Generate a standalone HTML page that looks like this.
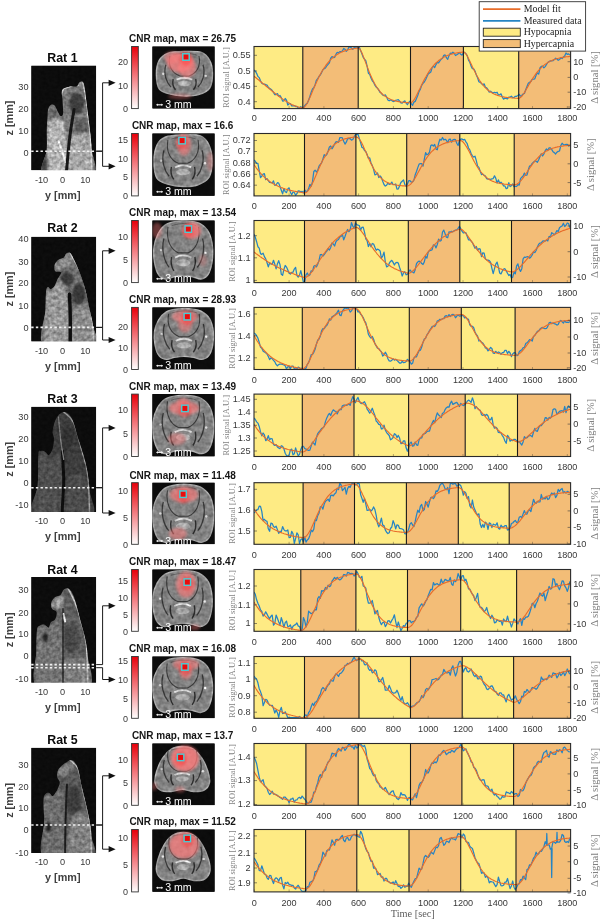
<!DOCTYPE html><html><head><meta charset="utf-8"><style>
html,body{margin:0;padding:0;background:#fff;width:602px;height:920px;overflow:hidden}
svg{display:block;filter:blur(0.35px)}
.t{font-family:"Liberation Sans",sans-serif;fill:#383838}
.s{font-family:"Liberation Serif",serif;fill:#808080}
.b{font-family:"Liberation Sans",sans-serif;font-weight:bold;fill:#111}
</style></head><body>
<svg width="602" height="920" viewBox="0 0 602 920">
<defs>
<linearGradient id="cb" x1="0" y1="1" x2="0" y2="0"><stop offset="0" stop-color="#ffffff"/><stop offset="1" stop-color="#e8000a"/></linearGradient>
<filter id="bl1" x="-20%" y="-20%" width="140%" height="140%"><feGaussianBlur stdDeviation="0.6"/></filter>
<filter id="bl2" x="-30%" y="-30%" width="160%" height="160%"><feGaussianBlur stdDeviation="2.2"/></filter>
<filter id="bl3" x="-30%" y="-30%" width="160%" height="160%"><feGaussianBlur stdDeviation="1.2"/></filter>
<clipPath id="cliptop"><rect x="0" y="0" width="602" height="920"/></clipPath>
</defs>
<rect x="254.0" y="46.5" width="48.8" height="62.1" fill="#feeb84"/>
<rect x="302.8" y="46.5" width="55.4" height="62.1" fill="#f3bd77"/>
<rect x="358.2" y="46.5" width="52.3" height="62.1" fill="#feeb84"/>
<rect x="410.5" y="46.5" width="52.9" height="62.1" fill="#f3bd77"/>
<rect x="463.4" y="46.5" width="55.3" height="62.1" fill="#feeb84"/>
<rect x="518.7" y="46.5" width="51.9" height="62.1" fill="#f3bd77"/>
<clipPath id="cc0"><rect x="254.0" y="46.5" width="316.6" height="62.1"/></clipPath>
<g clip-path="url(#cc0)">
<path d="M254.0,70.0 L255.3,71.2 L256.6,73.3 L257.9,76.4 L259.2,77.6 L260.5,80.7 L261.8,83.2 L263.1,84.0 L264.4,84.2 L265.7,84.7 L267.0,85.1 L268.3,87.1 L269.6,88.4 L270.9,89.2 L272.2,90.5 L273.5,92.4 L274.8,94.6 L276.1,94.6 L277.4,93.6 L278.7,96.0 L280.0,95.5 L281.3,97.6 L282.6,101.1 L283.9,100.8 L285.2,98.5 L286.5,100.1 L287.8,105.1 L289.1,103.7 L290.4,103.6 L291.7,105.9 L293.0,105.8 L294.3,105.6 L295.6,106.6 L296.9,106.4 L298.2,108.0 L299.5,107.9 L300.8,106.7 L302.1,108.0 L303.4,107.8 L304.7,105.7 L306.0,104.2 L307.3,103.3 L308.6,100.3 L309.9,96.5 L311.2,92.2 L312.5,89.0 L313.8,87.7 L315.1,84.7 L316.4,80.3 L317.7,78.5 L319.0,76.5 L320.3,74.9 L321.6,72.6 L322.9,69.8 L324.2,68.7 L325.5,68.0 L326.8,65.8 L328.1,64.3 L329.4,62.8 L330.7,58.2 L332.0,56.6 L333.3,57.6 L334.6,57.4 L335.9,54.4 L337.2,52.4 L338.5,52.9 L339.8,51.7 L341.1,51.5 L342.4,51.0 L343.7,48.5 L345.0,49.3 L346.3,51.3 L347.6,49.9 L348.9,47.1 L350.2,47.2 L351.5,47.9 L352.8,49.3 L354.1,47.6 L355.4,47.1 L356.7,47.1 L358.0,47.1 L359.3,47.1 L360.6,50.4 L361.9,53.8 L363.2,57.4 L364.5,59.2 L365.8,60.6 L367.1,66.2 L368.4,73.2 L369.7,74.4 L371.0,78.1 L372.3,80.8 L373.6,82.2 L374.9,85.2 L376.2,87.1 L377.5,88.2 L378.8,90.1 L380.1,92.4 L381.4,93.3 L382.7,95.0 L384.0,95.7 L385.3,94.8 L386.6,97.1 L387.9,99.9 L389.2,100.8 L390.5,99.9 L391.8,100.5 L393.1,101.6 L394.4,101.2 L395.7,100.3 L397.0,100.0 L398.3,99.7 L399.6,101.2 L400.9,102.9 L402.2,103.1 L403.5,101.7 L404.8,100.9 L406.1,103.2 L407.4,104.7 L408.7,102.4 L410.0,101.2 L411.3,103.6 L412.6,105.3 L413.9,102.1 L415.2,101.4 L416.5,98.4 L417.8,95.2 L419.1,91.4 L420.4,89.1 L421.7,85.3 L423.0,83.4 L424.3,82.0 L425.6,79.8 L426.9,76.8 L428.2,74.1 L429.5,73.0 L430.8,72.0 L432.1,67.7 L433.4,66.1 L434.7,67.5 L436.0,64.6 L437.3,62.5 L438.6,62.9 L439.9,60.8 L441.2,59.2 L442.5,58.2 L443.8,55.3 L445.1,54.9 L446.4,57.7 L447.7,59.4 L449.0,55.6 L450.3,53.2 L451.6,53.5 L452.9,52.2 L454.2,53.2 L455.5,55.5 L456.8,54.7 L458.1,53.9 L459.4,52.5 L460.7,54.3 L462.0,55.1 L463.3,53.0 L464.6,52.4 L465.9,53.6 L467.2,55.6 L468.5,60.1 L469.8,62.3 L471.1,66.1 L472.4,68.7 L473.7,68.9 L475.0,71.0 L476.3,74.9 L477.6,77.8 L478.9,81.8 L480.2,82.4 L481.5,83.6 L482.8,84.9 L484.1,83.8 L485.4,87.3 L486.7,87.9 L488.0,89.7 L489.3,92.1 L490.6,91.2 L491.9,92.4 L493.2,93.1 L494.5,92.3 L495.8,92.9 L497.1,92.2 L498.4,94.9 L499.7,94.8 L501.0,93.8 L502.3,97.1 L503.6,99.2 L504.9,98.1 L506.2,98.3 L507.5,98.8 L508.8,97.2 L510.1,97.1 L511.4,96.2 L512.7,97.7 L514.0,97.4 L515.3,96.3 L516.6,96.3 L517.9,95.4 L519.2,94.3 L520.5,96.2 L521.8,95.5 L523.1,94.0 L524.4,93.5 L525.7,89.7 L527.0,86.4 L528.3,83.3 L529.6,82.3 L530.9,81.4 L532.2,79.3 L533.5,79.1 L534.8,78.8 L536.1,75.3 L537.4,73.0 L538.7,74.1 L540.0,68.0 L541.3,66.4 L542.6,66.1 L543.9,67.8 L545.2,66.6 L546.5,64.5 L547.8,62.5 L549.1,61.6 L550.4,60.9 L551.7,60.9 L553.0,60.7 L554.3,59.6 L555.6,58.2 L556.9,58.9 L558.2,60.3 L559.5,59.5 L560.8,58.0 L562.1,58.5 L563.4,57.1 L564.7,56.1 L566.0,53.0 L567.3,54.4 L568.6,53.9 L569.9,55.1" fill="none" stroke="#2584c4" stroke-width="1.25" stroke-linejoin="round"/>
<path d="M254.0,76.2 L255.0,77.0 L256.0,77.8 L257.1,78.7 L258.1,79.5 L259.1,80.3 L260.1,81.2 L261.1,82.0 L262.1,82.8 L263.1,83.7 L264.2,84.5 L265.2,85.3 L266.2,86.2 L267.2,87.0 L268.2,87.9 L269.2,88.7 L270.3,89.5 L271.3,90.4 L272.3,91.2 L273.3,92.0 L274.3,92.8 L275.4,93.6 L276.4,94.4 L277.4,95.2 L278.4,96.0 L279.4,96.7 L280.4,97.5 L281.4,98.2 L282.5,98.9 L283.5,99.6 L284.5,100.3 L285.5,100.9 L286.5,101.6 L287.6,102.2 L288.6,102.8 L289.6,103.3 L290.6,103.9 L291.6,104.4 L292.6,104.9 L293.6,105.3 L294.7,105.8 L295.7,106.1 L296.7,106.5 L297.7,106.8 L298.7,107.1 L299.8,107.3 L300.8,107.5 L301.8,107.7 L302.8,107.8 L303.8,107.5 L304.8,106.6 L305.8,105.3 L306.8,103.7 L307.8,101.8 L308.8,99.7 L309.9,97.5 L310.9,95.2 L311.9,92.8 L312.9,90.4 L313.9,88.1 L314.9,85.8 L315.9,83.5 L316.9,81.3 L317.9,79.2 L318.9,77.1 L319.9,75.1 L320.9,73.3 L321.9,71.5 L322.9,69.8 L324.0,68.2 L325.0,66.7 L326.0,65.2 L327.0,63.9 L328.0,62.6 L329.0,61.5 L330.0,60.4 L331.0,59.3 L332.0,58.4 L333.0,57.5 L334.0,56.7 L335.0,55.9 L336.0,55.2 L337.0,54.5 L338.1,53.9 L339.1,53.3 L340.1,52.8 L341.1,52.3 L342.1,51.9 L343.1,51.4 L344.1,51.1 L345.1,50.7 L346.1,50.4 L347.1,50.1 L348.1,49.8 L349.1,49.5 L350.1,49.3 L351.1,49.1 L352.2,48.9 L353.2,48.7 L354.2,48.5 L355.2,48.4 L356.2,48.2 L357.2,48.1 L358.2,48.0 L359.2,48.5 L360.2,49.7 L361.2,51.5 L362.2,53.6 L363.2,56.1 L364.2,58.7 L365.2,61.4 L366.2,64.1 L367.3,66.9 L368.3,69.5 L369.3,72.1 L370.3,74.5 L371.3,76.8 L372.3,79.0 L373.3,81.1 L374.3,83.0 L375.3,84.8 L376.3,86.5 L377.3,88.0 L378.3,89.4 L379.3,90.7 L380.3,91.9 L381.3,93.0 L382.3,94.0 L383.3,94.9 L384.4,95.7 L385.4,96.4 L386.4,97.1 L387.4,97.7 L388.4,98.3 L389.4,98.8 L390.4,99.3 L391.4,99.7 L392.4,100.0 L393.4,100.4 L394.4,100.7 L395.4,100.9 L396.4,101.2 L397.4,101.4 L398.4,101.6 L399.4,101.8 L400.4,101.9 L401.4,102.1 L402.5,102.2 L403.5,102.3 L404.5,102.4 L405.5,102.5 L406.5,102.6 L407.5,102.6 L408.5,102.7 L409.5,102.7 L410.5,102.8 L411.5,102.5 L412.5,101.7 L413.6,100.5 L414.6,98.9 L415.6,97.2 L416.6,95.3 L417.6,93.2 L418.6,91.1 L419.7,89.0 L420.7,86.9 L421.7,84.8 L422.7,82.7 L423.7,80.7 L424.7,78.8 L425.8,77.0 L426.8,75.2 L427.8,73.5 L428.8,71.9 L429.8,70.4 L430.8,68.9 L431.9,67.6 L432.9,66.3 L433.9,65.2 L434.9,64.0 L435.9,63.0 L436.9,62.1 L438.0,61.2 L439.0,60.3 L440.0,59.6 L441.0,58.9 L442.0,58.2 L443.1,57.6 L444.1,57.1 L445.1,56.5 L446.1,56.1 L447.1,55.6 L448.1,55.2 L449.2,54.9 L450.2,54.5 L451.2,54.2 L452.2,53.9 L453.2,53.7 L454.2,53.4 L455.3,53.2 L456.3,53.0 L457.3,52.8 L458.3,52.6 L459.3,52.5 L460.3,52.4 L461.4,52.2 L462.4,52.1 L463.4,52.0 L464.4,52.3 L465.4,53.3 L466.4,54.6 L467.4,56.3 L468.4,58.3 L469.4,60.3 L470.4,62.5 L471.4,64.6 L472.4,66.8 L473.5,69.0 L474.5,71.0 L475.5,73.0 L476.5,75.0 L477.5,76.8 L478.5,78.5 L479.5,80.2 L480.5,81.7 L481.5,83.1 L482.5,84.4 L483.5,85.7 L484.5,86.8 L485.5,87.9 L486.5,88.8 L487.5,89.7 L488.5,90.5 L489.5,91.3 L490.5,92.0 L491.6,92.6 L492.6,93.2 L493.6,93.7 L494.6,94.2 L495.6,94.6 L496.6,95.0 L497.6,95.4 L498.6,95.7 L499.6,96.0 L500.6,96.2 L501.6,96.5 L502.6,96.7 L503.6,96.9 L504.6,97.1 L505.6,97.2 L506.6,97.4 L507.6,97.5 L508.6,97.6 L509.7,97.7 L510.7,97.8 L511.7,97.9 L512.7,98.0 L513.7,98.0 L514.7,98.1 L515.7,98.2 L516.7,98.2 L517.7,98.3 L518.7,98.3 L519.7,98.0 L520.7,97.3 L521.8,96.3 L522.8,95.0 L523.8,93.5 L524.8,91.9 L525.8,90.2 L526.8,88.4 L527.9,86.6 L528.9,84.8 L529.9,83.1 L530.9,81.4 L531.9,79.7 L532.9,78.1 L534.0,76.5 L535.0,75.1 L536.0,73.7 L537.0,72.3 L538.0,71.1 L539.1,69.9 L540.1,68.8 L541.1,67.8 L542.1,66.8 L543.1,65.9 L544.1,65.1 L545.2,64.3 L546.2,63.6 L547.2,62.9 L548.2,62.3 L549.2,61.7 L550.2,61.2 L551.3,60.7 L552.3,60.3 L553.3,59.9 L554.3,59.5 L555.3,59.2 L556.4,58.8 L557.4,58.5 L558.4,58.3 L559.4,58.0 L560.4,57.8 L561.4,57.6 L562.5,57.4 L563.5,57.2 L564.5,57.1 L565.5,56.9 L566.5,56.8 L567.5,56.7 L568.6,56.6 L569.6,56.5 L570.6,56.4" fill="none" stroke="#e86c2a" stroke-width="1.15"/>
</g>
<line x1="302.8" y1="46.5" x2="302.8" y2="108.6" stroke="#1a1a1a" stroke-width="1.1"/>
<line x1="358.2" y1="46.5" x2="358.2" y2="108.6" stroke="#1a1a1a" stroke-width="1.1"/>
<line x1="410.5" y1="46.5" x2="410.5" y2="108.6" stroke="#1a1a1a" stroke-width="1.1"/>
<line x1="463.4" y1="46.5" x2="463.4" y2="108.6" stroke="#1a1a1a" stroke-width="1.1"/>
<line x1="518.7" y1="46.5" x2="518.7" y2="108.6" stroke="#1a1a1a" stroke-width="1.1"/>
<line x1="254.3" y1="108.6" x2="254.3" y2="106.1" stroke="#6a5a40" stroke-width="0.5"/>
<text class="t" x="254.3" y="121.15" font-size="9.1" text-anchor="middle">0</text>
<line x1="289.1" y1="108.6" x2="289.1" y2="106.1" stroke="#6a5a40" stroke-width="0.5"/>
<text class="t" x="289.1" y="121.15" font-size="9.1" text-anchor="middle">200</text>
<line x1="323.9" y1="108.6" x2="323.9" y2="106.1" stroke="#6a5a40" stroke-width="0.5"/>
<text class="t" x="323.9" y="121.15" font-size="9.1" text-anchor="middle">400</text>
<line x1="358.6" y1="108.6" x2="358.6" y2="106.1" stroke="#6a5a40" stroke-width="0.5"/>
<text class="t" x="358.6" y="121.15" font-size="9.1" text-anchor="middle">600</text>
<line x1="393.4" y1="108.6" x2="393.4" y2="106.1" stroke="#6a5a40" stroke-width="0.5"/>
<text class="t" x="393.4" y="121.15" font-size="9.1" text-anchor="middle">800</text>
<line x1="428.2" y1="108.6" x2="428.2" y2="106.1" stroke="#6a5a40" stroke-width="0.5"/>
<text class="t" x="428.2" y="121.15" font-size="9.1" text-anchor="middle">1000</text>
<line x1="463.0" y1="108.6" x2="463.0" y2="106.1" stroke="#6a5a40" stroke-width="0.5"/>
<text class="t" x="463.0" y="121.15" font-size="9.1" text-anchor="middle">1200</text>
<line x1="497.7" y1="108.6" x2="497.7" y2="106.1" stroke="#6a5a40" stroke-width="0.5"/>
<text class="t" x="497.7" y="121.15" font-size="9.1" text-anchor="middle">1400</text>
<line x1="532.5" y1="108.6" x2="532.5" y2="106.1" stroke="#6a5a40" stroke-width="0.5"/>
<text class="t" x="532.5" y="121.15" font-size="9.1" text-anchor="middle">1600</text>
<line x1="567.3" y1="108.6" x2="567.3" y2="106.1" stroke="#6a5a40" stroke-width="0.5"/>
<text class="t" x="567.3" y="121.15" font-size="9.1" text-anchor="middle">1800</text>
<line x1="254.0" y1="55.3" x2="257.0" y2="55.3" stroke="#3c3c3c" stroke-width="0.6"/>
<text class="t" x="250.6" y="58.1" font-size="9.2" text-anchor="end">0.55</text>
<line x1="254.0" y1="71.0" x2="257.0" y2="71.0" stroke="#3c3c3c" stroke-width="0.6"/>
<text class="t" x="250.6" y="73.8" font-size="9.2" text-anchor="end">0.5</text>
<line x1="254.0" y1="86.3" x2="257.0" y2="86.3" stroke="#3c3c3c" stroke-width="0.6"/>
<text class="t" x="250.6" y="89.1" font-size="9.2" text-anchor="end">0.45</text>
<line x1="254.0" y1="101.7" x2="257.0" y2="101.7" stroke="#3c3c3c" stroke-width="0.6"/>
<text class="t" x="250.6" y="104.5" font-size="9.2" text-anchor="end">0.4</text>
<line x1="567.6" y1="61.7" x2="570.6" y2="61.7" stroke="#3c3c3c" stroke-width="0.6"/>
<text class="t" x="573.2" y="64.6" font-size="9.2">10</text>
<line x1="567.6" y1="77.4" x2="570.6" y2="77.4" stroke="#3c3c3c" stroke-width="0.6"/>
<text class="t" x="573.2" y="80.3" font-size="9.2">0</text>
<line x1="567.6" y1="92.2" x2="570.6" y2="92.2" stroke="#3c3c3c" stroke-width="0.6"/>
<text class="t" x="573.2" y="95.1" font-size="9.2">-10</text>
<line x1="567.6" y1="107.0" x2="570.6" y2="107.0" stroke="#3c3c3c" stroke-width="0.6"/>
<text class="t" x="573.2" y="109.9" font-size="9.2">-20</text>
<rect x="254.0" y="46.5" width="316.6" height="62.1" fill="none" stroke="#2a2a2a" stroke-width="1.1"/>
<text class="s" transform="translate(229.3,77.5) rotate(-90)" font-size="8.4" text-anchor="middle">ROI signal [A.U.]</text>
<text class="s" transform="translate(598.3,77.5) rotate(-90)" font-size="10.6" text-anchor="middle">&#916; signal [%]</text>
<rect x="254.0" y="133.5" width="50.5" height="62.4" fill="#feeb84"/>
<rect x="304.5" y="133.5" width="51.4" height="62.4" fill="#f3bd77"/>
<rect x="355.9" y="133.5" width="50.8" height="62.4" fill="#feeb84"/>
<rect x="406.7" y="133.5" width="53.1" height="62.4" fill="#f3bd77"/>
<rect x="459.8" y="133.5" width="54.4" height="62.4" fill="#feeb84"/>
<rect x="514.2" y="133.5" width="56.4" height="62.4" fill="#f3bd77"/>
<clipPath id="cc1"><rect x="254.0" y="133.5" width="316.6" height="62.4"/></clipPath>
<g clip-path="url(#cc1)">
<path d="M254.0,160.0 L255.3,161.3 L256.6,163.3 L257.9,163.4 L259.2,170.6 L260.5,177.6 L261.8,176.2 L263.1,174.1 L264.4,173.7 L265.7,179.6 L267.0,178.6 L268.3,180.6 L269.6,182.4 L270.9,182.7 L272.2,183.0 L273.5,180.8 L274.8,185.4 L276.1,185.0 L277.4,182.7 L278.7,183.1 L280.0,186.5 L281.3,190.2 L282.6,193.9 L283.9,188.6 L285.2,191.7 L286.5,192.6 L287.8,188.9 L289.1,187.8 L290.4,192.3 L291.7,194.7 L293.0,192.0 L294.3,192.5 L295.6,195.3 L296.9,193.7 L298.2,190.8 L299.5,191.1 L300.8,191.8 L302.1,191.3 L303.4,192.9 L304.7,189.8 L306.0,191.6 L307.3,191.2 L308.6,188.6 L309.9,184.5 L311.2,186.2 L312.5,181.7 L313.8,171.5 L315.1,170.2 L316.4,172.0 L317.7,170.4 L319.0,166.1 L320.3,164.4 L321.6,162.9 L322.9,159.1 L324.2,154.7 L325.5,155.9 L326.8,154.6 L328.1,151.0 L329.4,146.9 L330.7,146.0 L332.0,148.8 L333.3,146.7 L334.6,144.0 L335.9,141.8 L337.2,141.7 L338.5,142.3 L339.8,137.6 L341.1,137.5 L342.4,137.9 L343.7,141.2 L345.0,144.1 L346.3,142.2 L347.6,138.7 L348.9,138.5 L350.2,138.7 L351.5,140.1 L352.8,139.5 L354.1,137.0 L355.4,134.7 L356.7,134.6 L358.0,134.2 L359.3,138.4 L360.6,142.5 L361.9,147.4 L363.2,147.9 L364.5,150.5 L365.8,151.5 L367.1,154.5 L368.4,158.2 L369.7,157.9 L371.0,162.9 L372.3,165.6 L373.6,169.4 L374.9,174.9 L376.2,174.4 L377.5,172.9 L378.8,177.5 L380.1,175.9 L381.4,177.4 L382.7,181.3 L384.0,184.5 L385.3,186.1 L386.6,185.2 L387.9,183.2 L389.2,184.4 L390.5,183.9 L391.8,182.1 L393.1,184.7 L394.4,184.5 L395.7,184.0 L397.0,189.2 L398.3,188.9 L399.6,185.8 L400.9,182.5 L402.2,181.2 L403.5,179.9 L404.8,184.4 L406.1,186.4 L407.4,184.0 L408.7,180.7 L410.0,180.7 L411.3,182.1 L412.6,181.9 L413.9,180.1 L415.2,174.8 L416.5,171.5 L417.8,167.6 L419.1,164.1 L420.4,163.7 L421.7,163.7 L423.0,166.2 L424.3,159.4 L425.6,152.7 L426.9,154.8 L428.2,154.1 L429.5,152.1 L430.8,145.6 L432.1,144.9 L433.4,146.0 L434.7,144.5 L436.0,149.1 L437.3,149.8 L438.6,143.4 L439.9,139.2 L441.2,140.2 L442.5,137.5 L443.8,139.9 L445.1,139.2 L446.4,140.3 L447.7,142.7 L449.0,139.4 L450.3,139.1 L451.6,142.2 L452.9,139.8 L454.2,139.3 L455.5,139.7 L456.8,143.2 L458.1,145.5 L459.4,140.3 L460.7,139.2 L462.0,138.9 L463.3,140.0 L464.6,139.3 L465.9,141.9 L467.2,143.7 L468.5,148.0 L469.8,149.9 L471.1,153.5 L472.4,155.9 L473.7,157.1 L475.0,156.2 L476.3,160.6 L477.6,166.1 L478.9,167.4 L480.2,171.2 L481.5,174.6 L482.8,174.1 L484.1,175.3 L485.4,176.1 L486.7,178.6 L488.0,179.1 L489.3,179.1 L490.6,179.3 L491.9,178.9 L493.2,178.6 L494.5,175.8 L495.8,178.4 L497.1,183.0 L498.4,179.9 L499.7,183.0 L501.0,182.2 L502.3,183.6 L503.6,186.0 L504.9,185.9 L506.2,188.7 L507.5,188.2 L508.8,182.7 L510.1,186.6 L511.4,185.7 L512.7,183.9 L514.0,186.7 L515.3,186.3 L516.6,186.5 L517.9,184.7 L519.2,185.1 L520.5,178.6 L521.8,177.3 L523.1,176.0 L524.4,173.1 L525.7,175.4 L527.0,175.0 L528.3,170.0 L529.6,166.0 L530.9,165.5 L532.2,163.4 L533.5,162.2 L534.8,161.1 L536.1,161.2 L537.4,162.3 L538.7,159.8 L540.0,156.6 L541.3,153.8 L542.6,156.0 L543.9,154.0 L545.2,150.6 L546.5,148.9 L547.8,150.5 L549.1,147.9 L550.4,147.9 L551.7,149.4 L553.0,151.8 L554.3,152.6 L555.6,154.0 L556.9,152.2 L558.2,151.4 L559.5,151.0 L560.8,145.6 L562.1,143.2 L563.4,144.6 L564.7,144.8 L566.0,144.4 L567.3,144.3 L568.6,146.0 L569.9,145.6" fill="none" stroke="#2584c4" stroke-width="1.25" stroke-linejoin="round"/>
<path d="M254.0,164.5 L255.0,166.0 L256.0,167.5 L257.0,168.9 L258.0,170.2 L259.1,171.5 L260.1,172.7 L261.1,173.8 L262.1,174.9 L263.1,175.9 L264.1,176.9 L265.1,177.8 L266.1,178.7 L267.1,179.5 L268.1,180.3 L269.1,181.1 L270.2,181.8 L271.2,182.4 L272.2,183.1 L273.2,183.7 L274.2,184.3 L275.2,184.8 L276.2,185.3 L277.2,185.8 L278.2,186.3 L279.2,186.7 L280.3,187.2 L281.3,187.6 L282.3,187.9 L283.3,188.3 L284.3,188.6 L285.3,189.0 L286.3,189.3 L287.3,189.6 L288.3,189.9 L289.4,190.1 L290.4,190.4 L291.4,190.6 L292.4,190.8 L293.4,191.0 L294.4,191.3 L295.4,191.4 L296.4,191.6 L297.4,191.8 L298.4,192.0 L299.4,192.1 L300.5,192.3 L301.5,192.4 L302.5,192.6 L303.5,192.7 L304.5,192.8 L305.5,192.7 L306.5,192.2 L307.5,191.4 L308.5,190.2 L309.5,188.8 L310.5,187.1 L311.6,185.2 L312.6,183.1 L313.6,180.9 L314.6,178.6 L315.6,176.2 L316.6,173.9 L317.6,171.5 L318.6,169.2 L319.6,166.9 L320.6,164.7 L321.6,162.6 L322.6,160.6 L323.6,158.7 L324.7,156.9 L325.7,155.2 L326.7,153.6 L327.7,152.1 L328.7,150.7 L329.7,149.4 L330.7,148.2 L331.7,147.1 L332.7,146.1 L333.7,145.1 L334.7,144.3 L335.7,143.5 L336.8,142.8 L337.8,142.1 L338.8,141.5 L339.8,141.0 L340.8,140.5 L341.8,140.0 L342.8,139.6 L343.8,139.3 L344.8,138.9 L345.8,138.6 L346.8,138.4 L347.8,138.1 L348.8,137.9 L349.9,137.7 L350.9,137.5 L351.9,137.4 L352.9,137.2 L353.9,137.1 L354.9,137.0 L355.9,136.9 L356.9,137.1 L357.9,137.7 L358.9,138.6 L360.0,140.0 L361.0,141.6 L362.0,143.5 L363.0,145.6 L364.0,147.9 L365.0,150.2 L366.1,152.6 L367.1,155.0 L368.1,157.3 L369.1,159.6 L370.1,161.8 L371.1,163.9 L372.2,165.9 L373.2,167.7 L374.2,169.5 L375.2,171.1 L376.2,172.6 L377.2,174.0 L378.3,175.2 L379.3,176.4 L380.3,177.4 L381.3,178.4 L382.3,179.3 L383.3,180.0 L384.3,180.7 L385.4,181.4 L386.4,181.9 L387.4,182.4 L388.4,182.9 L389.4,183.3 L390.4,183.6 L391.5,184.0 L392.5,184.2 L393.5,184.5 L394.5,184.7 L395.5,184.9 L396.5,185.1 L397.6,185.2 L398.6,185.4 L399.6,185.5 L400.6,185.6 L401.6,185.7 L402.6,185.8 L403.7,185.8 L404.7,185.9 L405.7,186.0 L406.7,186.0 L407.7,185.9 L408.7,185.5 L409.7,184.9 L410.7,184.1 L411.7,183.0 L412.7,181.7 L413.7,180.2 L414.7,178.6 L415.7,176.9 L416.7,175.1 L417.7,173.3 L418.7,171.4 L419.7,169.6 L420.7,167.8 L421.7,166.0 L422.7,164.2 L423.7,162.5 L424.7,160.9 L425.7,159.3 L426.7,157.9 L427.7,156.5 L428.7,155.1 L429.7,153.9 L430.7,152.7 L431.7,151.7 L432.7,150.7 L433.8,149.7 L434.8,148.8 L435.8,148.0 L436.8,147.3 L437.8,146.6 L438.8,146.0 L439.8,145.4 L440.8,144.9 L441.8,144.4 L442.8,144.0 L443.8,143.6 L444.8,143.2 L445.8,142.9 L446.8,142.6 L447.8,142.3 L448.8,142.1 L449.8,141.8 L450.8,141.6 L451.8,141.5 L452.8,141.3 L453.8,141.1 L454.8,141.0 L455.8,140.9 L456.8,140.8 L457.8,140.7 L458.8,140.6 L459.8,140.5 L460.8,140.6 L461.8,141.1 L462.8,141.8 L463.8,142.9 L464.8,144.2 L465.8,145.7 L466.9,147.4 L467.9,149.2 L468.9,151.1 L469.9,153.1 L470.9,155.1 L471.9,157.1 L472.9,159.0 L473.9,160.9 L474.9,162.8 L475.9,164.5 L476.9,166.2 L477.9,167.8 L478.9,169.3 L479.9,170.7 L481.0,172.0 L482.0,173.2 L483.0,174.3 L484.0,175.3 L485.0,176.3 L486.0,177.1 L487.0,177.9 L488.0,178.7 L489.0,179.3 L490.0,179.9 L491.0,180.5 L492.0,180.9 L493.0,181.4 L494.1,181.8 L495.1,182.1 L496.1,182.5 L497.1,182.8 L498.1,183.0 L499.1,183.2 L500.1,183.5 L501.1,183.6 L502.1,183.8 L503.1,183.9 L504.1,184.1 L505.1,184.2 L506.1,184.3 L507.1,184.4 L508.2,184.5 L509.2,184.5 L510.2,184.6 L511.2,184.7 L512.2,184.7 L513.2,184.8 L514.2,184.8 L515.2,184.7 L516.2,184.4 L517.2,184.0 L518.2,183.3 L519.2,182.4 L520.2,181.4 L521.2,180.3 L522.3,179.0 L523.3,177.6 L524.3,176.2 L525.3,174.7 L526.3,173.2 L527.3,171.7 L528.3,170.2 L529.3,168.7 L530.3,167.2 L531.3,165.8 L532.3,164.4 L533.3,163.0 L534.3,161.8 L535.4,160.5 L536.4,159.4 L537.4,158.3 L538.4,157.2 L539.4,156.3 L540.4,155.4 L541.4,154.5 L542.4,153.7 L543.4,153.0 L544.4,152.3 L545.4,151.6 L546.4,151.0 L547.4,150.5 L548.4,150.0 L549.5,149.5 L550.5,149.1 L551.5,148.7 L552.5,148.3 L553.5,148.0 L554.5,147.7 L555.5,147.4 L556.5,147.2 L557.5,146.9 L558.5,146.7 L559.5,146.5 L560.5,146.4 L561.5,146.2 L562.5,146.1 L563.6,145.9 L564.6,145.8 L565.6,145.7 L566.6,145.6 L567.6,145.5 L568.6,145.4 L569.6,145.4 L570.6,145.3" fill="none" stroke="#e86c2a" stroke-width="1.15"/>
</g>
<line x1="304.5" y1="133.5" x2="304.5" y2="195.9" stroke="#1a1a1a" stroke-width="1.1"/>
<line x1="355.9" y1="133.5" x2="355.9" y2="195.9" stroke="#1a1a1a" stroke-width="1.1"/>
<line x1="406.7" y1="133.5" x2="406.7" y2="195.9" stroke="#1a1a1a" stroke-width="1.1"/>
<line x1="459.8" y1="133.5" x2="459.8" y2="195.9" stroke="#1a1a1a" stroke-width="1.1"/>
<line x1="514.2" y1="133.5" x2="514.2" y2="195.9" stroke="#1a1a1a" stroke-width="1.1"/>
<line x1="254.3" y1="195.9" x2="254.3" y2="193.4" stroke="#6a5a40" stroke-width="0.5"/>
<text class="t" x="254.3" y="208.63" font-size="9.1" text-anchor="middle">0</text>
<line x1="289.1" y1="195.9" x2="289.1" y2="193.4" stroke="#6a5a40" stroke-width="0.5"/>
<text class="t" x="289.1" y="208.63" font-size="9.1" text-anchor="middle">200</text>
<line x1="323.9" y1="195.9" x2="323.9" y2="193.4" stroke="#6a5a40" stroke-width="0.5"/>
<text class="t" x="323.9" y="208.63" font-size="9.1" text-anchor="middle">400</text>
<line x1="358.6" y1="195.9" x2="358.6" y2="193.4" stroke="#6a5a40" stroke-width="0.5"/>
<text class="t" x="358.6" y="208.63" font-size="9.1" text-anchor="middle">600</text>
<line x1="393.4" y1="195.9" x2="393.4" y2="193.4" stroke="#6a5a40" stroke-width="0.5"/>
<text class="t" x="393.4" y="208.63" font-size="9.1" text-anchor="middle">800</text>
<line x1="428.2" y1="195.9" x2="428.2" y2="193.4" stroke="#6a5a40" stroke-width="0.5"/>
<text class="t" x="428.2" y="208.63" font-size="9.1" text-anchor="middle">1000</text>
<line x1="463.0" y1="195.9" x2="463.0" y2="193.4" stroke="#6a5a40" stroke-width="0.5"/>
<text class="t" x="463.0" y="208.63" font-size="9.1" text-anchor="middle">1200</text>
<line x1="497.7" y1="195.9" x2="497.7" y2="193.4" stroke="#6a5a40" stroke-width="0.5"/>
<text class="t" x="497.7" y="208.63" font-size="9.1" text-anchor="middle">1400</text>
<line x1="532.5" y1="195.9" x2="532.5" y2="193.4" stroke="#6a5a40" stroke-width="0.5"/>
<text class="t" x="532.5" y="208.63" font-size="9.1" text-anchor="middle">1600</text>
<line x1="567.3" y1="195.9" x2="567.3" y2="193.4" stroke="#6a5a40" stroke-width="0.5"/>
<text class="t" x="567.3" y="208.63" font-size="9.1" text-anchor="middle">1800</text>
<line x1="254.0" y1="140.5" x2="257.0" y2="140.5" stroke="#3c3c3c" stroke-width="0.6"/>
<text class="t" x="250.6" y="143.3" font-size="9.2" text-anchor="end">0.72</text>
<line x1="254.0" y1="151.5" x2="257.0" y2="151.5" stroke="#3c3c3c" stroke-width="0.6"/>
<text class="t" x="250.6" y="154.3" font-size="9.2" text-anchor="end">0.7</text>
<line x1="254.0" y1="163.0" x2="257.0" y2="163.0" stroke="#3c3c3c" stroke-width="0.6"/>
<text class="t" x="250.6" y="165.8" font-size="9.2" text-anchor="end">0.68</text>
<line x1="254.0" y1="174.3" x2="257.0" y2="174.3" stroke="#3c3c3c" stroke-width="0.6"/>
<text class="t" x="250.6" y="177.1" font-size="9.2" text-anchor="end">0.66</text>
<line x1="254.0" y1="185.2" x2="257.0" y2="185.2" stroke="#3c3c3c" stroke-width="0.6"/>
<text class="t" x="250.6" y="188.0" font-size="9.2" text-anchor="end">0.64</text>
<line x1="567.6" y1="145.2" x2="570.6" y2="145.2" stroke="#3c3c3c" stroke-width="0.6"/>
<text class="t" x="573.2" y="148.1" font-size="9.2">5</text>
<line x1="567.6" y1="163.8" x2="570.6" y2="163.8" stroke="#3c3c3c" stroke-width="0.6"/>
<text class="t" x="573.2" y="166.7" font-size="9.2">0</text>
<line x1="567.6" y1="182.6" x2="570.6" y2="182.6" stroke="#3c3c3c" stroke-width="0.6"/>
<text class="t" x="573.2" y="185.5" font-size="9.2">-5</text>
<rect x="254.0" y="133.5" width="316.6" height="62.4" fill="none" stroke="#2a2a2a" stroke-width="1.1"/>
<text class="s" transform="translate(229.3,164.7) rotate(-90)" font-size="8.4" text-anchor="middle">ROI signal [A.U.]</text>
<text class="s" transform="translate(593.9,164.7) rotate(-90)" font-size="10.6" text-anchor="middle">&#916; signal [%]</text>
<rect x="254.0" y="220.5" width="50.5" height="62.1" fill="#feeb84"/>
<rect x="304.5" y="220.5" width="51.4" height="62.1" fill="#f3bd77"/>
<rect x="355.9" y="220.5" width="52.4" height="62.1" fill="#feeb84"/>
<rect x="408.3" y="220.5" width="51.5" height="62.1" fill="#f3bd77"/>
<rect x="459.8" y="220.5" width="51.7" height="62.1" fill="#feeb84"/>
<rect x="511.5" y="220.5" width="59.1" height="62.1" fill="#f3bd77"/>
<clipPath id="cc2"><rect x="254.0" y="220.5" width="316.6" height="62.1"/></clipPath>
<g clip-path="url(#cc2)">
<path d="M254.0,234.0 L255.3,237.3 L256.6,241.7 L257.9,246.7 L259.2,248.1 L260.5,253.6 L261.8,254.4 L263.1,253.1 L264.4,256.6 L265.7,258.9 L267.0,262.5 L268.3,266.9 L269.6,263.0 L270.9,264.0 L272.2,264.3 L273.5,260.3 L274.8,264.2 L276.1,268.8 L277.4,263.9 L278.7,260.7 L280.0,264.6 L281.3,274.3 L282.6,275.3 L283.9,269.4 L285.2,265.5 L286.5,267.1 L287.8,270.1 L289.1,273.3 L290.4,274.0 L291.7,272.3 L293.0,272.2 L294.3,269.1 L295.6,267.3 L296.9,275.4 L298.2,277.2 L299.5,275.2 L300.8,270.7 L302.1,276.4 L303.4,282.0 L304.7,282.0 L306.0,274.8 L307.3,273.0 L308.6,275.8 L309.9,274.7 L311.2,270.8 L312.5,271.3 L313.8,266.3 L315.1,265.4 L316.4,266.9 L317.7,264.2 L319.0,260.6 L320.3,254.6 L321.6,254.5 L322.9,256.2 L324.2,254.7 L325.5,252.7 L326.8,251.2 L328.1,248.4 L329.4,250.1 L330.7,247.4 L332.0,243.0 L333.3,244.1 L334.6,246.0 L335.9,241.8 L337.2,240.2 L338.5,239.5 L339.8,236.9 L341.1,236.4 L342.4,234.5 L343.7,239.8 L345.0,236.5 L346.3,232.6 L347.6,229.5 L348.9,231.7 L350.2,229.8 L351.5,222.6 L352.8,226.0 L354.1,228.4 L355.4,223.0 L356.7,224.7 L358.0,225.2 L359.3,225.5 L360.6,230.3 L361.9,227.3 L363.2,227.1 L364.5,232.1 L365.8,238.8 L367.1,240.6 L368.4,246.5 L369.7,243.4 L371.0,246.9 L372.3,243.5 L373.6,244.0 L374.9,247.3 L376.2,250.3 L377.5,249.1 L378.8,249.8 L380.1,250.9 L381.4,258.3 L382.7,256.0 L384.0,252.1 L385.3,261.8 L386.6,266.9 L387.9,266.2 L389.2,263.4 L390.5,261.4 L391.8,260.3 L393.1,262.4 L394.4,265.0 L395.7,262.8 L397.0,262.3 L398.3,263.1 L399.6,267.5 L400.9,271.2 L402.2,276.0 L403.5,272.9 L404.8,271.7 L406.1,274.8 L407.4,274.2 L408.7,271.8 L410.0,269.9 L411.3,271.7 L412.6,272.0 L413.9,272.9 L415.2,269.7 L416.5,263.6 L417.8,262.0 L419.1,261.1 L420.4,261.7 L421.7,263.6 L423.0,264.5 L424.3,261.9 L425.6,256.3 L426.9,258.2 L428.2,252.2 L429.5,250.6 L430.8,250.4 L432.1,249.8 L433.4,244.8 L434.7,245.1 L436.0,247.9 L437.3,244.5 L438.6,239.1 L439.9,241.1 L441.2,240.5 L442.5,232.0 L443.8,230.1 L445.1,233.7 L446.4,237.2 L447.7,237.7 L449.0,231.8 L450.3,232.1 L451.6,231.4 L452.9,231.8 L454.2,230.8 L455.5,230.0 L456.8,229.9 L458.1,228.4 L459.4,226.3 L460.7,228.6 L462.0,231.1 L463.3,233.0 L464.6,232.7 L465.9,232.7 L467.2,236.3 L468.5,239.8 L469.8,239.8 L471.1,241.1 L472.4,242.6 L473.7,245.4 L475.0,248.3 L476.3,246.5 L477.6,250.3 L478.9,248.6 L480.2,249.1 L481.5,256.6 L482.8,252.8 L484.1,253.2 L485.4,258.9 L486.7,259.8 L488.0,260.1 L489.3,260.6 L490.6,262.4 L491.9,268.3 L493.2,273.7 L494.5,268.6 L495.8,264.2 L497.1,262.1 L498.4,267.2 L499.7,273.0 L501.0,273.9 L502.3,271.1 L503.6,269.0 L504.9,268.7 L506.2,270.9 L507.5,273.2 L508.8,275.5 L510.1,274.4 L511.4,278.1 L512.7,277.2 L514.0,272.2 L515.3,273.8 L516.6,265.8 L517.9,263.8 L519.2,268.8 L520.5,271.4 L521.8,268.7 L523.1,258.8 L524.4,257.2 L525.7,257.3 L527.0,256.7 L528.3,256.9 L529.6,258.2 L530.9,257.0 L532.2,255.0 L533.5,251.7 L534.8,252.6 L536.1,250.5 L537.4,247.0 L538.7,244.2 L540.0,243.1 L541.3,243.0 L542.6,241.1 L543.9,240.8 L545.2,241.0 L546.5,240.2 L547.8,240.9 L549.1,236.3 L550.4,237.2 L551.7,232.7 L553.0,233.6 L554.3,234.9 L555.6,233.0 L556.9,230.6 L558.2,231.6 L559.5,227.8 L560.8,226.6 L562.1,226.0 L563.4,223.2 L564.7,226.5 L566.0,225.2 L567.3,223.0 L568.6,223.5 L569.9,227.8" fill="none" stroke="#2584c4" stroke-width="1.25" stroke-linejoin="round"/>
<path d="M254.0,252.0 L255.0,252.8 L256.0,253.6 L257.0,254.3 L258.0,255.1 L259.1,255.8 L260.1,256.6 L261.1,257.3 L262.1,258.0 L263.1,258.6 L264.1,259.3 L265.1,260.0 L266.1,260.6 L267.1,261.2 L268.1,261.9 L269.1,262.5 L270.2,263.0 L271.2,263.6 L272.2,264.2 L273.2,264.8 L274.2,265.3 L275.2,265.8 L276.2,266.4 L277.2,266.9 L278.2,267.4 L279.2,267.9 L280.3,268.4 L281.3,268.8 L282.3,269.3 L283.3,269.8 L284.3,270.2 L285.3,270.6 L286.3,271.1 L287.3,271.5 L288.3,271.9 L289.4,272.3 L290.4,272.7 L291.4,273.1 L292.4,273.5 L293.4,273.8 L294.4,274.2 L295.4,274.6 L296.4,274.9 L297.4,275.3 L298.4,275.6 L299.4,275.9 L300.5,276.3 L301.5,276.6 L302.5,276.9 L303.5,277.2 L304.5,277.5 L305.5,277.4 L306.5,276.9 L307.5,276.3 L308.5,275.4 L309.5,274.4 L310.5,273.3 L311.6,272.1 L312.6,270.7 L313.6,269.3 L314.6,267.8 L315.6,266.3 L316.6,264.8 L317.6,263.3 L318.6,261.7 L319.6,260.2 L320.6,258.7 L321.6,257.2 L322.6,255.7 L323.6,254.2 L324.7,252.8 L325.7,251.4 L326.7,250.1 L327.7,248.8 L328.7,247.5 L329.7,246.3 L330.7,245.1 L331.7,243.9 L332.7,242.8 L333.7,241.7 L334.7,240.7 L335.7,239.7 L336.8,238.8 L337.8,237.9 L338.8,237.0 L339.8,236.2 L340.8,235.4 L341.8,234.7 L342.8,234.0 L343.8,233.3 L344.8,232.6 L345.8,232.0 L346.8,231.4 L347.8,230.9 L348.8,230.3 L349.9,229.8 L350.9,229.3 L351.9,228.9 L352.9,228.5 L353.9,228.1 L354.9,227.7 L355.9,227.3 L356.9,227.5 L357.9,228.0 L358.9,228.7 L359.9,229.6 L360.9,230.7 L361.9,232.0 L363.0,233.4 L364.0,234.8 L365.0,236.3 L366.0,237.8 L367.0,239.4 L368.0,240.9 L369.0,242.5 L370.0,244.0 L371.0,245.5 L372.0,247.0 L373.0,248.4 L374.0,249.9 L375.0,251.2 L376.1,252.5 L377.1,253.8 L378.1,255.0 L379.1,256.2 L380.1,257.3 L381.1,258.4 L382.1,259.4 L383.1,260.4 L384.1,261.4 L385.1,262.2 L386.1,263.1 L387.1,263.9 L388.1,264.6 L389.2,265.3 L390.2,266.0 L391.2,266.7 L392.2,267.3 L393.2,267.8 L394.2,268.4 L395.2,268.9 L396.2,269.3 L397.2,269.8 L398.2,270.2 L399.2,270.6 L400.2,271.0 L401.2,271.3 L402.3,271.6 L403.3,271.9 L404.3,272.2 L405.3,272.5 L406.3,272.7 L407.3,273.0 L408.3,273.2 L409.3,273.1 L410.3,272.7 L411.3,272.1 L412.3,271.4 L413.3,270.5 L414.4,269.5 L415.4,268.4 L416.4,267.2 L417.4,266.0 L418.4,264.7 L419.4,263.4 L420.4,262.0 L421.4,260.7 L422.4,259.3 L423.4,258.0 L424.5,256.6 L425.5,255.3 L426.5,254.0 L427.5,252.7 L428.5,251.5 L429.5,250.2 L430.5,249.1 L431.5,247.9 L432.5,246.8 L433.5,245.7 L434.6,244.6 L435.6,243.6 L436.6,242.7 L437.6,241.7 L438.6,240.8 L439.6,240.0 L440.6,239.1 L441.6,238.3 L442.6,237.6 L443.6,236.8 L444.7,236.2 L445.7,235.5 L446.7,234.9 L447.7,234.3 L448.7,233.7 L449.7,233.1 L450.7,232.6 L451.7,232.1 L452.7,231.7 L453.7,231.2 L454.8,230.8 L455.8,230.4 L456.8,230.0 L457.8,229.7 L458.8,229.3 L459.8,229.0 L460.8,229.2 L461.8,229.6 L462.8,230.3 L463.9,231.3 L464.9,232.3 L465.9,233.5 L466.9,234.9 L467.9,236.2 L468.9,237.7 L469.9,239.1 L471.0,240.6 L472.0,242.1 L473.0,243.6 L474.0,245.0 L475.0,246.5 L476.0,247.9 L477.0,249.3 L478.0,250.6 L479.1,251.9 L480.1,253.1 L481.1,254.3 L482.1,255.5 L483.1,256.6 L484.1,257.6 L485.1,258.6 L486.2,259.6 L487.2,260.5 L488.2,261.4 L489.2,262.2 L490.2,263.0 L491.2,263.7 L492.2,264.4 L493.3,265.1 L494.3,265.7 L495.3,266.3 L496.3,266.8 L497.3,267.3 L498.3,267.8 L499.3,268.3 L500.3,268.7 L501.4,269.1 L502.4,269.5 L503.4,269.9 L504.4,270.2 L505.4,270.5 L506.4,270.8 L507.4,271.1 L508.5,271.3 L509.5,271.6 L510.5,271.8 L511.5,272.0 L512.5,271.9 L513.5,271.6 L514.5,271.2 L515.5,270.6 L516.5,269.9 L517.5,269.2 L518.5,268.3 L519.5,267.3 L520.5,266.3 L521.5,265.3 L522.5,264.2 L523.5,263.1 L524.5,262.0 L525.5,260.8 L526.5,259.6 L527.5,258.5 L528.5,257.3 L529.5,256.2 L530.5,255.0 L531.5,253.9 L532.5,252.8 L533.5,251.7 L534.5,250.6 L535.5,249.6 L536.5,248.5 L537.5,247.5 L538.5,246.5 L539.5,245.6 L540.5,244.7 L541.6,243.8 L542.6,242.9 L543.6,242.1 L544.6,241.2 L545.6,240.5 L546.6,239.7 L547.6,239.0 L548.6,238.2 L549.6,237.6 L550.6,236.9 L551.6,236.3 L552.6,235.7 L553.6,235.1 L554.6,234.5 L555.6,234.0 L556.6,233.5 L557.6,233.0 L558.6,232.5 L559.6,232.1 L560.6,231.6 L561.6,231.2 L562.6,230.8 L563.6,230.4 L564.6,230.1 L565.6,229.7 L566.6,229.4 L567.6,229.1 L568.6,228.8 L569.6,228.5 L570.6,228.2" fill="none" stroke="#e86c2a" stroke-width="1.15"/>
</g>
<line x1="304.5" y1="220.5" x2="304.5" y2="282.6" stroke="#1a1a1a" stroke-width="1.1"/>
<line x1="355.9" y1="220.5" x2="355.9" y2="282.6" stroke="#1a1a1a" stroke-width="1.1"/>
<line x1="408.3" y1="220.5" x2="408.3" y2="282.6" stroke="#1a1a1a" stroke-width="1.1"/>
<line x1="459.8" y1="220.5" x2="459.8" y2="282.6" stroke="#1a1a1a" stroke-width="1.1"/>
<line x1="511.5" y1="220.5" x2="511.5" y2="282.6" stroke="#1a1a1a" stroke-width="1.1"/>
<line x1="254.3" y1="282.6" x2="254.3" y2="280.1" stroke="#6a5a40" stroke-width="0.5"/>
<text class="t" x="254.3" y="295.51" font-size="9.1" text-anchor="middle">0</text>
<line x1="289.1" y1="282.6" x2="289.1" y2="280.1" stroke="#6a5a40" stroke-width="0.5"/>
<text class="t" x="289.1" y="295.51" font-size="9.1" text-anchor="middle">200</text>
<line x1="323.9" y1="282.6" x2="323.9" y2="280.1" stroke="#6a5a40" stroke-width="0.5"/>
<text class="t" x="323.9" y="295.51" font-size="9.1" text-anchor="middle">400</text>
<line x1="358.6" y1="282.6" x2="358.6" y2="280.1" stroke="#6a5a40" stroke-width="0.5"/>
<text class="t" x="358.6" y="295.51" font-size="9.1" text-anchor="middle">600</text>
<line x1="393.4" y1="282.6" x2="393.4" y2="280.1" stroke="#6a5a40" stroke-width="0.5"/>
<text class="t" x="393.4" y="295.51" font-size="9.1" text-anchor="middle">800</text>
<line x1="428.2" y1="282.6" x2="428.2" y2="280.1" stroke="#6a5a40" stroke-width="0.5"/>
<text class="t" x="428.2" y="295.51" font-size="9.1" text-anchor="middle">1000</text>
<line x1="463.0" y1="282.6" x2="463.0" y2="280.1" stroke="#6a5a40" stroke-width="0.5"/>
<text class="t" x="463.0" y="295.51" font-size="9.1" text-anchor="middle">1200</text>
<line x1="497.7" y1="282.6" x2="497.7" y2="280.1" stroke="#6a5a40" stroke-width="0.5"/>
<text class="t" x="497.7" y="295.51" font-size="9.1" text-anchor="middle">1400</text>
<line x1="532.5" y1="282.6" x2="532.5" y2="280.1" stroke="#6a5a40" stroke-width="0.5"/>
<text class="t" x="532.5" y="295.51" font-size="9.1" text-anchor="middle">1600</text>
<line x1="567.3" y1="282.6" x2="567.3" y2="280.1" stroke="#6a5a40" stroke-width="0.5"/>
<text class="t" x="567.3" y="295.51" font-size="9.1" text-anchor="middle">1800</text>
<line x1="254.0" y1="235.7" x2="257.0" y2="235.7" stroke="#3c3c3c" stroke-width="0.6"/>
<text class="t" x="250.6" y="238.5" font-size="9.2" text-anchor="end">1.2</text>
<line x1="254.0" y1="257.8" x2="257.0" y2="257.8" stroke="#3c3c3c" stroke-width="0.6"/>
<text class="t" x="250.6" y="260.6" font-size="9.2" text-anchor="end">1.1</text>
<line x1="254.0" y1="280.4" x2="257.0" y2="280.4" stroke="#3c3c3c" stroke-width="0.6"/>
<text class="t" x="250.6" y="283.2" font-size="9.2" text-anchor="end">1</text>
<line x1="567.6" y1="226.0" x2="570.6" y2="226.0" stroke="#3c3c3c" stroke-width="0.6"/>
<text class="t" x="573.2" y="228.9" font-size="9.2">10</text>
<line x1="567.6" y1="251.7" x2="570.6" y2="251.7" stroke="#3c3c3c" stroke-width="0.6"/>
<text class="t" x="573.2" y="254.6" font-size="9.2">0</text>
<line x1="567.6" y1="277.0" x2="570.6" y2="277.0" stroke="#3c3c3c" stroke-width="0.6"/>
<text class="t" x="573.2" y="279.9" font-size="9.2">-10</text>
<rect x="254.0" y="220.5" width="316.6" height="62.1" fill="none" stroke="#2a2a2a" stroke-width="1.1"/>
<text class="s" transform="translate(234.5,251.6) rotate(-90)" font-size="8.4" text-anchor="middle">ROI signal [A.U.]</text>
<text class="s" transform="translate(598.3,251.6) rotate(-90)" font-size="10.6" text-anchor="middle">&#916; signal [%]</text>
<rect x="254.0" y="307.4" width="48.3" height="62.1" fill="#feeb84"/>
<rect x="302.3" y="307.4" width="53.1" height="62.1" fill="#f3bd77"/>
<rect x="355.4" y="307.4" width="53.9" height="62.1" fill="#feeb84"/>
<rect x="409.3" y="307.4" width="52.0" height="62.1" fill="#f3bd77"/>
<rect x="461.3" y="307.4" width="53.8" height="62.1" fill="#feeb84"/>
<rect x="515.1" y="307.4" width="55.5" height="62.1" fill="#f3bd77"/>
<clipPath id="cc3"><rect x="254.0" y="307.4" width="316.6" height="62.1"/></clipPath>
<g clip-path="url(#cc3)">
<path d="M254.0,333.0 L255.3,333.9 L256.6,335.7 L257.9,338.1 L259.2,342.3 L260.5,347.0 L261.8,348.2 L263.1,351.1 L264.4,351.9 L265.7,352.8 L267.0,354.0 L268.3,356.5 L269.6,359.6 L270.9,357.8 L272.2,358.6 L273.5,360.4 L274.8,361.7 L276.1,364.4 L277.4,365.8 L278.7,364.6 L280.0,364.0 L281.3,364.2 L282.6,364.5 L283.9,365.0 L285.2,365.8 L286.5,368.9 L287.8,366.9 L289.1,366.1 L290.4,368.6 L291.7,366.2 L293.0,366.1 L294.3,368.6 L295.6,368.9 L296.9,368.9 L298.2,367.1 L299.5,367.8 L300.8,368.9 L302.1,368.0 L303.4,368.9 L304.7,368.9 L306.0,368.3 L307.3,364.3 L308.6,362.6 L309.9,359.0 L311.2,354.7 L312.5,354.4 L313.8,352.3 L315.1,349.3 L316.4,344.1 L317.7,340.3 L319.0,339.0 L320.3,336.2 L321.6,330.8 L322.9,328.7 L324.2,328.7 L325.5,326.6 L326.8,325.6 L328.1,322.9 L329.4,318.9 L330.7,320.0 L332.0,316.8 L333.3,316.1 L334.6,315.2 L335.9,314.0 L337.2,312.3 L338.5,310.2 L339.8,315.2 L341.1,315.7 L342.4,311.2 L343.7,309.3 L345.0,308.0 L346.3,308.5 L347.6,308.0 L348.9,308.9 L350.2,312.1 L351.5,310.9 L352.8,308.0 L354.1,308.0 L355.4,308.0 L356.7,309.0 L358.0,312.0 L359.3,311.6 L360.6,314.1 L361.9,315.5 L363.2,317.5 L364.5,320.8 L365.8,322.9 L367.1,327.8 L368.4,334.3 L369.7,336.6 L371.0,338.1 L372.3,336.4 L373.6,339.3 L374.9,343.6 L376.2,345.9 L377.5,348.1 L378.8,348.5 L380.1,350.3 L381.4,352.0 L382.7,356.1 L384.0,355.0 L385.3,352.2 L386.6,354.3 L387.9,358.7 L389.2,360.9 L390.5,361.2 L391.8,360.2 L393.1,358.9 L394.4,360.1 L395.7,359.3 L397.0,360.4 L398.3,361.7 L399.6,363.0 L400.9,363.0 L402.2,361.3 L403.5,362.7 L404.8,362.5 L406.1,361.6 L407.4,359.4 L408.7,360.4 L410.0,361.5 L411.3,364.1 L412.6,363.3 L413.9,357.9 L415.2,356.8 L416.5,356.9 L417.8,353.4 L419.1,350.7 L420.4,350.2 L421.7,347.1 L423.0,342.4 L424.3,339.1 L425.6,338.3 L426.9,334.9 L428.2,333.2 L429.5,330.5 L430.8,328.7 L432.1,326.5 L433.4,326.0 L434.7,326.5 L436.0,324.4 L437.3,320.9 L438.6,320.6 L439.9,319.3 L441.2,319.5 L442.5,318.7 L443.8,318.6 L445.1,316.1 L446.4,315.6 L447.7,316.9 L449.0,314.6 L450.3,316.5 L451.6,314.8 L452.9,314.3 L454.2,315.1 L455.5,317.8 L456.8,316.1 L458.1,315.1 L459.4,316.1 L460.7,315.8 L462.0,315.6 L463.3,315.5 L464.6,317.9 L465.9,317.4 L467.2,318.8 L468.5,319.4 L469.8,324.9 L471.1,326.3 L472.4,326.3 L473.7,327.7 L475.0,332.0 L476.3,334.5 L477.6,336.2 L478.9,341.0 L480.2,340.5 L481.5,342.4 L482.8,343.1 L484.1,345.1 L485.4,347.9 L486.7,348.4 L488.0,350.9 L489.3,349.5 L490.6,347.4 L491.9,348.5 L493.2,353.1 L494.5,353.3 L495.8,351.3 L497.1,352.9 L498.4,352.0 L499.7,352.5 L501.0,354.3 L502.3,352.6 L503.6,352.6 L504.9,350.4 L506.2,350.3 L507.5,353.6 L508.8,351.3 L510.1,353.0 L511.4,356.6 L512.7,354.0 L514.0,352.6 L515.3,352.8 L516.6,355.6 L517.9,355.3 L519.2,352.0 L520.5,350.5 L521.8,349.9 L523.1,347.7 L524.4,347.5 L525.7,343.6 L527.0,342.7 L528.3,341.4 L529.6,339.6 L530.9,340.0 L532.2,341.0 L533.5,336.4 L534.8,335.5 L536.1,333.3 L537.4,331.4 L538.7,330.9 L540.0,329.0 L541.3,328.1 L542.6,327.4 L543.9,328.3 L545.2,328.7 L546.5,328.5 L547.8,326.4 L549.1,322.9 L550.4,322.3 L551.7,323.7 L553.0,323.0 L554.3,323.6 L555.6,324.1 L556.9,325.1 L558.2,324.5 L559.5,321.4 L560.8,320.4 L562.1,321.8 L563.4,323.1 L564.7,320.6 L566.0,322.4 L567.3,322.2 L568.6,322.5 L569.9,321.6" fill="none" stroke="#2584c4" stroke-width="1.25" stroke-linejoin="round"/>
<path d="M254.0,335.3 L255.0,337.2 L256.0,339.0 L257.0,340.7 L258.0,342.3 L259.0,343.8 L260.0,345.3 L261.0,346.7 L262.1,347.9 L263.1,349.2 L264.1,350.3 L265.1,351.4 L266.1,352.5 L267.1,353.5 L268.1,354.4 L269.1,355.3 L270.1,356.2 L271.1,356.9 L272.1,357.7 L273.1,358.4 L274.1,359.1 L275.1,359.7 L276.1,360.3 L277.1,360.9 L278.1,361.5 L279.2,362.0 L280.2,362.5 L281.2,362.9 L282.2,363.4 L283.2,363.8 L284.2,364.2 L285.2,364.6 L286.2,364.9 L287.2,365.3 L288.2,365.6 L289.2,365.9 L290.2,366.2 L291.2,366.4 L292.2,366.7 L293.2,366.9 L294.2,367.2 L295.3,367.4 L296.3,367.6 L297.3,367.8 L298.3,368.0 L299.3,368.1 L300.3,368.3 L301.3,368.5 L302.3,368.6 L303.3,368.5 L304.3,368.0 L305.3,367.2 L306.3,366.0 L307.3,364.6 L308.3,362.9 L309.3,361.0 L310.3,358.8 L311.3,356.6 L312.3,354.2 L313.3,351.8 L314.3,349.4 L315.3,346.9 L316.3,344.5 L317.3,342.1 L318.3,339.8 L319.3,337.6 L320.3,335.4 L321.3,333.4 L322.3,331.4 L323.3,329.6 L324.3,327.8 L325.3,326.2 L326.3,324.7 L327.3,323.2 L328.3,321.9 L329.4,320.7 L330.4,319.5 L331.4,318.5 L332.4,317.5 L333.4,316.6 L334.4,315.8 L335.4,315.0 L336.4,314.3 L337.4,313.7 L338.4,313.1 L339.4,312.6 L340.4,312.1 L341.4,311.6 L342.4,311.3 L343.4,310.9 L344.4,310.6 L345.4,310.3 L346.4,310.0 L347.4,309.8 L348.4,309.5 L349.4,309.3 L350.4,309.2 L351.4,309.0 L352.4,308.9 L353.4,308.7 L354.4,308.6 L355.4,308.5 L356.4,308.7 L357.4,309.2 L358.5,310.1 L359.5,311.4 L360.5,313.0 L361.5,314.9 L362.5,316.9 L363.5,319.2 L364.6,321.5 L365.6,323.9 L366.6,326.3 L367.6,328.7 L368.6,331.0 L369.6,333.3 L370.7,335.5 L371.7,337.6 L372.7,339.6 L373.7,341.4 L374.7,343.2 L375.7,344.9 L376.8,346.4 L377.8,347.8 L378.8,349.1 L379.8,350.3 L380.8,351.4 L381.8,352.4 L382.9,353.3 L383.9,354.2 L384.9,354.9 L385.9,355.6 L386.9,356.2 L387.9,356.8 L389.0,357.3 L390.0,357.7 L391.0,358.1 L392.0,358.5 L393.0,358.8 L394.0,359.1 L395.1,359.3 L396.1,359.6 L397.1,359.8 L398.1,360.0 L399.1,360.1 L400.1,360.3 L401.2,360.4 L402.2,360.5 L403.2,360.6 L404.2,360.7 L405.2,360.8 L406.2,360.8 L407.3,360.9 L408.3,361.0 L409.3,361.0 L410.3,360.9 L411.3,360.5 L412.3,359.9 L413.3,358.9 L414.3,357.8 L415.3,356.4 L416.3,354.9 L417.3,353.2 L418.3,351.4 L419.3,349.5 L420.3,347.6 L421.3,345.7 L422.3,343.7 L423.3,341.8 L424.3,340.0 L425.3,338.2 L426.3,336.4 L427.3,334.7 L428.3,333.1 L429.3,331.6 L430.3,330.2 L431.3,328.9 L432.3,327.6 L433.3,326.4 L434.3,325.3 L435.3,324.3 L436.3,323.4 L437.3,322.5 L438.3,321.7 L439.3,321.0 L440.3,320.3 L441.3,319.7 L442.3,319.1 L443.3,318.6 L444.3,318.1 L445.3,317.7 L446.3,317.3 L447.3,316.9 L448.3,316.6 L449.3,316.3 L450.3,316.1 L451.3,315.8 L452.3,315.6 L453.3,315.4 L454.3,315.2 L455.3,315.1 L456.3,314.9 L457.3,314.8 L458.3,314.7 L459.3,314.6 L460.3,314.5 L461.3,314.4 L462.3,314.5 L463.3,315.0 L464.3,315.7 L465.4,316.7 L466.4,317.9 L467.4,319.4 L468.4,321.0 L469.4,322.7 L470.4,324.5 L471.5,326.4 L472.5,328.2 L473.5,330.1 L474.5,331.9 L475.5,333.7 L476.5,335.4 L477.5,337.1 L478.6,338.6 L479.6,340.1 L480.6,341.4 L481.6,342.7 L482.6,343.9 L483.6,345.0 L484.6,346.0 L485.7,347.0 L486.7,347.8 L487.7,348.6 L488.7,349.3 L489.7,350.0 L490.7,350.6 L491.8,351.1 L492.8,351.6 L493.8,352.0 L494.8,352.4 L495.8,352.7 L496.8,353.0 L497.8,353.3 L498.9,353.6 L499.9,353.8 L500.9,354.0 L501.9,354.2 L502.9,354.3 L503.9,354.5 L504.9,354.6 L506.0,354.7 L507.0,354.8 L508.0,354.9 L509.0,355.0 L510.0,355.1 L511.0,355.1 L512.1,355.2 L513.1,355.2 L514.1,355.3 L515.1,355.3 L516.1,355.2 L517.1,355.0 L518.1,354.5 L519.1,353.9 L520.1,353.1 L521.2,352.2 L522.2,351.1 L523.2,350.0 L524.2,348.7 L525.2,347.4 L526.2,346.1 L527.2,344.7 L528.2,343.4 L529.2,342.0 L530.2,340.6 L531.2,339.3 L532.3,338.0 L533.3,336.8 L534.3,335.6 L535.3,334.5 L536.3,333.4 L537.3,332.4 L538.3,331.4 L539.3,330.5 L540.3,329.6 L541.3,328.8 L542.3,328.1 L543.4,327.4 L544.4,326.8 L545.4,326.2 L546.4,325.6 L547.4,325.1 L548.4,324.6 L549.4,324.2 L550.4,323.8 L551.4,323.4 L552.4,323.1 L553.4,322.8 L554.5,322.5 L555.5,322.2 L556.5,322.0 L557.5,321.8 L558.5,321.6 L559.5,321.4 L560.5,321.3 L561.5,321.1 L562.5,321.0 L563.5,320.9 L564.5,320.8 L565.6,320.7 L566.6,320.6 L567.6,320.5 L568.6,320.4 L569.6,320.4 L570.6,320.3" fill="none" stroke="#e86c2a" stroke-width="1.15"/>
</g>
<line x1="302.3" y1="307.4" x2="302.3" y2="369.5" stroke="#1a1a1a" stroke-width="1.1"/>
<line x1="355.4" y1="307.4" x2="355.4" y2="369.5" stroke="#1a1a1a" stroke-width="1.1"/>
<line x1="409.3" y1="307.4" x2="409.3" y2="369.5" stroke="#1a1a1a" stroke-width="1.1"/>
<line x1="461.3" y1="307.4" x2="461.3" y2="369.5" stroke="#1a1a1a" stroke-width="1.1"/>
<line x1="515.1" y1="307.4" x2="515.1" y2="369.5" stroke="#1a1a1a" stroke-width="1.1"/>
<line x1="254.3" y1="369.5" x2="254.3" y2="367.0" stroke="#6a5a40" stroke-width="0.5"/>
<text class="t" x="254.3" y="382.58" font-size="9.1" text-anchor="middle">0</text>
<line x1="289.1" y1="369.5" x2="289.1" y2="367.0" stroke="#6a5a40" stroke-width="0.5"/>
<text class="t" x="289.1" y="382.58" font-size="9.1" text-anchor="middle">200</text>
<line x1="323.9" y1="369.5" x2="323.9" y2="367.0" stroke="#6a5a40" stroke-width="0.5"/>
<text class="t" x="323.9" y="382.58" font-size="9.1" text-anchor="middle">400</text>
<line x1="358.6" y1="369.5" x2="358.6" y2="367.0" stroke="#6a5a40" stroke-width="0.5"/>
<text class="t" x="358.6" y="382.58" font-size="9.1" text-anchor="middle">600</text>
<line x1="393.4" y1="369.5" x2="393.4" y2="367.0" stroke="#6a5a40" stroke-width="0.5"/>
<text class="t" x="393.4" y="382.58" font-size="9.1" text-anchor="middle">800</text>
<line x1="428.2" y1="369.5" x2="428.2" y2="367.0" stroke="#6a5a40" stroke-width="0.5"/>
<text class="t" x="428.2" y="382.58" font-size="9.1" text-anchor="middle">1000</text>
<line x1="463.0" y1="369.5" x2="463.0" y2="367.0" stroke="#6a5a40" stroke-width="0.5"/>
<text class="t" x="463.0" y="382.58" font-size="9.1" text-anchor="middle">1200</text>
<line x1="497.7" y1="369.5" x2="497.7" y2="367.0" stroke="#6a5a40" stroke-width="0.5"/>
<text class="t" x="497.7" y="382.58" font-size="9.1" text-anchor="middle">1400</text>
<line x1="532.5" y1="369.5" x2="532.5" y2="367.0" stroke="#6a5a40" stroke-width="0.5"/>
<text class="t" x="532.5" y="382.58" font-size="9.1" text-anchor="middle">1600</text>
<line x1="567.3" y1="369.5" x2="567.3" y2="367.0" stroke="#6a5a40" stroke-width="0.5"/>
<text class="t" x="567.3" y="382.58" font-size="9.1" text-anchor="middle">1800</text>
<line x1="254.0" y1="314.0" x2="257.0" y2="314.0" stroke="#3c3c3c" stroke-width="0.6"/>
<text class="t" x="250.6" y="316.8" font-size="9.2" text-anchor="end">1.6</text>
<line x1="254.0" y1="335.8" x2="257.0" y2="335.8" stroke="#3c3c3c" stroke-width="0.6"/>
<text class="t" x="250.6" y="338.6" font-size="9.2" text-anchor="end">1.4</text>
<line x1="254.0" y1="357.8" x2="257.0" y2="357.8" stroke="#3c3c3c" stroke-width="0.6"/>
<text class="t" x="250.6" y="360.6" font-size="9.2" text-anchor="end">1.2</text>
<line x1="567.6" y1="320.4" x2="570.6" y2="320.4" stroke="#3c3c3c" stroke-width="0.6"/>
<text class="t" x="573.2" y="323.3" font-size="9.2">10</text>
<line x1="567.6" y1="337.0" x2="570.6" y2="337.0" stroke="#3c3c3c" stroke-width="0.6"/>
<text class="t" x="573.2" y="339.9" font-size="9.2">0</text>
<line x1="567.6" y1="353.0" x2="570.6" y2="353.0" stroke="#3c3c3c" stroke-width="0.6"/>
<text class="t" x="573.2" y="355.9" font-size="9.2">-10</text>
<line x1="567.6" y1="367.8" x2="570.6" y2="367.8" stroke="#3c3c3c" stroke-width="0.6"/>
<text class="t" x="573.2" y="370.7" font-size="9.2">-20</text>
<rect x="254.0" y="307.4" width="316.6" height="62.1" fill="none" stroke="#2a2a2a" stroke-width="1.1"/>
<text class="s" transform="translate(234.5,338.4) rotate(-90)" font-size="8.4" text-anchor="middle">ROI signal [A.U.]</text>
<text class="s" transform="translate(598.3,338.4) rotate(-90)" font-size="10.6" text-anchor="middle">&#916; signal [%]</text>
<rect x="254.0" y="394.1" width="48.3" height="62.4" fill="#feeb84"/>
<rect x="302.3" y="394.1" width="51.7" height="62.4" fill="#f3bd77"/>
<rect x="354.0" y="394.1" width="54.6" height="62.4" fill="#feeb84"/>
<rect x="408.6" y="394.1" width="56.6" height="62.4" fill="#f3bd77"/>
<rect x="465.2" y="394.1" width="52.3" height="62.4" fill="#feeb84"/>
<rect x="517.5" y="394.1" width="53.1" height="62.4" fill="#f3bd77"/>
<clipPath id="cc4"><rect x="254.0" y="394.1" width="316.6" height="62.4"/></clipPath>
<g clip-path="url(#cc4)">
<path d="M254.0,418.0 L255.3,419.5 L256.6,421.9 L257.9,423.1 L259.2,426.4 L260.5,431.7 L261.8,435.8 L263.1,433.0 L264.4,434.9 L265.7,440.7 L267.0,439.3 L268.3,435.7 L269.6,439.9 L270.9,438.5 L272.2,438.9 L273.5,444.4 L274.8,445.4 L276.1,444.6 L277.4,446.9 L278.7,448.0 L280.0,448.6 L281.3,445.7 L282.6,446.3 L283.9,448.8 L285.2,453.2 L286.5,455.5 L287.8,455.9 L289.1,455.2 L290.4,450.0 L291.7,449.1 L293.0,454.8 L294.3,453.8 L295.6,447.9 L296.9,452.3 L298.2,455.9 L299.5,454.4 L300.8,449.5 L302.1,446.5 L303.4,446.3 L304.7,448.5 L306.0,449.1 L307.3,449.9 L308.6,450.4 L309.9,450.1 L311.2,445.9 L312.5,442.1 L313.8,443.3 L315.1,445.0 L316.4,437.8 L317.7,433.6 L319.0,432.0 L320.3,430.3 L321.6,428.5 L322.9,427.9 L324.2,426.6 L325.5,421.4 L326.8,417.9 L328.1,415.2 L329.4,413.4 L330.7,415.5 L332.0,412.0 L333.3,409.8 L334.6,411.0 L335.9,411.3 L337.2,413.9 L338.5,411.0 L339.8,409.4 L341.1,409.7 L342.4,405.8 L343.7,405.2 L345.0,405.1 L346.3,405.3 L347.6,404.8 L348.9,403.9 L350.2,405.4 L351.5,400.1 L352.8,396.7 L354.1,399.1 L355.4,402.7 L356.7,399.6 L358.0,397.4 L359.3,401.2 L360.6,403.1 L361.9,403.6 L363.2,402.8 L364.5,401.7 L365.8,404.5 L367.1,409.2 L368.4,410.9 L369.7,413.2 L371.0,411.0 L372.3,408.2 L373.6,412.1 L374.9,415.5 L376.2,421.1 L377.5,422.3 L378.8,424.4 L380.1,424.6 L381.4,429.0 L382.7,428.7 L384.0,425.2 L385.3,429.9 L386.6,432.6 L387.9,434.0 L389.2,435.5 L390.5,439.8 L391.8,438.9 L393.1,437.5 L394.4,433.7 L395.7,434.5 L397.0,437.6 L398.3,435.4 L399.6,438.1 L400.9,443.6 L402.2,443.4 L403.5,440.9 L404.8,440.8 L406.1,447.8 L407.4,451.2 L408.7,447.7 L410.0,443.2 L411.3,442.1 L412.6,446.2 L413.9,445.7 L415.2,442.0 L416.5,444.8 L417.8,445.3 L419.1,439.9 L420.4,437.8 L421.7,438.0 L423.0,434.3 L424.3,433.8 L425.6,433.1 L426.9,431.5 L428.2,431.2 L429.5,431.1 L430.8,426.3 L432.1,423.3 L433.4,420.4 L434.7,422.8 L436.0,417.0 L437.3,412.9 L438.6,415.0 L439.9,416.1 L441.2,417.6 L442.5,413.3 L443.8,412.7 L445.1,409.6 L446.4,407.7 L447.7,406.9 L449.0,407.2 L450.3,403.3 L451.6,401.2 L452.9,404.4 L454.2,403.6 L455.5,402.9 L456.8,402.3 L458.1,404.3 L459.4,406.5 L460.7,403.4 L462.0,404.7 L463.3,405.6 L464.6,404.8 L465.9,403.5 L467.2,401.3 L468.5,400.1 L469.8,401.1 L471.1,402.4 L472.4,397.8 L473.7,401.6 L475.0,408.7 L476.3,406.6 L477.6,408.5 L478.9,409.6 L480.2,410.2 L481.5,414.7 L482.8,415.4 L484.1,414.4 L485.4,415.5 L486.7,414.3 L488.0,416.0 L489.3,419.8 L490.6,419.8 L491.9,417.4 L493.2,424.9 L494.5,428.2 L495.8,427.1 L497.1,428.5 L498.4,432.5 L499.7,432.7 L501.0,432.9 L502.3,435.6 L503.6,437.4 L504.9,441.0 L506.2,443.3 L507.5,435.3 L508.8,437.1 L510.1,441.2 L511.4,440.0 L512.7,440.6 L514.0,439.3 L515.3,439.4 L516.6,440.9 L517.9,442.1 L519.2,441.3 L520.5,443.4 L521.8,445.0 L523.1,441.9 L524.4,436.6 L525.7,438.1 L527.0,437.7 L528.3,436.3 L529.6,435.7 L530.9,435.6 L532.2,436.9 L533.5,432.0 L534.8,428.4 L536.1,430.9 L537.4,431.3 L538.7,427.7 L540.0,425.6 L541.3,425.6 L542.6,423.9 L543.9,422.4 L545.2,417.6 L546.5,417.9 L547.8,420.1 L549.1,417.4 L550.4,418.2 L551.7,416.2 L553.0,409.6 L554.3,408.8 L555.6,409.4 L556.9,413.9 L558.2,413.0 L559.5,411.4 L560.8,410.9 L562.1,410.7 L563.4,412.1 L564.7,406.5 L566.0,412.7 L567.3,407.9 L568.6,405.9 L569.9,408.0" fill="none" stroke="#2584c4" stroke-width="1.25" stroke-linejoin="round"/>
<path d="M254.0,424.3 L255.0,425.9 L256.0,427.4 L257.0,428.8 L258.0,430.1 L259.0,431.4 L260.0,432.6 L261.0,433.7 L262.1,434.8 L263.1,435.8 L264.1,436.8 L265.1,437.7 L266.1,438.6 L267.1,439.4 L268.1,440.2 L269.1,440.9 L270.1,441.6 L271.1,442.3 L272.1,442.9 L273.1,443.5 L274.1,444.1 L275.1,444.6 L276.1,445.1 L277.1,445.6 L278.1,446.1 L279.2,446.5 L280.2,446.9 L281.2,447.3 L282.2,447.7 L283.2,448.0 L284.2,448.3 L285.2,448.6 L286.2,448.9 L287.2,449.2 L288.2,449.5 L289.2,449.7 L290.2,450.0 L291.2,450.2 L292.2,450.4 L293.2,450.6 L294.2,450.8 L295.3,451.0 L296.3,451.1 L297.3,451.3 L298.3,451.5 L299.3,451.6 L300.3,451.7 L301.3,451.9 L302.3,452.0 L303.3,451.9 L304.3,451.5 L305.3,450.9 L306.4,450.1 L307.4,449.2 L308.4,448.2 L309.4,447.0 L310.4,445.8 L311.4,444.5 L312.4,443.1 L313.5,441.7 L314.5,440.2 L315.5,438.7 L316.5,437.3 L317.5,435.8 L318.5,434.3 L319.5,432.8 L320.5,431.3 L321.6,429.9 L322.6,428.5 L323.6,427.1 L324.6,425.7 L325.6,424.4 L326.6,423.1 L327.6,421.8 L328.7,420.6 L329.7,419.4 L330.7,418.2 L331.7,417.1 L332.7,416.0 L333.7,415.0 L334.7,414.0 L335.8,413.0 L336.8,412.1 L337.8,411.2 L338.8,410.3 L339.8,409.5 L340.8,408.7 L341.8,407.9 L342.8,407.2 L343.9,406.5 L344.9,405.8 L345.9,405.2 L346.9,404.6 L347.9,404.0 L348.9,403.4 L349.9,402.9 L351.0,402.4 L352.0,401.9 L353.0,401.4 L354.0,401.0 L355.0,401.0 L356.0,401.0 L357.0,401.1 L358.0,401.3 L359.1,401.6 L360.1,402.0 L361.1,402.4 L362.1,403.0 L363.1,403.7 L364.1,404.4 L365.1,405.3 L366.1,406.2 L367.1,407.2 L368.2,408.3 L369.2,409.4 L370.2,410.5 L371.2,411.7 L372.2,413.0 L373.2,414.2 L374.2,415.5 L375.2,416.8 L376.2,418.1 L377.3,419.3 L378.3,420.6 L379.3,421.9 L380.3,423.1 L381.3,424.3 L382.3,425.6 L383.3,426.7 L384.3,427.9 L385.3,429.0 L386.4,430.1 L387.4,431.2 L388.4,432.2 L389.4,433.2 L390.4,434.1 L391.4,435.0 L392.4,435.9 L393.4,436.8 L394.4,437.6 L395.5,438.4 L396.5,439.1 L397.5,439.9 L398.5,440.5 L399.5,441.2 L400.5,441.8 L401.5,442.4 L402.5,443.0 L403.5,443.5 L404.6,444.0 L405.6,444.5 L406.6,445.0 L407.6,445.4 L408.6,445.8 L409.6,445.7 L410.6,445.4 L411.6,445.0 L412.6,444.5 L413.7,443.8 L414.7,443.1 L415.7,442.3 L416.7,441.4 L417.7,440.4 L418.7,439.4 L419.7,438.3 L420.7,437.3 L421.7,436.2 L422.8,435.0 L423.8,433.9 L424.8,432.8 L425.8,431.6 L426.8,430.5 L427.8,429.4 L428.8,428.3 L429.8,427.2 L430.8,426.1 L431.8,425.0 L432.9,424.0 L433.9,423.0 L434.9,422.0 L435.9,421.0 L436.9,420.1 L437.9,419.1 L438.9,418.2 L439.9,417.4 L440.9,416.5 L442.0,415.7 L443.0,414.9 L444.0,414.1 L445.0,413.4 L446.0,412.7 L447.0,412.0 L448.0,411.3 L449.0,410.7 L450.0,410.0 L451.1,409.4 L452.1,408.9 L453.1,408.3 L454.1,407.8 L455.1,407.3 L456.1,406.8 L457.1,406.3 L458.1,405.9 L459.1,405.4 L460.1,405.0 L461.2,404.6 L462.2,404.2 L463.2,403.9 L464.2,403.5 L465.2,403.2 L466.2,403.2 L467.2,403.2 L468.2,403.3 L469.2,403.5 L470.2,403.8 L471.2,404.1 L472.2,404.6 L473.2,405.1 L474.3,405.7 L475.3,406.5 L476.3,407.2 L477.3,408.1 L478.3,409.0 L479.3,410.0 L480.3,411.0 L481.3,412.1 L482.3,413.2 L483.3,414.3 L484.3,415.5 L485.3,416.6 L486.3,417.8 L487.3,418.9 L488.3,420.1 L489.3,421.2 L490.3,422.3 L491.4,423.4 L492.4,424.5 L493.4,425.6 L494.4,426.6 L495.4,427.6 L496.4,428.6 L497.4,429.5 L498.4,430.4 L499.4,431.3 L500.4,432.2 L501.4,433.0 L502.4,433.8 L503.4,434.5 L504.4,435.2 L505.4,435.9 L506.4,436.6 L507.4,437.2 L508.4,437.8 L509.5,438.4 L510.5,438.9 L511.5,439.4 L512.5,439.9 L513.5,440.4 L514.5,440.8 L515.5,441.2 L516.5,441.6 L517.5,442.0 L518.5,441.9 L519.5,441.7 L520.5,441.3 L521.5,440.9 L522.5,440.3 L523.5,439.7 L524.5,439.0 L525.5,438.2 L526.5,437.4 L527.5,436.6 L528.5,435.7 L529.5,434.8 L530.5,433.9 L531.5,433.0 L532.5,432.1 L533.5,431.2 L534.5,430.3 L535.5,429.3 L536.5,428.4 L537.5,427.6 L538.5,426.7 L539.5,425.8 L540.5,425.0 L541.5,424.2 L542.5,423.3 L543.5,422.6 L544.6,421.8 L545.6,421.1 L546.6,420.3 L547.6,419.6 L548.6,419.0 L549.6,418.3 L550.6,417.7 L551.6,417.1 L552.6,416.5 L553.6,415.9 L554.6,415.4 L555.6,414.9 L556.6,414.4 L557.6,413.9 L558.6,413.4 L559.6,413.0 L560.6,412.6 L561.6,412.2 L562.6,411.8 L563.6,411.4 L564.6,411.0 L565.6,410.7 L566.6,410.4 L567.6,410.1 L568.6,409.8 L569.6,409.5 L570.6,409.2" fill="none" stroke="#e86c2a" stroke-width="1.15"/>
</g>
<line x1="302.3" y1="394.1" x2="302.3" y2="456.5" stroke="#1a1a1a" stroke-width="1.1"/>
<line x1="354.0" y1="394.1" x2="354.0" y2="456.5" stroke="#1a1a1a" stroke-width="1.1"/>
<line x1="408.6" y1="394.1" x2="408.6" y2="456.5" stroke="#1a1a1a" stroke-width="1.1"/>
<line x1="465.2" y1="394.1" x2="465.2" y2="456.5" stroke="#1a1a1a" stroke-width="1.1"/>
<line x1="517.5" y1="394.1" x2="517.5" y2="456.5" stroke="#1a1a1a" stroke-width="1.1"/>
<line x1="254.3" y1="456.5" x2="254.3" y2="454.0" stroke="#6a5a40" stroke-width="0.5"/>
<text class="t" x="254.3" y="469.76" font-size="9.1" text-anchor="middle">0</text>
<line x1="289.1" y1="456.5" x2="289.1" y2="454.0" stroke="#6a5a40" stroke-width="0.5"/>
<text class="t" x="289.1" y="469.76" font-size="9.1" text-anchor="middle">200</text>
<line x1="323.9" y1="456.5" x2="323.9" y2="454.0" stroke="#6a5a40" stroke-width="0.5"/>
<text class="t" x="323.9" y="469.76" font-size="9.1" text-anchor="middle">400</text>
<line x1="358.6" y1="456.5" x2="358.6" y2="454.0" stroke="#6a5a40" stroke-width="0.5"/>
<text class="t" x="358.6" y="469.76" font-size="9.1" text-anchor="middle">600</text>
<line x1="393.4" y1="456.5" x2="393.4" y2="454.0" stroke="#6a5a40" stroke-width="0.5"/>
<text class="t" x="393.4" y="469.76" font-size="9.1" text-anchor="middle">800</text>
<line x1="428.2" y1="456.5" x2="428.2" y2="454.0" stroke="#6a5a40" stroke-width="0.5"/>
<text class="t" x="428.2" y="469.76" font-size="9.1" text-anchor="middle">1000</text>
<line x1="463.0" y1="456.5" x2="463.0" y2="454.0" stroke="#6a5a40" stroke-width="0.5"/>
<text class="t" x="463.0" y="469.76" font-size="9.1" text-anchor="middle">1200</text>
<line x1="497.7" y1="456.5" x2="497.7" y2="454.0" stroke="#6a5a40" stroke-width="0.5"/>
<text class="t" x="497.7" y="469.76" font-size="9.1" text-anchor="middle">1400</text>
<line x1="532.5" y1="456.5" x2="532.5" y2="454.0" stroke="#6a5a40" stroke-width="0.5"/>
<text class="t" x="532.5" y="469.76" font-size="9.1" text-anchor="middle">1600</text>
<line x1="567.3" y1="456.5" x2="567.3" y2="454.0" stroke="#6a5a40" stroke-width="0.5"/>
<text class="t" x="567.3" y="469.76" font-size="9.1" text-anchor="middle">1800</text>
<line x1="254.0" y1="399.3" x2="257.0" y2="399.3" stroke="#3c3c3c" stroke-width="0.6"/>
<text class="t" x="250.6" y="402.1" font-size="9.2" text-anchor="end">1.45</text>
<line x1="254.0" y1="412.0" x2="257.0" y2="412.0" stroke="#3c3c3c" stroke-width="0.6"/>
<text class="t" x="250.6" y="414.8" font-size="9.2" text-anchor="end">1.4</text>
<line x1="254.0" y1="425.3" x2="257.0" y2="425.3" stroke="#3c3c3c" stroke-width="0.6"/>
<text class="t" x="250.6" y="428.1" font-size="9.2" text-anchor="end">1.35</text>
<line x1="254.0" y1="438.0" x2="257.0" y2="438.0" stroke="#3c3c3c" stroke-width="0.6"/>
<text class="t" x="250.6" y="440.8" font-size="9.2" text-anchor="end">1.3</text>
<line x1="254.0" y1="451.0" x2="257.0" y2="451.0" stroke="#3c3c3c" stroke-width="0.6"/>
<text class="t" x="250.6" y="453.8" font-size="9.2" text-anchor="end">1.25</text>
<line x1="567.6" y1="406.7" x2="570.6" y2="406.7" stroke="#3c3c3c" stroke-width="0.6"/>
<text class="t" x="573.2" y="409.6" font-size="9.2">5</text>
<line x1="567.6" y1="424.1" x2="570.6" y2="424.1" stroke="#3c3c3c" stroke-width="0.6"/>
<text class="t" x="573.2" y="427.0" font-size="9.2">0</text>
<line x1="567.6" y1="441.5" x2="570.6" y2="441.5" stroke="#3c3c3c" stroke-width="0.6"/>
<text class="t" x="573.2" y="444.4" font-size="9.2">-5</text>
<rect x="254.0" y="394.1" width="316.6" height="62.4" fill="none" stroke="#2a2a2a" stroke-width="1.1"/>
<text class="s" transform="translate(229.3,425.3) rotate(-90)" font-size="8.4" text-anchor="middle">ROI signal [A.U.]</text>
<text class="s" transform="translate(593.9,425.3) rotate(-90)" font-size="10.6" text-anchor="middle">&#916; signal [%]</text>
<rect x="254.0" y="482.7" width="49.1" height="61.6" fill="#feeb84"/>
<rect x="303.1" y="482.7" width="51.4" height="61.6" fill="#f3bd77"/>
<rect x="354.5" y="482.7" width="51.9" height="61.6" fill="#feeb84"/>
<rect x="406.4" y="482.7" width="51.9" height="61.6" fill="#f3bd77"/>
<rect x="458.3" y="482.7" width="50.9" height="61.6" fill="#feeb84"/>
<rect x="509.2" y="482.7" width="61.4" height="61.6" fill="#f3bd77"/>
<clipPath id="cc5"><rect x="254.0" y="482.7" width="316.6" height="61.6"/></clipPath>
<g clip-path="url(#cc5)">
<path d="M254.0,513.0 L255.3,511.6 L256.6,510.0 L257.9,509.7 L259.2,506.1 L260.5,506.4 L261.8,511.4 L263.1,520.6 L264.4,519.3 L265.7,520.8 L267.0,521.4 L268.3,528.8 L269.6,531.3 L270.9,523.2 L272.2,523.6 L273.5,526.4 L274.8,527.4 L276.1,526.2 L277.4,529.6 L278.7,533.3 L280.0,531.3 L281.3,531.7 L282.6,526.6 L283.9,529.6 L285.2,530.9 L286.5,530.9 L287.8,529.9 L289.1,537.6 L290.4,537.4 L291.7,531.4 L293.0,533.7 L294.3,543.3 L295.6,538.6 L296.9,532.8 L298.2,534.8 L299.5,543.5 L300.8,539.6 L302.1,538.7 L303.4,541.9 L304.7,536.8 L306.0,542.1 L307.3,540.0 L308.6,538.8 L309.9,535.4 L311.2,530.1 L312.5,531.7 L313.8,529.1 L315.1,520.0 L316.4,520.7 L317.7,515.7 L319.0,513.3 L320.3,506.9 L321.6,506.5 L322.9,509.1 L324.2,504.1 L325.5,501.3 L326.8,500.3 L328.1,499.1 L329.4,501.4 L330.7,495.5 L332.0,495.1 L333.3,495.9 L334.6,493.9 L335.9,492.8 L337.2,488.2 L338.5,489.5 L339.8,483.3 L341.1,485.0 L342.4,490.6 L343.7,489.1 L345.0,487.3 L346.3,494.2 L347.6,488.6 L348.9,486.3 L350.2,487.4 L351.5,484.0 L352.8,483.3 L354.1,483.3 L355.4,484.8 L356.7,484.4 L358.0,483.3 L359.3,483.9 L360.6,494.5 L361.9,498.3 L363.2,502.3 L364.5,498.3 L365.8,504.1 L367.1,510.3 L368.4,510.1 L369.7,509.4 L371.0,511.0 L372.3,509.8 L373.6,506.9 L374.9,509.6 L376.2,515.4 L377.5,523.3 L378.8,526.9 L380.1,523.0 L381.4,518.1 L382.7,525.2 L384.0,525.7 L385.3,529.9 L386.6,532.3 L387.9,533.5 L389.2,532.8 L390.5,528.5 L391.8,527.0 L393.1,520.6 L394.4,524.0 L395.7,528.8 L397.0,524.8 L398.3,525.3 L399.6,528.4 L400.9,528.6 L402.2,529.0 L403.5,529.8 L404.8,533.7 L406.1,534.0 L407.4,532.2 L408.7,529.1 L410.0,524.1 L411.3,522.6 L412.6,525.0 L413.9,526.5 L415.2,521.5 L416.5,515.2 L417.8,510.2 L419.1,512.5 L420.4,506.2 L421.7,504.4 L423.0,510.9 L424.3,509.6 L425.6,501.5 L426.9,503.7 L428.2,507.2 L429.5,501.8 L430.8,497.6 L432.1,497.2 L433.4,498.6 L434.7,496.7 L436.0,490.8 L437.3,491.3 L438.6,489.3 L439.9,485.2 L441.2,483.9 L442.5,483.3 L443.8,485.5 L445.1,488.9 L446.4,489.6 L447.7,487.5 L449.0,493.7 L450.3,483.5 L451.6,483.3 L452.9,484.3 L454.2,483.5 L455.5,483.5 L456.8,486.1 L458.1,485.5 L459.4,484.4 L460.7,485.5 L462.0,489.3 L463.3,495.2 L464.6,491.7 L465.9,493.1 L467.2,498.7 L468.5,496.6 L469.8,505.6 L471.1,508.0 L472.4,500.0 L473.7,507.1 L475.0,510.0 L476.3,513.0 L477.6,515.0 L478.9,513.8 L480.2,524.0 L481.5,527.5 L482.8,524.4 L484.1,527.4 L485.4,522.1 L486.7,523.4 L488.0,529.3 L489.3,522.9 L490.6,523.5 L491.9,527.6 L493.2,524.1 L494.5,524.7 L495.8,525.3 L497.1,522.8 L498.4,528.2 L499.7,529.2 L501.0,525.2 L502.3,526.8 L503.6,526.9 L504.9,525.7 L506.2,525.5 L507.5,530.0 L508.8,529.7 L510.1,528.4 L511.4,523.5 L512.7,523.0 L514.0,521.5 L515.3,520.4 L516.6,522.5 L517.9,522.2 L519.2,517.3 L520.5,516.5 L521.8,517.6 L523.1,513.9 L524.4,510.6 L525.7,514.1 L527.0,514.1 L528.3,510.8 L529.6,509.7 L530.9,511.6 L532.2,505.3 L533.5,499.3 L534.8,502.4 L536.1,503.3 L537.4,501.4 L538.7,502.0 L540.0,501.9 L541.3,494.5 L542.6,499.1 L543.9,498.4 L545.2,498.9 L546.5,496.4 L547.8,499.5 L549.1,498.7 L550.4,495.3 L551.7,493.0 L553.0,494.6 L554.3,492.9 L555.6,497.7 L556.9,495.4 L558.2,489.3 L559.5,491.3 L560.8,489.4 L562.1,488.5 L563.4,492.8 L564.7,491.7 L566.0,493.0 L567.3,491.3 L568.6,492.1 L569.9,493.0" fill="none" stroke="#2584c4" stroke-width="1.25" stroke-linejoin="round"/>
<path d="M254.0,508.9 L255.0,510.5 L256.0,512.0 L257.0,513.5 L258.0,514.8 L259.0,516.1 L260.0,517.4 L261.0,518.6 L262.0,519.7 L263.0,520.7 L264.0,521.7 L265.0,522.7 L266.0,523.6 L267.0,524.4 L268.0,525.2 L269.0,526.0 L270.0,526.7 L271.0,527.4 L272.0,528.0 L273.0,528.7 L274.0,529.2 L275.0,529.8 L276.0,530.3 L277.0,530.8 L278.0,531.3 L279.1,531.8 L280.1,532.2 L281.1,532.6 L282.1,533.0 L283.1,533.3 L284.1,533.7 L285.1,534.0 L286.1,534.3 L287.1,534.6 L288.1,534.9 L289.1,535.2 L290.1,535.4 L291.1,535.6 L292.1,535.9 L293.1,536.1 L294.1,536.3 L295.1,536.5 L296.1,536.7 L297.1,536.8 L298.1,537.0 L299.1,537.2 L300.1,537.3 L301.1,537.4 L302.1,537.6 L303.1,537.7 L304.1,537.6 L305.1,537.1 L306.1,536.3 L307.1,535.2 L308.1,533.8 L309.1,532.2 L310.2,530.4 L311.2,528.4 L312.2,526.2 L313.2,524.0 L314.2,521.8 L315.2,519.5 L316.2,517.2 L317.2,515.0 L318.2,512.8 L319.2,510.7 L320.2,508.7 L321.2,506.8 L322.2,504.9 L323.3,503.2 L324.3,501.6 L325.3,500.0 L326.3,498.6 L327.3,497.2 L328.3,496.0 L329.3,494.9 L330.3,493.8 L331.3,492.8 L332.3,491.9 L333.3,491.1 L334.3,490.3 L335.4,489.6 L336.4,489.0 L337.4,488.4 L338.4,487.9 L339.4,487.5 L340.4,487.0 L341.4,486.6 L342.4,486.3 L343.4,486.0 L344.4,485.7 L345.4,485.4 L346.4,485.2 L347.4,485.0 L348.5,484.8 L349.5,484.6 L350.5,484.5 L351.5,484.3 L352.5,484.2 L353.5,484.1 L354.5,484.0 L355.5,484.2 L356.5,484.7 L357.6,485.6 L358.6,486.9 L359.6,488.5 L360.6,490.3 L361.6,492.3 L362.6,494.5 L363.7,496.7 L364.7,499.0 L365.7,501.3 L366.7,503.6 L367.7,505.8 L368.7,508.0 L369.8,510.0 L370.8,512.0 L371.8,513.8 L372.8,515.5 L373.8,517.1 L374.9,518.6 L375.9,520.0 L376.9,521.3 L377.9,522.4 L378.9,523.5 L379.9,524.5 L381.0,525.3 L382.0,526.1 L383.0,526.8 L384.0,527.5 L385.0,528.1 L386.0,528.6 L387.1,529.1 L388.1,529.5 L389.1,529.9 L390.1,530.2 L391.1,530.5 L392.2,530.7 L393.2,531.0 L394.2,531.2 L395.2,531.4 L396.2,531.5 L397.2,531.7 L398.3,531.8 L399.3,531.9 L400.3,532.0 L401.3,532.1 L402.3,532.2 L403.3,532.2 L404.4,532.3 L405.4,532.4 L406.4,532.4 L407.4,532.3 L408.4,531.9 L409.5,531.2 L410.5,530.3 L411.5,529.2 L412.5,527.8 L413.5,526.3 L414.5,524.6 L415.6,522.8 L416.6,521.0 L417.6,519.1 L418.6,517.2 L419.6,515.3 L420.6,513.5 L421.7,511.7 L422.7,509.9 L423.7,508.2 L424.7,506.6 L425.7,505.1 L426.8,503.6 L427.8,502.2 L428.8,501.0 L429.8,499.8 L430.8,498.7 L431.8,497.6 L432.9,496.7 L433.9,495.8 L434.9,495.0 L435.9,494.2 L436.9,493.5 L437.9,492.9 L439.0,492.3 L440.0,491.8 L441.0,491.3 L442.0,490.9 L443.0,490.5 L444.1,490.1 L445.1,489.8 L446.1,489.5 L447.1,489.2 L448.1,489.0 L449.1,488.8 L450.2,488.6 L451.2,488.4 L452.2,488.3 L453.2,488.1 L454.2,488.0 L455.2,487.9 L456.3,487.8 L457.3,487.7 L458.3,487.6 L459.3,487.8 L460.3,488.2 L461.4,489.0 L462.4,490.1 L463.4,491.5 L464.4,493.1 L465.4,494.8 L466.4,496.7 L467.5,498.6 L468.5,500.6 L469.5,502.6 L470.5,504.5 L471.5,506.4 L472.6,508.2 L473.6,509.9 L474.6,511.6 L475.6,513.1 L476.6,514.5 L477.6,515.9 L478.7,517.1 L479.7,518.3 L480.7,519.3 L481.7,520.3 L482.7,521.1 L483.8,521.9 L484.8,522.6 L485.8,523.3 L486.8,523.9 L487.8,524.4 L488.8,524.8 L489.9,525.3 L490.9,525.6 L491.9,526.0 L492.9,526.3 L493.9,526.5 L494.9,526.8 L496.0,527.0 L497.0,527.1 L498.0,527.3 L499.0,527.4 L500.0,527.6 L501.1,527.7 L502.1,527.8 L503.1,527.9 L504.1,527.9 L505.1,528.0 L506.1,528.1 L507.2,528.1 L508.2,528.2 L509.2,528.2 L510.2,528.1 L511.2,527.9 L512.2,527.6 L513.2,527.0 L514.2,526.4 L515.2,525.6 L516.2,524.7 L517.3,523.7 L518.3,522.6 L519.3,521.5 L520.3,520.3 L521.3,519.0 L522.3,517.8 L523.3,516.5 L524.3,515.2 L525.3,514.0 L526.3,512.7 L527.3,511.5 L528.3,510.3 L529.3,509.2 L530.3,508.1 L531.3,507.0 L532.4,506.0 L533.4,505.1 L534.4,504.1 L535.4,503.3 L536.4,502.5 L537.4,501.7 L538.4,500.9 L539.4,500.3 L540.4,499.6 L541.4,499.0 L542.4,498.5 L543.4,497.9 L544.4,497.4 L545.4,497.0 L546.4,496.6 L547.4,496.2 L548.5,495.8 L549.5,495.5 L550.5,495.2 L551.5,494.9 L552.5,494.6 L553.5,494.4 L554.5,494.2 L555.5,494.0 L556.5,493.8 L557.5,493.6 L558.5,493.4 L559.5,493.3 L560.5,493.1 L561.5,493.0 L562.5,492.9 L563.6,492.8 L564.6,492.7 L565.6,492.6 L566.6,492.6 L567.6,492.5 L568.6,492.4 L569.6,492.4 L570.6,492.3" fill="none" stroke="#e86c2a" stroke-width="1.15"/>
</g>
<line x1="303.1" y1="482.7" x2="303.1" y2="544.3" stroke="#1a1a1a" stroke-width="1.1"/>
<line x1="354.5" y1="482.7" x2="354.5" y2="544.3" stroke="#1a1a1a" stroke-width="1.1"/>
<line x1="406.4" y1="482.7" x2="406.4" y2="544.3" stroke="#1a1a1a" stroke-width="1.1"/>
<line x1="458.3" y1="482.7" x2="458.3" y2="544.3" stroke="#1a1a1a" stroke-width="1.1"/>
<line x1="509.2" y1="482.7" x2="509.2" y2="544.3" stroke="#1a1a1a" stroke-width="1.1"/>
<line x1="254.3" y1="544.3" x2="254.3" y2="541.8" stroke="#6a5a40" stroke-width="0.5"/>
<text class="t" x="254.3" y="557.74" font-size="9.1" text-anchor="middle">0</text>
<line x1="289.1" y1="544.3" x2="289.1" y2="541.8" stroke="#6a5a40" stroke-width="0.5"/>
<text class="t" x="289.1" y="557.74" font-size="9.1" text-anchor="middle">200</text>
<line x1="323.9" y1="544.3" x2="323.9" y2="541.8" stroke="#6a5a40" stroke-width="0.5"/>
<text class="t" x="323.9" y="557.74" font-size="9.1" text-anchor="middle">400</text>
<line x1="358.6" y1="544.3" x2="358.6" y2="541.8" stroke="#6a5a40" stroke-width="0.5"/>
<text class="t" x="358.6" y="557.74" font-size="9.1" text-anchor="middle">600</text>
<line x1="393.4" y1="544.3" x2="393.4" y2="541.8" stroke="#6a5a40" stroke-width="0.5"/>
<text class="t" x="393.4" y="557.74" font-size="9.1" text-anchor="middle">800</text>
<line x1="428.2" y1="544.3" x2="428.2" y2="541.8" stroke="#6a5a40" stroke-width="0.5"/>
<text class="t" x="428.2" y="557.74" font-size="9.1" text-anchor="middle">1000</text>
<line x1="463.0" y1="544.3" x2="463.0" y2="541.8" stroke="#6a5a40" stroke-width="0.5"/>
<text class="t" x="463.0" y="557.74" font-size="9.1" text-anchor="middle">1200</text>
<line x1="497.7" y1="544.3" x2="497.7" y2="541.8" stroke="#6a5a40" stroke-width="0.5"/>
<text class="t" x="497.7" y="557.74" font-size="9.1" text-anchor="middle">1400</text>
<line x1="532.5" y1="544.3" x2="532.5" y2="541.8" stroke="#6a5a40" stroke-width="0.5"/>
<text class="t" x="532.5" y="557.74" font-size="9.1" text-anchor="middle">1600</text>
<line x1="567.3" y1="544.3" x2="567.3" y2="541.8" stroke="#6a5a40" stroke-width="0.5"/>
<text class="t" x="567.3" y="557.74" font-size="9.1" text-anchor="middle">1800</text>
<line x1="254.0" y1="489.3" x2="257.0" y2="489.3" stroke="#3c3c3c" stroke-width="0.6"/>
<text class="t" x="250.6" y="492.1" font-size="9.2" text-anchor="end">1.7</text>
<line x1="254.0" y1="510.2" x2="257.0" y2="510.2" stroke="#3c3c3c" stroke-width="0.6"/>
<text class="t" x="250.6" y="513.0" font-size="9.2" text-anchor="end">1.6</text>
<line x1="254.0" y1="531.0" x2="257.0" y2="531.0" stroke="#3c3c3c" stroke-width="0.6"/>
<text class="t" x="250.6" y="533.8" font-size="9.2" text-anchor="end">1.5</text>
<line x1="567.6" y1="494.3" x2="570.6" y2="494.3" stroke="#3c3c3c" stroke-width="0.6"/>
<text class="t" x="573.2" y="497.2" font-size="9.2">5</text>
<line x1="567.6" y1="510.9" x2="570.6" y2="510.9" stroke="#3c3c3c" stroke-width="0.6"/>
<text class="t" x="573.2" y="513.8" font-size="9.2">0</text>
<line x1="567.6" y1="527.4" x2="570.6" y2="527.4" stroke="#3c3c3c" stroke-width="0.6"/>
<text class="t" x="573.2" y="530.3" font-size="9.2">-5</text>
<line x1="567.6" y1="543.9" x2="570.6" y2="543.9" stroke="#3c3c3c" stroke-width="0.6"/>
<text class="t" x="573.2" y="546.8" font-size="9.2">-10</text>
<rect x="254.0" y="482.7" width="316.6" height="61.6" fill="none" stroke="#2a2a2a" stroke-width="1.1"/>
<text class="s" transform="translate(234.5,513.5) rotate(-90)" font-size="8.4" text-anchor="middle">ROI signal [A.U.]</text>
<text class="s" transform="translate(598.3,513.5) rotate(-90)" font-size="10.6" text-anchor="middle">&#916; signal [%]</text>
<rect x="254.0" y="569.5" width="46.8" height="61.8" fill="#feeb84"/>
<rect x="300.8" y="569.5" width="55.1" height="61.8" fill="#f3bd77"/>
<rect x="355.9" y="569.5" width="51.6" height="61.8" fill="#feeb84"/>
<rect x="407.5" y="569.5" width="53.2" height="61.8" fill="#f3bd77"/>
<rect x="460.7" y="569.5" width="55.9" height="61.8" fill="#feeb84"/>
<rect x="516.6" y="569.5" width="54.0" height="61.8" fill="#f3bd77"/>
<clipPath id="cc6"><rect x="254.0" y="569.5" width="316.6" height="61.8"/></clipPath>
<g clip-path="url(#cc6)">
<path d="M254.0,592.0 L255.3,594.3 L256.6,599.8 L257.9,603.3 L259.2,606.0 L260.5,609.9 L261.8,611.5 L263.1,616.1 L264.4,614.7 L265.7,611.8 L267.0,614.1 L268.3,616.7 L269.6,618.6 L270.9,616.2 L272.2,615.1 L273.5,625.2 L274.8,623.5 L276.1,615.1 L277.4,618.2 L278.7,621.9 L280.0,624.7 L281.3,617.6 L282.6,621.8 L283.9,627.3 L285.2,622.7 L286.5,621.1 L287.8,626.6 L289.1,626.3 L290.4,625.0 L291.7,629.3 L293.0,626.3 L294.3,625.2 L295.6,624.7 L296.9,622.9 L298.2,626.1 L299.5,626.4 L300.8,630.7 L302.1,630.5 L303.4,617.6 L304.7,620.7 L306.0,627.0 L307.3,622.2 L308.6,611.2 L309.9,612.6 L311.2,613.7 L312.5,613.0 L313.8,611.3 L315.1,609.6 L316.4,609.9 L317.7,598.6 L319.0,596.5 L320.3,598.4 L321.6,590.7 L322.9,591.1 L324.2,590.4 L325.5,587.5 L326.8,589.0 L328.1,585.2 L329.4,586.7 L330.7,585.7 L332.0,581.2 L333.3,579.4 L334.6,577.4 L335.9,579.1 L337.2,577.3 L338.5,579.0 L339.8,579.9 L341.1,579.0 L342.4,577.4 L343.7,574.5 L345.0,574.7 L346.3,576.1 L347.6,572.4 L348.9,572.8 L350.2,573.8 L351.5,573.4 L352.8,573.5 L354.1,576.0 L355.4,574.3 L356.7,571.2 L358.0,573.6 L359.3,577.2 L360.6,577.8 L361.9,576.3 L363.2,586.0 L364.5,586.6 L365.8,588.1 L367.1,597.5 L368.4,603.2 L369.7,603.1 L371.0,602.7 L372.3,600.5 L373.6,607.0 L374.9,613.8 L376.2,611.7 L377.5,610.5 L378.8,617.5 L380.1,621.8 L381.4,624.7 L382.7,622.5 L384.0,622.2 L385.3,626.7 L386.6,624.6 L387.9,620.8 L389.2,620.7 L390.5,623.0 L391.8,620.4 L393.1,618.2 L394.4,614.8 L395.7,621.6 L397.0,627.6 L398.3,622.0 L399.6,626.4 L400.9,630.7 L402.2,628.2 L403.5,625.6 L404.8,626.5 L406.1,623.4 L407.4,622.7 L408.7,620.5 L410.0,620.6 L411.3,622.8 L412.6,621.6 L413.9,621.3 L415.2,620.4 L416.5,617.2 L417.8,616.5 L419.1,607.9 L420.4,605.7 L421.7,603.8 L423.0,606.1 L424.3,604.5 L425.6,601.4 L426.9,599.7 L428.2,595.7 L429.5,592.5 L430.8,589.3 L432.1,589.9 L433.4,582.6 L434.7,585.0 L436.0,584.1 L437.3,583.6 L438.6,585.1 L439.9,584.5 L441.2,579.1 L442.5,582.7 L443.8,581.7 L445.1,579.4 L446.4,580.1 L447.7,581.1 L449.0,580.7 L450.3,577.5 L451.6,584.0 L452.9,585.3 L454.2,579.8 L455.5,581.7 L456.8,579.9 L458.1,573.6 L459.4,576.7 L460.7,580.6 L462.0,575.9 L463.3,575.7 L464.6,580.9 L465.9,579.2 L467.2,583.3 L468.5,588.8 L469.8,589.1 L471.1,592.0 L472.4,594.2 L473.7,595.6 L475.0,600.7 L476.3,597.4 L477.6,593.4 L478.9,603.6 L480.2,607.4 L481.5,607.3 L482.8,609.1 L484.1,611.8 L485.4,610.4 L486.7,607.5 L488.0,612.6 L489.3,615.7 L490.6,618.5 L491.9,615.2 L493.2,617.5 L494.5,622.9 L495.8,622.4 L497.1,619.8 L498.4,620.8 L499.7,621.4 L501.0,620.9 L502.3,625.1 L503.6,619.0 L504.9,620.8 L506.2,621.7 L507.5,616.1 L508.8,621.7 L510.1,622.3 L511.4,627.0 L512.7,623.4 L514.0,618.9 L515.3,620.8 L516.6,621.0 L517.9,623.9 L519.2,620.6 L520.5,618.7 L521.8,625.4 L523.1,618.6 L524.4,619.3 L525.7,617.2 L527.0,617.1 L528.3,616.3 L529.6,613.1 L530.9,608.8 L532.2,603.4 L533.5,603.4 L534.8,607.7 L536.1,603.5 L537.4,601.2 L538.7,596.8 L540.0,593.0 L541.3,595.0 L542.6,596.2 L543.9,593.1 L545.2,600.6 L546.5,596.0 L547.8,592.0 L549.1,586.4 L550.4,589.1 L551.7,588.4 L553.0,578.7 L554.3,579.3 L555.6,585.3 L556.9,583.7 L558.2,587.3 L559.5,589.6 L560.8,585.8 L562.1,580.9 L563.4,581.2 L564.7,585.8 L566.0,587.9 L567.3,591.4 L568.6,587.5 L569.9,581.3" fill="none" stroke="#2584c4" stroke-width="1.25" stroke-linejoin="round"/>
<path d="M254.0,602.0 L255.0,603.7 L256.0,605.3 L257.1,606.8 L258.1,608.2 L259.1,609.6 L260.1,610.8 L261.1,612.0 L262.1,613.2 L263.2,614.2 L264.2,615.2 L265.2,616.2 L266.2,617.1 L267.2,618.0 L268.2,618.8 L269.3,619.5 L270.3,620.3 L271.3,620.9 L272.3,621.6 L273.3,622.2 L274.3,622.8 L275.4,623.3 L276.4,623.8 L277.4,624.3 L278.4,624.8 L279.4,625.2 L280.5,625.6 L281.5,626.0 L282.5,626.4 L283.5,626.7 L284.5,627.0 L285.5,627.4 L286.6,627.7 L287.6,627.9 L288.6,628.2 L289.6,628.4 L290.6,628.7 L291.6,628.9 L292.7,629.1 L293.7,629.3 L294.7,629.5 L295.7,629.7 L296.7,629.8 L297.7,630.0 L298.8,630.1 L299.8,630.3 L300.8,630.4 L301.8,630.3 L302.8,629.9 L303.8,629.2 L304.8,628.2 L305.8,626.9 L306.8,625.4 L307.8,623.7 L308.8,621.8 L309.8,619.8 L310.8,617.7 L311.8,615.5 L312.8,613.3 L313.8,611.1 L314.8,608.9 L315.8,606.7 L316.8,604.6 L317.8,602.5 L318.8,600.5 L319.8,598.6 L320.8,596.8 L321.8,595.0 L322.8,593.4 L323.8,591.8 L324.8,590.4 L325.8,589.0 L326.8,587.7 L327.8,586.5 L328.9,585.4 L329.9,584.3 L330.9,583.4 L331.9,582.5 L332.9,581.6 L333.9,580.9 L334.9,580.2 L335.9,579.5 L336.9,578.9 L337.9,578.4 L338.9,577.9 L339.9,577.5 L340.9,577.0 L341.9,576.7 L342.9,576.3 L343.9,576.0 L344.9,575.7 L345.9,575.5 L346.9,575.2 L347.9,575.0 L348.9,574.8 L349.9,574.7 L350.9,574.5 L351.9,574.3 L352.9,574.2 L353.9,574.1 L354.9,574.0 L355.9,573.9 L356.9,574.1 L357.9,574.7 L358.9,575.7 L359.9,577.1 L361.0,578.9 L362.0,580.9 L363.0,583.1 L364.0,585.5 L365.0,588.0 L366.0,590.5 L367.0,593.1 L368.0,595.6 L369.1,598.1 L370.1,600.4 L371.1,602.7 L372.1,604.9 L373.1,606.9 L374.1,608.8 L375.1,610.6 L376.1,612.3 L377.1,613.8 L378.2,615.2 L379.2,616.5 L380.2,617.6 L381.2,618.7 L382.2,619.7 L383.2,620.6 L384.2,621.3 L385.2,622.1 L386.3,622.7 L387.3,623.3 L388.3,623.8 L389.3,624.3 L390.3,624.7 L391.3,625.0 L392.3,625.4 L393.3,625.7 L394.3,625.9 L395.4,626.2 L396.4,626.4 L397.4,626.5 L398.4,626.7 L399.4,626.8 L400.4,627.0 L401.4,627.1 L402.4,627.2 L403.5,627.3 L404.5,627.3 L405.5,627.4 L406.5,627.4 L407.5,627.5 L408.5,627.4 L409.5,627.0 L410.5,626.4 L411.5,625.5 L412.5,624.3 L413.5,623.0 L414.5,621.4 L415.5,619.7 L416.5,618.0 L417.5,616.1 L418.5,614.2 L419.5,612.2 L420.5,610.3 L421.6,608.3 L422.6,606.5 L423.6,604.6 L424.6,602.8 L425.6,601.1 L426.6,599.5 L427.6,597.9 L428.6,596.5 L429.6,595.1 L430.6,593.8 L431.6,592.6 L432.6,591.4 L433.6,590.4 L434.6,589.4 L435.6,588.5 L436.6,587.6 L437.6,586.8 L438.6,586.1 L439.6,585.5 L440.6,584.9 L441.6,584.3 L442.6,583.8 L443.6,583.4 L444.6,582.9 L445.6,582.6 L446.6,582.2 L447.7,581.9 L448.7,581.6 L449.7,581.3 L450.7,581.1 L451.7,580.9 L452.7,580.7 L453.7,580.5 L454.7,580.4 L455.7,580.2 L456.7,580.1 L457.7,580.0 L458.7,579.9 L459.7,579.8 L460.7,579.7 L461.7,579.8 L462.7,580.2 L463.7,580.9 L464.8,581.9 L465.8,583.1 L466.8,584.5 L467.8,586.1 L468.8,587.8 L469.8,589.6 L470.9,591.4 L471.9,593.3 L472.9,595.1 L473.9,597.0 L474.9,598.8 L475.9,600.5 L477.0,602.2 L478.0,603.8 L479.0,605.3 L480.0,606.8 L481.0,608.1 L482.0,609.4 L483.1,610.5 L484.1,611.6 L485.1,612.6 L486.1,613.5 L487.1,614.4 L488.1,615.2 L489.2,615.9 L490.2,616.5 L491.2,617.1 L492.2,617.7 L493.2,618.1 L494.2,618.6 L495.3,619.0 L496.3,619.3 L497.3,619.7 L498.3,620.0 L499.3,620.2 L500.3,620.5 L501.4,620.7 L502.4,620.9 L503.4,621.0 L504.4,621.2 L505.4,621.3 L506.4,621.4 L507.5,621.5 L508.5,621.6 L509.5,621.7 L510.5,621.8 L511.5,621.9 L512.5,621.9 L513.6,622.0 L514.6,622.0 L515.6,622.1 L516.6,622.1 L517.6,622.0 L518.6,621.7 L519.6,621.2 L520.6,620.5 L521.6,619.7 L522.6,618.6 L523.6,617.4 L524.6,616.2 L525.6,614.8 L526.6,613.3 L527.6,611.8 L528.6,610.3 L529.6,608.8 L530.6,607.3 L531.6,605.8 L532.6,604.4 L533.6,603.0 L534.6,601.6 L535.6,600.3 L536.6,599.1 L537.6,597.9 L538.6,596.8 L539.6,595.8 L540.6,594.8 L541.6,593.9 L542.6,593.1 L543.6,592.3 L544.6,591.5 L545.6,590.8 L546.6,590.2 L547.6,589.6 L548.6,589.1 L549.6,588.6 L550.6,588.1 L551.6,587.7 L552.6,587.3 L553.6,587.0 L554.6,586.7 L555.6,586.4 L556.6,586.1 L557.6,585.9 L558.6,585.7 L559.6,585.5 L560.6,585.3 L561.6,585.1 L562.6,585.0 L563.6,584.8 L564.6,584.7 L565.6,584.6 L566.6,584.5 L567.6,584.4 L568.6,584.3 L569.6,584.3 L570.6,584.2" fill="none" stroke="#e86c2a" stroke-width="1.15"/>
</g>
<line x1="300.8" y1="569.5" x2="300.8" y2="631.3" stroke="#1a1a1a" stroke-width="1.1"/>
<line x1="355.9" y1="569.5" x2="355.9" y2="631.3" stroke="#1a1a1a" stroke-width="1.1"/>
<line x1="407.5" y1="569.5" x2="407.5" y2="631.3" stroke="#1a1a1a" stroke-width="1.1"/>
<line x1="460.7" y1="569.5" x2="460.7" y2="631.3" stroke="#1a1a1a" stroke-width="1.1"/>
<line x1="516.6" y1="569.5" x2="516.6" y2="631.3" stroke="#1a1a1a" stroke-width="1.1"/>
<line x1="254.3" y1="631.3" x2="254.3" y2="628.8" stroke="#6a5a40" stroke-width="0.5"/>
<text class="t" x="254.3" y="644.92" font-size="9.1" text-anchor="middle">0</text>
<line x1="289.1" y1="631.3" x2="289.1" y2="628.8" stroke="#6a5a40" stroke-width="0.5"/>
<text class="t" x="289.1" y="644.92" font-size="9.1" text-anchor="middle">200</text>
<line x1="323.9" y1="631.3" x2="323.9" y2="628.8" stroke="#6a5a40" stroke-width="0.5"/>
<text class="t" x="323.9" y="644.92" font-size="9.1" text-anchor="middle">400</text>
<line x1="358.6" y1="631.3" x2="358.6" y2="628.8" stroke="#6a5a40" stroke-width="0.5"/>
<text class="t" x="358.6" y="644.92" font-size="9.1" text-anchor="middle">600</text>
<line x1="393.4" y1="631.3" x2="393.4" y2="628.8" stroke="#6a5a40" stroke-width="0.5"/>
<text class="t" x="393.4" y="644.92" font-size="9.1" text-anchor="middle">800</text>
<line x1="428.2" y1="631.3" x2="428.2" y2="628.8" stroke="#6a5a40" stroke-width="0.5"/>
<text class="t" x="428.2" y="644.92" font-size="9.1" text-anchor="middle">1000</text>
<line x1="463.0" y1="631.3" x2="463.0" y2="628.8" stroke="#6a5a40" stroke-width="0.5"/>
<text class="t" x="463.0" y="644.92" font-size="9.1" text-anchor="middle">1200</text>
<line x1="497.7" y1="631.3" x2="497.7" y2="628.8" stroke="#6a5a40" stroke-width="0.5"/>
<text class="t" x="497.7" y="644.92" font-size="9.1" text-anchor="middle">1400</text>
<line x1="532.5" y1="631.3" x2="532.5" y2="628.8" stroke="#6a5a40" stroke-width="0.5"/>
<text class="t" x="532.5" y="644.92" font-size="9.1" text-anchor="middle">1600</text>
<line x1="567.3" y1="631.3" x2="567.3" y2="628.8" stroke="#6a5a40" stroke-width="0.5"/>
<text class="t" x="567.3" y="644.92" font-size="9.1" text-anchor="middle">1800</text>
<line x1="254.0" y1="586.0" x2="257.0" y2="586.0" stroke="#3c3c3c" stroke-width="0.6"/>
<text class="t" x="250.6" y="588.8" font-size="9.2" text-anchor="end">1.2</text>
<line x1="254.0" y1="604.9" x2="257.0" y2="604.9" stroke="#3c3c3c" stroke-width="0.6"/>
<text class="t" x="250.6" y="607.7" font-size="9.2" text-anchor="end">1.1</text>
<line x1="254.0" y1="623.5" x2="257.0" y2="623.5" stroke="#3c3c3c" stroke-width="0.6"/>
<text class="t" x="250.6" y="626.3" font-size="9.2" text-anchor="end">1</text>
<line x1="567.6" y1="583.9" x2="570.6" y2="583.9" stroke="#3c3c3c" stroke-width="0.6"/>
<text class="t" x="573.2" y="586.8" font-size="9.2">10</text>
<line x1="567.6" y1="603.9" x2="570.6" y2="603.9" stroke="#3c3c3c" stroke-width="0.6"/>
<text class="t" x="573.2" y="606.8" font-size="9.2">0</text>
<line x1="567.6" y1="623.9" x2="570.6" y2="623.9" stroke="#3c3c3c" stroke-width="0.6"/>
<text class="t" x="573.2" y="626.8" font-size="9.2">-10</text>
<rect x="254.0" y="569.5" width="316.6" height="61.8" fill="none" stroke="#2a2a2a" stroke-width="1.1"/>
<text class="s" transform="translate(234.5,600.4) rotate(-90)" font-size="8.4" text-anchor="middle">ROI signal [A.U.]</text>
<text class="s" transform="translate(598.3,600.4) rotate(-90)" font-size="10.6" text-anchor="middle">&#916; signal [%]</text>
<rect x="254.0" y="656.5" width="50.5" height="61.8" fill="#feeb84"/>
<rect x="304.5" y="656.5" width="54.5" height="61.8" fill="#f3bd77"/>
<rect x="359.0" y="656.5" width="51.5" height="61.8" fill="#feeb84"/>
<rect x="410.5" y="656.5" width="51.7" height="61.8" fill="#f3bd77"/>
<rect x="462.2" y="656.5" width="51.4" height="61.8" fill="#feeb84"/>
<rect x="513.6" y="656.5" width="57.0" height="61.8" fill="#f3bd77"/>
<clipPath id="cc7"><rect x="254.0" y="656.5" width="316.6" height="61.8"/></clipPath>
<g clip-path="url(#cc7)">
<path d="M254.0,676.0 L255.3,678.1 L256.6,679.1 L257.9,682.8 L259.2,688.7 L260.5,691.6 L261.8,695.5 L263.1,705.7 L264.4,702.5 L265.7,699.4 L267.0,700.0 L268.3,703.0 L269.6,705.2 L270.9,705.5 L272.2,705.3 L273.5,708.5 L274.8,713.0 L276.1,710.0 L277.4,712.7 L278.7,717.3 L280.0,710.5 L281.3,707.4 L282.6,713.5 L283.9,713.3 L285.2,711.8 L286.5,714.5 L287.8,717.7 L289.1,717.7 L290.4,717.7 L291.7,717.7 L293.0,717.7 L294.3,717.7 L295.6,717.7 L296.9,717.7 L298.2,717.7 L299.5,716.5 L300.8,717.7 L302.1,717.7 L303.4,717.7 L304.7,715.3 L306.0,714.9 L307.3,717.2 L308.6,712.7 L309.9,710.9 L311.2,706.8 L312.5,703.4 L313.8,705.6 L315.1,702.2 L316.4,701.8 L317.7,699.5 L319.0,696.2 L320.3,694.1 L321.6,689.4 L322.9,687.5 L324.2,688.8 L325.5,690.5 L326.8,687.1 L328.1,685.1 L329.4,684.1 L330.7,680.0 L332.0,680.9 L333.3,681.2 L334.6,676.4 L335.9,673.8 L337.2,674.8 L338.5,676.4 L339.8,673.6 L341.1,673.2 L342.4,671.7 L343.7,669.6 L345.0,665.4 L346.3,665.2 L347.6,663.3 L348.9,663.8 L350.2,662.8 L351.5,662.1 L352.8,659.4 L354.1,657.2 L355.4,659.6 L356.7,660.7 L358.0,659.2 L359.3,658.8 L360.6,658.8 L361.9,661.0 L363.2,660.5 L364.5,664.6 L365.8,664.8 L367.1,662.8 L368.4,668.7 L369.7,670.4 L371.0,669.5 L372.3,672.9 L373.6,672.3 L374.9,669.7 L376.2,670.9 L377.5,676.8 L378.8,681.7 L380.1,681.6 L381.4,679.7 L382.7,677.5 L384.0,683.0 L385.3,690.1 L386.6,690.1 L387.9,689.8 L389.2,685.4 L390.5,688.4 L391.8,692.0 L393.1,693.0 L394.4,693.0 L395.7,692.6 L397.0,690.2 L398.3,693.2 L399.6,697.2 L400.9,700.6 L402.2,696.6 L403.5,702.0 L404.8,703.9 L406.1,703.9 L407.4,702.7 L408.7,704.6 L410.0,707.9 L411.3,706.5 L412.6,706.2 L413.9,705.9 L415.2,704.6 L416.5,703.1 L417.8,702.3 L419.1,701.7 L420.4,699.2 L421.7,695.7 L423.0,697.7 L424.3,695.1 L425.6,689.6 L426.9,688.4 L428.2,689.8 L429.5,687.7 L430.8,685.4 L432.1,679.5 L433.4,679.3 L434.7,679.0 L436.0,678.5 L437.3,679.9 L438.6,679.4 L439.9,677.5 L441.2,675.2 L442.5,674.7 L443.8,669.4 L445.1,671.6 L446.4,672.8 L447.7,672.8 L449.0,672.0 L450.3,675.2 L451.6,668.3 L452.9,665.8 L454.2,671.4 L455.5,676.0 L456.8,672.6 L458.1,665.0 L459.4,661.6 L460.7,661.3 L462.0,666.6 L463.3,672.0 L464.6,669.0 L465.9,667.5 L467.2,671.3 L468.5,672.0 L469.8,670.7 L471.1,668.9 L472.4,672.1 L473.7,675.3 L475.0,676.6 L476.3,674.7 L477.6,678.8 L478.9,678.9 L480.2,676.1 L481.5,676.9 L482.8,681.8 L484.1,684.3 L485.4,685.7 L486.7,689.0 L488.0,689.6 L489.3,688.1 L490.6,686.4 L491.9,685.7 L493.2,687.8 L494.5,691.4 L495.8,691.3 L497.1,694.1 L498.4,695.3 L499.7,692.9 L501.0,692.8 L502.3,695.0 L503.6,694.8 L504.9,698.7 L506.2,701.9 L507.5,696.2 L508.8,694.3 L510.1,697.3 L511.4,700.3 L512.7,699.1 L514.0,698.4 L515.3,695.8 L516.6,699.3 L517.9,701.3 L519.2,703.6 L520.5,701.5 L521.8,696.2 L523.1,696.8 L524.4,691.5 L525.7,692.3 L527.0,689.5 L528.3,691.2 L529.6,692.3 L530.9,690.0 L532.2,687.5 L533.5,687.7 L534.8,688.2 L536.1,689.4 L537.4,688.0 L538.7,685.2 L540.0,683.9 L541.3,677.0 L542.6,679.4 L543.9,679.3 L545.2,679.2 L546.5,679.7 L547.8,678.3 L549.1,675.2 L550.4,676.2 L551.7,677.4 L553.0,672.8 L554.3,673.4 L555.6,673.7 L556.9,677.9 L558.2,675.8 L559.5,672.4 L560.8,675.6 L562.1,674.1 L563.4,671.8 L564.7,675.6 L566.0,673.3 L567.3,669.0 L568.6,672.1 L569.9,674.1" fill="none" stroke="#2584c4" stroke-width="1.25" stroke-linejoin="round"/>
<path d="M254.0,685.3 L255.0,687.1 L256.0,688.8 L257.0,690.4 L258.0,691.9 L259.1,693.3 L260.1,694.7 L261.1,696.0 L262.1,697.2 L263.1,698.4 L264.1,699.5 L265.1,700.6 L266.1,701.6 L267.1,702.6 L268.1,703.5 L269.1,704.3 L270.2,705.1 L271.2,705.9 L272.2,706.6 L273.2,707.3 L274.2,708.0 L275.2,708.6 L276.2,709.2 L277.2,709.8 L278.2,710.3 L279.2,710.8 L280.3,711.3 L281.3,711.8 L282.3,712.2 L283.3,712.6 L284.3,713.0 L285.3,713.4 L286.3,713.8 L287.3,714.1 L288.3,714.4 L289.4,714.7 L290.4,715.0 L291.4,715.3 L292.4,715.5 L293.4,715.8 L294.4,716.0 L295.4,716.2 L296.4,716.5 L297.4,716.7 L298.4,716.8 L299.4,717.0 L300.5,717.2 L301.5,717.4 L302.5,717.5 L303.5,717.7 L304.5,717.8 L305.5,717.6 L306.5,717.2 L307.5,716.4 L308.5,715.5 L309.5,714.3 L310.6,713.0 L311.6,711.6 L312.6,710.1 L313.6,708.5 L314.6,706.8 L315.6,705.1 L316.6,703.3 L317.6,701.6 L318.6,699.8 L319.6,698.1 L320.6,696.3 L321.7,694.6 L322.7,692.9 L323.7,691.2 L324.7,689.6 L325.7,688.0 L326.7,686.4 L327.7,684.9 L328.7,683.5 L329.7,682.0 L330.7,680.7 L331.8,679.4 L332.8,678.1 L333.8,676.9 L334.8,675.7 L335.8,674.5 L336.8,673.5 L337.8,672.4 L338.8,671.4 L339.8,670.5 L340.8,669.6 L341.8,668.7 L342.9,667.9 L343.9,667.1 L344.9,666.3 L345.9,665.6 L346.9,664.9 L347.9,664.3 L348.9,663.7 L349.9,663.1 L350.9,662.5 L351.9,662.0 L352.9,661.5 L354.0,661.0 L355.0,660.6 L356.0,660.1 L357.0,659.7 L358.0,659.4 L359.0,659.0 L360.0,659.1 L361.0,659.4 L362.0,659.8 L363.0,660.4 L364.0,661.2 L365.1,662.0 L366.1,662.9 L367.1,663.9 L368.1,665.0 L369.1,666.2 L370.1,667.4 L371.1,668.6 L372.1,669.8 L373.1,671.1 L374.1,672.4 L375.2,673.7 L376.2,675.0 L377.2,676.3 L378.2,677.7 L379.2,679.0 L380.2,680.2 L381.2,681.5 L382.2,682.8 L383.2,684.0 L384.2,685.2 L385.3,686.4 L386.3,687.6 L387.3,688.7 L388.3,689.9 L389.3,691.0 L390.3,692.0 L391.3,693.1 L392.3,694.1 L393.3,695.0 L394.3,696.0 L395.4,696.9 L396.4,697.8 L397.4,698.7 L398.4,699.5 L399.4,700.3 L400.4,701.1 L401.4,701.9 L402.4,702.6 L403.4,703.3 L404.4,704.0 L405.5,704.7 L406.5,705.3 L407.5,705.9 L408.5,706.5 L409.5,707.1 L410.5,707.6 L411.5,707.5 L412.5,707.1 L413.5,706.5 L414.6,705.7 L415.6,704.9 L416.6,703.8 L417.6,702.7 L418.6,701.5 L419.6,700.3 L420.6,699.0 L421.7,697.7 L422.7,696.4 L423.7,695.0 L424.7,693.7 L425.7,692.4 L426.7,691.1 L427.7,689.8 L428.7,688.5 L429.8,687.3 L430.8,686.1 L431.8,684.9 L432.8,683.8 L433.8,682.7 L434.8,681.7 L435.8,680.6 L436.9,679.7 L437.9,678.7 L438.9,677.8 L439.9,676.9 L440.9,676.1 L441.9,675.3 L442.9,674.6 L444.0,673.8 L445.0,673.1 L446.0,672.5 L447.0,671.9 L448.0,671.3 L449.0,670.7 L450.0,670.2 L451.0,669.7 L452.1,669.2 L453.1,668.7 L454.1,668.3 L455.1,667.9 L456.1,667.5 L457.1,667.1 L458.1,666.8 L459.2,666.5 L460.2,666.2 L461.2,665.9 L462.2,665.6 L463.2,665.7 L464.2,665.9 L465.2,666.2 L466.2,666.7 L467.2,667.2 L468.2,667.9 L469.3,668.6 L470.3,669.3 L471.3,670.1 L472.3,671.0 L473.3,671.9 L474.3,672.8 L475.3,673.8 L476.3,674.8 L477.3,675.7 L478.3,676.7 L479.3,677.7 L480.3,678.7 L481.3,679.7 L482.4,680.7 L483.4,681.6 L484.4,682.6 L485.4,683.6 L486.4,684.5 L487.4,685.4 L488.4,686.3 L489.4,687.2 L490.4,688.1 L491.4,688.9 L492.4,689.7 L493.4,690.5 L494.5,691.3 L495.5,692.1 L496.5,692.8 L497.5,693.5 L498.5,694.2 L499.5,694.9 L500.5,695.6 L501.5,696.2 L502.5,696.8 L503.5,697.4 L504.5,698.0 L505.5,698.5 L506.5,699.1 L507.6,699.6 L508.6,700.1 L509.6,700.6 L510.6,701.0 L511.6,701.5 L512.6,701.9 L513.6,702.3 L514.6,702.2 L515.6,702.0 L516.6,701.6 L517.6,701.1 L518.6,700.6 L519.6,699.9 L520.6,699.2 L521.6,698.4 L522.6,697.6 L523.6,696.8 L524.6,695.9 L525.6,695.0 L526.6,694.1 L527.6,693.2 L528.6,692.3 L529.6,691.4 L530.6,690.5 L531.6,689.6 L532.6,688.7 L533.6,687.9 L534.6,687.0 L535.6,686.2 L536.6,685.4 L537.6,684.6 L538.6,683.9 L539.6,683.1 L540.6,682.4 L541.6,681.7 L542.6,681.0 L543.6,680.4 L544.6,679.8 L545.6,679.2 L546.6,678.6 L547.6,678.0 L548.6,677.5 L549.6,677.0 L550.6,676.5 L551.6,676.0 L552.6,675.6 L553.6,675.2 L554.6,674.8 L555.6,674.4 L556.6,674.0 L557.6,673.6 L558.6,673.3 L559.6,673.0 L560.6,672.7 L561.6,672.4 L562.6,672.1 L563.6,671.8 L564.6,671.6 L565.6,671.3 L566.6,671.1 L567.6,670.9 L568.6,670.7 L569.6,670.5 L570.6,670.3" fill="none" stroke="#e86c2a" stroke-width="1.15"/>
</g>
<line x1="304.5" y1="656.5" x2="304.5" y2="718.3" stroke="#1a1a1a" stroke-width="1.1"/>
<line x1="359.0" y1="656.5" x2="359.0" y2="718.3" stroke="#1a1a1a" stroke-width="1.1"/>
<line x1="410.5" y1="656.5" x2="410.5" y2="718.3" stroke="#1a1a1a" stroke-width="1.1"/>
<line x1="462.2" y1="656.5" x2="462.2" y2="718.3" stroke="#1a1a1a" stroke-width="1.1"/>
<line x1="513.6" y1="656.5" x2="513.6" y2="718.3" stroke="#1a1a1a" stroke-width="1.1"/>
<line x1="254.3" y1="718.3" x2="254.3" y2="715.8" stroke="#6a5a40" stroke-width="0.5"/>
<text class="t" x="254.3" y="732.09" font-size="9.1" text-anchor="middle">0</text>
<line x1="289.1" y1="718.3" x2="289.1" y2="715.8" stroke="#6a5a40" stroke-width="0.5"/>
<text class="t" x="289.1" y="732.09" font-size="9.1" text-anchor="middle">200</text>
<line x1="323.9" y1="718.3" x2="323.9" y2="715.8" stroke="#6a5a40" stroke-width="0.5"/>
<text class="t" x="323.9" y="732.09" font-size="9.1" text-anchor="middle">400</text>
<line x1="358.6" y1="718.3" x2="358.6" y2="715.8" stroke="#6a5a40" stroke-width="0.5"/>
<text class="t" x="358.6" y="732.09" font-size="9.1" text-anchor="middle">600</text>
<line x1="393.4" y1="718.3" x2="393.4" y2="715.8" stroke="#6a5a40" stroke-width="0.5"/>
<text class="t" x="393.4" y="732.09" font-size="9.1" text-anchor="middle">800</text>
<line x1="428.2" y1="718.3" x2="428.2" y2="715.8" stroke="#6a5a40" stroke-width="0.5"/>
<text class="t" x="428.2" y="732.09" font-size="9.1" text-anchor="middle">1000</text>
<line x1="463.0" y1="718.3" x2="463.0" y2="715.8" stroke="#6a5a40" stroke-width="0.5"/>
<text class="t" x="463.0" y="732.09" font-size="9.1" text-anchor="middle">1200</text>
<line x1="497.7" y1="718.3" x2="497.7" y2="715.8" stroke="#6a5a40" stroke-width="0.5"/>
<text class="t" x="497.7" y="732.09" font-size="9.1" text-anchor="middle">1400</text>
<line x1="532.5" y1="718.3" x2="532.5" y2="715.8" stroke="#6a5a40" stroke-width="0.5"/>
<text class="t" x="532.5" y="732.09" font-size="9.1" text-anchor="middle">1600</text>
<line x1="567.3" y1="718.3" x2="567.3" y2="715.8" stroke="#6a5a40" stroke-width="0.5"/>
<text class="t" x="567.3" y="732.09" font-size="9.1" text-anchor="middle">1800</text>
<line x1="254.0" y1="663.5" x2="257.0" y2="663.5" stroke="#3c3c3c" stroke-width="0.6"/>
<text class="t" x="250.6" y="666.3" font-size="9.2" text-anchor="end">1.1</text>
<line x1="254.0" y1="679.0" x2="257.0" y2="679.0" stroke="#3c3c3c" stroke-width="0.6"/>
<text class="t" x="250.6" y="681.8" font-size="9.2" text-anchor="end">1</text>
<line x1="254.0" y1="695.7" x2="257.0" y2="695.7" stroke="#3c3c3c" stroke-width="0.6"/>
<text class="t" x="250.6" y="698.5" font-size="9.2" text-anchor="end">0.9</text>
<line x1="254.0" y1="712.2" x2="257.0" y2="712.2" stroke="#3c3c3c" stroke-width="0.6"/>
<text class="t" x="250.6" y="715.0" font-size="9.2" text-anchor="end">0.8</text>
<line x1="567.6" y1="671.3" x2="570.6" y2="671.3" stroke="#3c3c3c" stroke-width="0.6"/>
<text class="t" x="573.2" y="674.2" font-size="9.2">10</text>
<line x1="567.6" y1="687.0" x2="570.6" y2="687.0" stroke="#3c3c3c" stroke-width="0.6"/>
<text class="t" x="573.2" y="689.9" font-size="9.2">0</text>
<line x1="567.6" y1="702.6" x2="570.6" y2="702.6" stroke="#3c3c3c" stroke-width="0.6"/>
<text class="t" x="573.2" y="705.5" font-size="9.2">-10</text>
<line x1="567.6" y1="718.3" x2="570.6" y2="718.3" stroke="#3c3c3c" stroke-width="0.6"/>
<text class="t" x="573.2" y="721.2" font-size="9.2">-20</text>
<rect x="254.0" y="656.5" width="316.6" height="61.8" fill="none" stroke="#2a2a2a" stroke-width="1.1"/>
<text class="s" transform="translate(234.5,687.4) rotate(-90)" font-size="8.4" text-anchor="middle">ROI signal [A.U.]</text>
<text class="s" transform="translate(598.3,687.4) rotate(-90)" font-size="10.6" text-anchor="middle">&#916; signal [%]</text>
<rect x="254.0" y="743.5" width="51.9" height="61.8" fill="#feeb84"/>
<rect x="305.9" y="743.5" width="52.3" height="61.8" fill="#f3bd77"/>
<rect x="358.2" y="743.5" width="52.3" height="61.8" fill="#feeb84"/>
<rect x="410.5" y="743.5" width="51.4" height="61.8" fill="#f3bd77"/>
<rect x="461.9" y="743.5" width="51.7" height="61.8" fill="#feeb84"/>
<rect x="513.6" y="743.5" width="57.0" height="61.8" fill="#f3bd77"/>
<clipPath id="cc8"><rect x="254.0" y="743.5" width="316.6" height="61.8"/></clipPath>
<g clip-path="url(#cc8)">
<path d="M254.0,757.0 L255.3,759.7 L256.6,763.5 L257.9,770.3 L259.2,776.8 L260.5,781.9 L261.8,781.1 L263.1,779.6 L264.4,785.4 L265.7,786.7 L267.0,788.4 L268.3,792.3 L269.6,794.5 L270.9,793.2 L272.2,791.2 L273.5,794.0 L274.8,794.0 L276.1,794.7 L277.4,795.4 L278.7,796.5 L280.0,797.4 L281.3,798.3 L282.6,799.3 L283.9,797.0 L285.2,797.1 L286.5,798.9 L287.8,799.7 L289.1,802.7 L290.4,799.2 L291.7,799.1 L293.0,798.1 L294.3,802.2 L295.6,800.0 L296.9,799.8 L298.2,798.0 L299.5,797.3 L300.8,798.6 L302.1,796.1 L303.4,797.6 L304.7,799.4 L306.0,800.6 L307.3,803.2 L308.6,803.0 L309.9,802.4 L311.2,802.1 L312.5,798.3 L313.8,792.2 L315.1,791.9 L316.4,786.5 L317.7,783.0 L319.0,777.0 L320.3,774.6 L321.6,777.4 L322.9,771.7 L324.2,771.1 L325.5,770.1 L326.8,764.9 L328.1,761.9 L329.4,760.8 L330.7,758.0 L332.0,753.1 L333.3,753.9 L334.6,753.8 L335.9,756.6 L337.2,750.8 L338.5,748.5 L339.8,749.8 L341.1,751.1 L342.4,747.3 L343.7,747.6 L345.0,750.4 L346.3,748.7 L347.6,746.1 L348.9,744.1 L350.2,745.1 L351.5,747.0 L352.8,746.9 L354.1,749.2 L355.4,745.3 L356.7,748.1 L358.0,747.2 L359.3,744.1 L360.6,744.1 L361.9,745.5 L363.2,746.6 L364.5,745.4 L365.8,749.4 L367.1,759.0 L368.4,763.0 L369.7,768.5 L371.0,769.7 L372.3,773.1 L373.6,775.7 L374.9,774.7 L376.2,780.5 L377.5,782.8 L378.8,783.5 L380.1,787.0 L381.4,787.5 L382.7,789.1 L384.0,789.3 L385.3,787.4 L386.6,790.0 L387.9,792.6 L389.2,794.7 L390.5,792.7 L391.8,791.3 L393.1,790.7 L394.4,794.6 L395.7,796.5 L397.0,798.6 L398.3,799.5 L399.6,797.9 L400.9,792.6 L402.2,794.9 L403.5,794.6 L404.8,794.8 L406.1,796.9 L407.4,800.4 L408.7,797.8 L410.0,797.4 L411.3,799.3 L412.6,799.8 L413.9,796.6 L415.2,793.7 L416.5,797.7 L417.8,791.9 L419.1,785.4 L420.4,782.8 L421.7,782.4 L423.0,780.4 L424.3,776.8 L425.6,769.5 L426.9,772.8 L428.2,772.9 L429.5,770.2 L430.8,765.3 L432.1,762.9 L433.4,763.3 L434.7,761.8 L436.0,762.8 L437.3,761.0 L438.6,755.2 L439.9,755.5 L441.2,753.9 L442.5,751.5 L443.8,750.5 L445.1,752.1 L446.4,754.6 L447.7,753.5 L449.0,752.1 L450.3,752.7 L451.6,750.4 L452.9,751.1 L454.2,752.2 L455.5,750.1 L456.8,748.8 L458.1,748.1 L459.4,746.9 L460.7,744.5 L462.0,746.4 L463.3,750.8 L464.6,749.8 L465.9,748.8 L467.2,752.4 L468.5,754.9 L469.8,757.7 L471.1,761.8 L472.4,762.6 L473.7,767.4 L475.0,768.2 L476.3,770.3 L477.6,774.2 L478.9,777.9 L480.2,779.9 L481.5,780.6 L482.8,779.7 L484.1,779.8 L485.4,785.5 L486.7,785.9 L488.0,786.3 L489.3,789.5 L490.6,790.8 L491.9,789.1 L493.2,793.3 L494.5,795.1 L495.8,794.0 L497.1,796.4 L498.4,797.3 L499.7,799.2 L501.0,798.8 L502.3,796.4 L503.6,797.2 L504.9,797.0 L506.2,791.9 L507.5,792.7 L508.8,792.9 L510.1,793.8 L511.4,791.5 L512.7,792.7 L514.0,794.4 L515.3,793.7 L516.6,793.6 L517.9,796.5 L519.2,795.5 L520.5,789.5 L521.8,790.8 L523.1,790.6 L524.4,787.9 L525.7,783.3 L527.0,780.3 L528.3,778.2 L529.6,776.1 L530.9,775.5 L532.2,772.9 L533.5,768.0 L534.8,766.5 L536.1,765.6 L537.4,762.2 L538.7,761.3 L540.0,762.0 L541.3,762.2 L542.6,756.0 L543.9,752.5 L545.2,751.8 L546.5,750.3 L547.8,756.3 L549.1,757.1 L550.4,751.7 L551.7,752.4 L553.0,754.1 L554.3,754.2 L555.6,754.3 L556.9,749.9 L558.2,751.6 L559.5,749.7 L560.8,750.3 L562.1,752.8 L563.4,747.8 L564.7,747.1 L566.0,749.0 L567.3,750.4 L568.6,751.6 L569.9,752.0" fill="none" stroke="#2584c4" stroke-width="1.25" stroke-linejoin="round"/>
<path d="M254.0,771.5 L255.0,773.2 L256.0,774.9 L257.1,776.5 L258.1,778.0 L259.1,779.4 L260.1,780.8 L261.1,782.0 L262.1,783.3 L263.2,784.4 L264.2,785.5 L265.2,786.6 L266.2,787.6 L267.2,788.5 L268.2,789.4 L269.3,790.3 L270.3,791.1 L271.3,791.9 L272.3,792.6 L273.3,793.3 L274.4,793.9 L275.4,794.6 L276.4,795.2 L277.4,795.7 L278.4,796.3 L279.4,796.8 L280.5,797.3 L281.5,797.7 L282.5,798.2 L283.5,798.6 L284.5,799.0 L285.5,799.4 L286.6,799.7 L287.6,800.1 L288.6,800.4 L289.6,800.7 L290.6,801.0 L291.7,801.3 L292.7,801.5 L293.7,801.8 L294.7,802.0 L295.7,802.3 L296.7,802.5 L297.8,802.7 L298.8,802.9 L299.8,803.1 L300.8,803.2 L301.8,803.4 L302.8,803.6 L303.9,803.7 L304.9,803.9 L305.9,804.0 L306.9,803.8 L307.9,803.4 L308.9,802.5 L309.9,801.4 L310.9,799.9 L311.9,798.1 L312.9,796.2 L313.9,794.0 L315.0,791.7 L316.0,789.4 L317.0,786.9 L318.0,784.4 L319.0,782.0 L320.0,779.6 L321.0,777.2 L322.0,774.9 L323.0,772.7 L324.0,770.5 L325.0,768.5 L326.0,766.6 L327.0,764.7 L328.0,763.0 L329.0,761.4 L330.0,759.9 L331.0,758.5 L332.0,757.2 L333.1,756.0 L334.1,754.9 L335.1,753.9 L336.1,753.0 L337.1,752.1 L338.1,751.3 L339.1,750.6 L340.1,749.9 L341.1,749.3 L342.1,748.8 L343.1,748.3 L344.1,747.8 L345.1,747.4 L346.1,747.0 L347.1,746.7 L348.1,746.4 L349.1,746.1 L350.2,745.9 L351.2,745.7 L352.2,745.5 L353.2,745.3 L354.2,745.1 L355.2,745.0 L356.2,744.8 L357.2,744.7 L358.2,744.6 L359.2,744.8 L360.2,745.4 L361.2,746.3 L362.2,747.7 L363.2,749.4 L364.2,751.4 L365.2,753.6 L366.2,755.9 L367.3,758.3 L368.3,760.8 L369.3,763.4 L370.3,765.9 L371.3,768.3 L372.3,770.7 L373.3,772.9 L374.3,775.1 L375.3,777.1 L376.3,779.1 L377.3,780.9 L378.3,782.5 L379.3,784.1 L380.3,785.5 L381.3,786.8 L382.3,788.1 L383.3,789.2 L384.4,790.2 L385.4,791.1 L386.4,791.9 L387.4,792.6 L388.4,793.3 L389.4,793.9 L390.4,794.5 L391.4,795.0 L392.4,795.4 L393.4,795.8 L394.4,796.1 L395.4,796.4 L396.4,796.7 L397.4,797.0 L398.4,797.2 L399.4,797.4 L400.4,797.6 L401.4,797.7 L402.5,797.9 L403.5,798.0 L404.5,798.1 L405.5,798.2 L406.5,798.3 L407.5,798.3 L408.5,798.4 L409.5,798.5 L410.5,798.5 L411.5,798.4 L412.5,797.9 L413.5,797.2 L414.5,796.1 L415.5,794.8 L416.5,793.3 L417.6,791.5 L418.6,789.6 L419.6,787.6 L420.6,785.4 L421.6,783.3 L422.6,781.1 L423.6,779.0 L424.6,776.8 L425.6,774.7 L426.6,772.7 L427.6,770.8 L428.6,769.0 L429.6,767.2 L430.7,765.5 L431.7,764.0 L432.7,762.5 L433.7,761.1 L434.7,759.9 L435.7,758.7 L436.7,757.6 L437.7,756.6 L438.7,755.6 L439.7,754.8 L440.7,754.0 L441.7,753.3 L442.8,752.6 L443.8,752.0 L444.8,751.4 L445.8,750.9 L446.8,750.5 L447.8,750.1 L448.8,749.7 L449.8,749.4 L450.8,749.1 L451.8,748.8 L452.8,748.6 L453.8,748.3 L454.8,748.1 L455.9,748.0 L456.9,747.8 L457.9,747.6 L458.9,747.5 L459.9,747.4 L460.9,747.3 L461.9,747.2 L462.9,747.4 L463.9,747.9 L464.9,748.9 L466.0,750.2 L467.0,751.8 L468.0,753.6 L469.0,755.7 L470.0,757.9 L471.0,760.2 L472.0,762.5 L473.1,764.9 L474.1,767.2 L475.1,769.4 L476.1,771.6 L477.1,773.7 L478.1,775.7 L479.1,777.6 L480.1,779.3 L481.2,781.0 L482.2,782.5 L483.2,783.9 L484.2,785.2 L485.2,786.3 L486.2,787.4 L487.2,788.4 L488.3,789.3 L489.3,790.1 L490.3,790.8 L491.3,791.5 L492.3,792.1 L493.3,792.6 L494.3,793.1 L495.4,793.5 L496.4,793.9 L497.4,794.2 L498.4,794.5 L499.4,794.8 L500.4,795.0 L501.4,795.3 L502.4,795.4 L503.5,795.6 L504.5,795.8 L505.5,795.9 L506.5,796.0 L507.5,796.1 L508.5,796.2 L509.5,796.3 L510.6,796.3 L511.6,796.4 L512.6,796.5 L513.6,796.5 L514.6,796.4 L515.6,796.1 L516.6,795.5 L517.6,794.8 L518.6,793.8 L519.6,792.6 L520.6,791.3 L521.6,789.8 L522.6,788.2 L523.6,786.5 L524.6,784.8 L525.6,783.0 L526.6,781.2 L527.6,779.5 L528.6,777.7 L529.6,775.9 L530.6,774.3 L531.6,772.6 L532.6,771.0 L533.6,769.5 L534.6,768.0 L535.6,766.6 L536.6,765.3 L537.6,764.1 L538.6,762.9 L539.6,761.8 L540.6,760.8 L541.6,759.8 L542.6,758.9 L543.6,758.0 L544.6,757.3 L545.6,756.5 L546.6,755.9 L547.6,755.2 L548.6,754.7 L549.6,754.1 L550.6,753.7 L551.6,753.2 L552.6,752.8 L553.6,752.4 L554.6,752.1 L555.6,751.8 L556.6,751.5 L557.6,751.2 L558.6,751.0 L559.6,750.7 L560.6,750.5 L561.6,750.4 L562.6,750.2 L563.6,750.0 L564.6,749.9 L565.6,749.8 L566.6,749.7 L567.6,749.6 L568.6,749.5 L569.6,749.4 L570.6,749.3" fill="none" stroke="#e86c2a" stroke-width="1.15"/>
</g>
<line x1="305.9" y1="743.5" x2="305.9" y2="805.3" stroke="#1a1a1a" stroke-width="1.1"/>
<line x1="358.2" y1="743.5" x2="358.2" y2="805.3" stroke="#1a1a1a" stroke-width="1.1"/>
<line x1="410.5" y1="743.5" x2="410.5" y2="805.3" stroke="#1a1a1a" stroke-width="1.1"/>
<line x1="461.9" y1="743.5" x2="461.9" y2="805.3" stroke="#1a1a1a" stroke-width="1.1"/>
<line x1="513.6" y1="743.5" x2="513.6" y2="805.3" stroke="#1a1a1a" stroke-width="1.1"/>
<line x1="254.3" y1="805.3" x2="254.3" y2="802.8" stroke="#6a5a40" stroke-width="0.5"/>
<text class="t" x="254.3" y="819.27" font-size="9.1" text-anchor="middle">0</text>
<line x1="289.1" y1="805.3" x2="289.1" y2="802.8" stroke="#6a5a40" stroke-width="0.5"/>
<text class="t" x="289.1" y="819.27" font-size="9.1" text-anchor="middle">200</text>
<line x1="323.9" y1="805.3" x2="323.9" y2="802.8" stroke="#6a5a40" stroke-width="0.5"/>
<text class="t" x="323.9" y="819.27" font-size="9.1" text-anchor="middle">400</text>
<line x1="358.6" y1="805.3" x2="358.6" y2="802.8" stroke="#6a5a40" stroke-width="0.5"/>
<text class="t" x="358.6" y="819.27" font-size="9.1" text-anchor="middle">600</text>
<line x1="393.4" y1="805.3" x2="393.4" y2="802.8" stroke="#6a5a40" stroke-width="0.5"/>
<text class="t" x="393.4" y="819.27" font-size="9.1" text-anchor="middle">800</text>
<line x1="428.2" y1="805.3" x2="428.2" y2="802.8" stroke="#6a5a40" stroke-width="0.5"/>
<text class="t" x="428.2" y="819.27" font-size="9.1" text-anchor="middle">1000</text>
<line x1="463.0" y1="805.3" x2="463.0" y2="802.8" stroke="#6a5a40" stroke-width="0.5"/>
<text class="t" x="463.0" y="819.27" font-size="9.1" text-anchor="middle">1200</text>
<line x1="497.7" y1="805.3" x2="497.7" y2="802.8" stroke="#6a5a40" stroke-width="0.5"/>
<text class="t" x="497.7" y="819.27" font-size="9.1" text-anchor="middle">1400</text>
<line x1="532.5" y1="805.3" x2="532.5" y2="802.8" stroke="#6a5a40" stroke-width="0.5"/>
<text class="t" x="532.5" y="819.27" font-size="9.1" text-anchor="middle">1600</text>
<line x1="567.3" y1="805.3" x2="567.3" y2="802.8" stroke="#6a5a40" stroke-width="0.5"/>
<text class="t" x="567.3" y="819.27" font-size="9.1" text-anchor="middle">1800</text>
<line x1="254.0" y1="757.3" x2="257.0" y2="757.3" stroke="#3c3c3c" stroke-width="0.6"/>
<text class="t" x="250.6" y="760.1" font-size="9.2" text-anchor="end">1.4</text>
<line x1="254.0" y1="780.6" x2="257.0" y2="780.6" stroke="#3c3c3c" stroke-width="0.6"/>
<text class="t" x="250.6" y="783.4" font-size="9.2" text-anchor="end">1.3</text>
<line x1="254.0" y1="804.6" x2="257.0" y2="804.6" stroke="#3c3c3c" stroke-width="0.6"/>
<text class="t" x="250.6" y="807.4" font-size="9.2" text-anchor="end">1.2</text>
<line x1="567.6" y1="758.3" x2="570.6" y2="758.3" stroke="#3c3c3c" stroke-width="0.6"/>
<text class="t" x="573.2" y="761.2" font-size="9.2">5</text>
<line x1="567.6" y1="773.9" x2="570.6" y2="773.9" stroke="#3c3c3c" stroke-width="0.6"/>
<text class="t" x="573.2" y="776.8" font-size="9.2">0</text>
<line x1="567.6" y1="790.4" x2="570.6" y2="790.4" stroke="#3c3c3c" stroke-width="0.6"/>
<text class="t" x="573.2" y="793.3" font-size="9.2">-5</text>
<line x1="567.6" y1="805.2" x2="570.6" y2="805.2" stroke="#3c3c3c" stroke-width="0.6"/>
<text class="t" x="573.2" y="808.1" font-size="9.2">-10</text>
<rect x="254.0" y="743.5" width="316.6" height="61.8" fill="none" stroke="#2a2a2a" stroke-width="1.1"/>
<text class="s" transform="translate(234.5,774.4) rotate(-90)" font-size="8.4" text-anchor="middle">ROI signal [A.U.]</text>
<text class="s" transform="translate(598.3,774.4) rotate(-90)" font-size="10.6" text-anchor="middle">&#916; signal [%]</text>
<rect x="254.0" y="829.5" width="51.6" height="62.4" fill="#feeb84"/>
<rect x="305.6" y="829.5" width="51.2" height="62.4" fill="#f3bd77"/>
<rect x="356.8" y="829.5" width="52.2" height="62.4" fill="#feeb84"/>
<rect x="409.0" y="829.5" width="51.7" height="62.4" fill="#f3bd77"/>
<rect x="460.7" y="829.5" width="55.3" height="62.4" fill="#feeb84"/>
<rect x="516.0" y="829.5" width="54.6" height="62.4" fill="#f3bd77"/>
<clipPath id="cc9"><rect x="254.0" y="829.5" width="316.6" height="62.4"/></clipPath>
<g clip-path="url(#cc9)">
<path d="M254.0,858.0 L255.3,859.7 L256.6,862.3 L257.9,864.9 L259.2,870.4 L260.5,870.9 L261.8,865.8 L263.1,869.8 L264.4,874.0 L265.7,874.4 L267.0,877.8 L268.3,879.4 L269.6,875.4 L270.9,875.7 L272.2,880.2 L273.5,883.5 L274.8,879.1 L276.1,877.8 L277.4,878.7 L278.7,881.3 L280.0,878.0 L281.3,877.4 L282.6,885.0 L283.9,888.9 L285.2,882.5 L286.5,883.6 L287.8,882.2 L289.1,884.4 L290.4,884.8 L291.7,885.4 L293.0,885.3 L294.3,888.1 L295.6,889.1 L296.9,886.6 L298.2,885.3 L299.5,887.3 L300.8,889.8 L302.1,891.3 L303.4,891.3 L304.7,891.3 L306.0,890.2 L307.3,886.7 L308.6,887.2 L309.9,882.3 L311.2,881.7 L312.5,881.2 L313.8,878.8 L315.1,871.6 L316.4,871.4 L317.7,869.6 L319.0,865.1 L320.3,863.4 L321.6,859.9 L322.9,852.2 L324.2,854.2 L325.5,856.0 L326.8,850.7 L328.1,849.7 L329.4,850.0 L330.7,845.6 L332.0,839.9 L333.3,842.4 L334.6,845.3 L335.9,839.5 L337.2,839.3 L338.5,840.2 L339.8,839.1 L341.1,836.8 L342.4,835.5 L343.7,840.3 L345.0,841.7 L346.3,838.1 L347.6,837.5 L348.9,840.2 L350.2,839.8 L351.5,836.6 L352.8,835.2 L354.1,834.2 L355.4,835.7 L356.7,835.3 L358.0,836.5 L359.3,837.3 L360.6,831.3 L361.9,833.6 L363.2,838.5 L364.5,844.3 L365.8,848.8 L367.1,851.4 L368.4,852.6 L369.7,857.9 L371.0,861.3 L372.3,861.1 L373.6,868.1 L374.9,867.9 L376.2,869.3 L377.5,874.7 L378.8,874.0 L380.1,873.5 L381.4,877.2 L382.7,876.8 L384.0,881.1 L385.3,878.3 L386.6,878.4 L387.9,881.3 L389.2,882.0 L390.5,883.2 L391.8,882.9 L393.1,881.9 L394.4,884.5 L395.7,880.7 L397.0,883.5 L398.3,886.5 L399.6,886.1 L400.9,888.4 L402.2,887.2 L403.5,884.9 L404.8,887.3 L406.1,886.4 L407.4,886.3 L408.7,883.2 L410.0,885.4 L411.3,887.3 L412.6,884.1 L413.9,881.3 L415.2,878.7 L416.5,878.4 L417.8,873.4 L419.1,868.2 L420.4,869.5 L421.7,869.1 L423.0,863.7 L424.3,857.2 L425.6,855.5 L426.9,856.7 L428.2,857.4 L429.5,855.8 L430.8,852.1 L432.1,852.9 L433.4,854.0 L434.7,850.6 L436.0,847.1 L437.3,847.8 L438.6,845.6 L439.9,838.6 L441.2,837.5 L442.5,841.1 L443.8,845.4 L445.1,844.0 L446.4,841.2 L447.7,841.5 L449.0,842.6 L450.3,839.5 L451.6,837.9 L452.9,839.0 L454.2,839.1 L455.5,840.0 L456.8,837.0 L458.1,833.7 L459.4,834.2 L460.7,834.4 L462.0,837.9 L463.3,834.0 L464.6,835.4 L465.9,841.4 L467.2,842.1 L468.5,842.5 L469.8,846.2 L471.1,847.6 L472.4,848.5 L473.7,852.8 L475.0,857.7 L476.3,860.5 L477.6,862.7 L478.9,863.6 L480.2,867.7 L481.5,873.3 L482.8,872.6 L484.1,873.1 L485.4,877.3 L486.7,876.1 L488.0,878.0 L489.3,882.8 L490.6,881.5 L491.9,881.9 L493.2,882.0 L494.5,884.4 L495.8,886.6 L497.1,884.7 L498.4,877.1 L499.7,881.7 L501.0,885.6 L502.3,885.8 L503.6,885.2 L504.9,882.2 L506.2,882.1 L507.5,878.5 L508.8,883.9 L510.1,888.6 L511.4,885.9 L512.7,881.0 L514.0,887.2 L515.3,889.6 L516.6,887.4 L517.9,884.4 L519.2,883.8 L520.5,879.6 L521.8,880.1 L523.1,876.1 L524.4,877.8 L525.7,879.7 L527.0,869.6 L528.3,868.8 L529.6,864.8 L530.9,864.9 L532.2,861.8 L533.5,858.2 L534.8,856.7 L536.1,852.2 L537.4,854.7 L538.7,853.6 L540.0,851.3 L541.3,851.4 L542.6,849.3 L543.9,846.7 L545.2,841.7 L546.5,844.2 L546.4,845.0 L546.8,833.5 L547.2,845.0 L547.8,845.0 L549.1,844.8 L550.4,849.2 L551.3,848.5 L551.7,877.5 L552.1,848.5 L551.7,848.5 L553.0,841.4 L554.3,842.3 L555.6,843.3 L556.9,841.3 L556.6,842.0 L557.0,832.3 L557.4,842.0 L558.2,842.0 L559.5,842.2 L560.8,840.1 L562.1,834.4 L563.4,835.5 L564.7,841.5 L566.0,842.4 L567.3,841.6 L568.6,842.6 L569.9,837.6" fill="none" stroke="#2584c4" stroke-width="1.25" stroke-linejoin="round"/>
<path d="M254.0,861.8 L255.0,863.2 L256.0,864.6 L257.0,865.9 L258.0,867.2 L259.1,868.4 L260.1,869.5 L261.1,870.6 L262.1,871.6 L263.1,872.5 L264.1,873.4 L265.1,874.3 L266.1,875.1 L267.2,875.9 L268.2,876.7 L269.2,877.4 L270.2,878.1 L271.2,878.7 L272.2,879.3 L273.2,879.9 L274.2,880.4 L275.2,881.0 L276.3,881.5 L277.3,881.9 L278.3,882.4 L279.3,882.8 L280.3,883.2 L281.3,883.6 L282.3,884.0 L283.3,884.3 L284.4,884.6 L285.4,885.0 L286.4,885.3 L287.4,885.5 L288.4,885.8 L289.4,886.1 L290.4,886.3 L291.4,886.5 L292.4,886.8 L293.5,887.0 L294.5,887.2 L295.5,887.4 L296.5,887.5 L297.5,887.7 L298.5,887.9 L299.5,888.0 L300.5,888.2 L301.6,888.3 L302.6,888.4 L303.6,888.6 L304.6,888.7 L305.6,888.8 L306.6,888.7 L307.6,888.2 L308.6,887.4 L309.6,886.3 L310.6,884.9 L311.6,883.2 L312.6,881.4 L313.6,879.4 L314.6,877.2 L315.6,875.0 L316.6,872.7 L317.6,870.4 L318.7,868.1 L319.7,865.9 L320.7,863.7 L321.7,861.5 L322.7,859.5 L323.7,857.5 L324.7,855.7 L325.7,853.9 L326.7,852.3 L327.7,850.7 L328.7,849.2 L329.7,847.9 L330.7,846.6 L331.7,845.5 L332.7,844.4 L333.7,843.4 L334.7,842.5 L335.7,841.7 L336.7,840.9 L337.7,840.2 L338.7,839.6 L339.7,839.0 L340.7,838.5 L341.7,838.0 L342.7,837.6 L343.7,837.2 L344.8,836.8 L345.8,836.5 L346.8,836.2 L347.8,835.9 L348.8,835.7 L349.8,835.5 L350.8,835.3 L351.8,835.1 L352.8,835.0 L353.8,834.8 L354.8,834.7 L355.8,834.6 L356.8,834.5 L357.8,834.7 L358.8,835.2 L359.8,836.2 L360.8,837.5 L361.8,839.1 L362.8,841.0 L363.8,843.1 L364.8,845.3 L365.8,847.6 L366.8,850.0 L367.8,852.4 L368.8,854.8 L369.9,857.1 L370.9,859.4 L371.9,861.6 L372.9,863.6 L373.9,865.6 L374.9,867.4 L375.9,869.2 L376.9,870.8 L377.9,872.2 L378.9,873.6 L379.9,874.9 L380.9,876.0 L381.9,877.1 L382.9,878.0 L383.9,878.9 L384.9,879.7 L385.9,880.4 L386.9,881.0 L387.9,881.6 L388.9,882.1 L389.9,882.6 L390.9,883.0 L391.9,883.4 L392.9,883.7 L393.9,884.0 L394.9,884.3 L395.9,884.5 L397.0,884.8 L398.0,884.9 L399.0,885.1 L400.0,885.3 L401.0,885.4 L402.0,885.5 L403.0,885.6 L404.0,885.7 L405.0,885.8 L406.0,885.8 L407.0,885.9 L408.0,886.0 L409.0,886.0 L410.0,885.9 L411.0,885.5 L412.0,884.7 L413.1,883.7 L414.1,882.5 L415.1,880.9 L416.1,879.3 L417.1,877.4 L418.1,875.5 L419.1,873.4 L420.2,871.3 L421.2,869.3 L422.2,867.2 L423.2,865.1 L424.2,863.1 L425.2,861.2 L426.2,859.3 L427.2,857.5 L428.3,855.9 L429.3,854.3 L430.3,852.7 L431.3,851.3 L432.3,850.0 L433.3,848.8 L434.3,847.6 L435.4,846.6 L436.4,845.6 L437.4,844.7 L438.4,843.9 L439.4,843.1 L440.4,842.4 L441.4,841.8 L442.5,841.2 L443.5,840.7 L444.5,840.2 L445.5,839.8 L446.5,839.4 L447.5,839.0 L448.5,838.7 L449.5,838.4 L450.6,838.1 L451.6,837.9 L452.6,837.7 L453.6,837.5 L454.6,837.3 L455.6,837.2 L456.6,837.0 L457.7,836.9 L458.7,836.8 L459.7,836.7 L460.7,836.6 L461.7,836.7 L462.7,837.2 L463.7,838.0 L464.7,839.1 L465.7,840.4 L466.7,842.0 L467.7,843.8 L468.7,845.7 L469.7,847.8 L470.8,849.8 L471.8,852.0 L472.8,854.1 L473.8,856.2 L474.8,858.2 L475.8,860.2 L476.8,862.1 L477.8,863.9 L478.8,865.6 L479.8,867.2 L480.8,868.8 L481.8,870.2 L482.8,871.5 L483.8,872.7 L484.8,873.9 L485.8,874.9 L486.8,875.9 L487.8,876.8 L488.9,877.6 L489.9,878.3 L490.9,879.0 L491.9,879.6 L492.9,880.1 L493.9,880.6 L494.9,881.1 L495.9,881.5 L496.9,881.8 L497.9,882.2 L498.9,882.5 L499.9,882.7 L500.9,883.0 L501.9,883.2 L502.9,883.4 L503.9,883.6 L504.9,883.7 L505.9,883.8 L507.0,884.0 L508.0,884.1 L509.0,884.2 L510.0,884.3 L511.0,884.3 L512.0,884.4 L513.0,884.5 L514.0,884.5 L515.0,884.6 L516.0,884.6 L517.0,884.5 L518.0,884.1 L519.0,883.5 L520.0,882.7 L521.1,881.6 L522.1,880.3 L523.1,878.9 L524.1,877.3 L525.1,875.6 L526.1,873.8 L527.1,872.0 L528.1,870.1 L529.1,868.3 L530.2,866.4 L531.2,864.6 L532.2,862.8 L533.2,861.1 L534.2,859.4 L535.2,857.9 L536.2,856.3 L537.2,854.9 L538.2,853.5 L539.3,852.3 L540.3,851.1 L541.3,849.9 L542.3,848.9 L543.3,847.9 L544.3,847.0 L545.3,846.2 L546.3,845.4 L547.3,844.7 L548.4,844.0 L549.4,843.4 L550.4,842.8 L551.4,842.3 L552.4,841.9 L553.4,841.4 L554.4,841.0 L555.4,840.7 L556.4,840.4 L557.5,840.1 L558.5,839.8 L559.5,839.6 L560.5,839.3 L561.5,839.1 L562.5,838.9 L563.5,838.8 L564.5,838.6 L565.5,838.5 L566.6,838.4 L567.6,838.3 L568.6,838.2 L569.6,838.1 L570.6,838.0" fill="none" stroke="#e86c2a" stroke-width="1.15"/>
</g>
<line x1="305.6" y1="829.5" x2="305.6" y2="891.9" stroke="#1a1a1a" stroke-width="1.1"/>
<line x1="356.8" y1="829.5" x2="356.8" y2="891.9" stroke="#1a1a1a" stroke-width="1.1"/>
<line x1="409.0" y1="829.5" x2="409.0" y2="891.9" stroke="#1a1a1a" stroke-width="1.1"/>
<line x1="460.7" y1="829.5" x2="460.7" y2="891.9" stroke="#1a1a1a" stroke-width="1.1"/>
<line x1="516.0" y1="829.5" x2="516.0" y2="891.9" stroke="#1a1a1a" stroke-width="1.1"/>
<line x1="254.3" y1="891.9" x2="254.3" y2="889.4" stroke="#6a5a40" stroke-width="0.5"/>
<text class="t" x="254.3" y="906.05" font-size="9.1" text-anchor="middle">0</text>
<line x1="289.1" y1="891.9" x2="289.1" y2="889.4" stroke="#6a5a40" stroke-width="0.5"/>
<text class="t" x="289.1" y="906.05" font-size="9.1" text-anchor="middle">200</text>
<line x1="323.9" y1="891.9" x2="323.9" y2="889.4" stroke="#6a5a40" stroke-width="0.5"/>
<text class="t" x="323.9" y="906.05" font-size="9.1" text-anchor="middle">400</text>
<line x1="358.6" y1="891.9" x2="358.6" y2="889.4" stroke="#6a5a40" stroke-width="0.5"/>
<text class="t" x="358.6" y="906.05" font-size="9.1" text-anchor="middle">600</text>
<line x1="393.4" y1="891.9" x2="393.4" y2="889.4" stroke="#6a5a40" stroke-width="0.5"/>
<text class="t" x="393.4" y="906.05" font-size="9.1" text-anchor="middle">800</text>
<line x1="428.2" y1="891.9" x2="428.2" y2="889.4" stroke="#6a5a40" stroke-width="0.5"/>
<text class="t" x="428.2" y="906.05" font-size="9.1" text-anchor="middle">1000</text>
<line x1="463.0" y1="891.9" x2="463.0" y2="889.4" stroke="#6a5a40" stroke-width="0.5"/>
<text class="t" x="463.0" y="906.05" font-size="9.1" text-anchor="middle">1200</text>
<line x1="497.7" y1="891.9" x2="497.7" y2="889.4" stroke="#6a5a40" stroke-width="0.5"/>
<text class="t" x="497.7" y="906.05" font-size="9.1" text-anchor="middle">1400</text>
<line x1="532.5" y1="891.9" x2="532.5" y2="889.4" stroke="#6a5a40" stroke-width="0.5"/>
<text class="t" x="532.5" y="906.05" font-size="9.1" text-anchor="middle">1600</text>
<line x1="567.3" y1="891.9" x2="567.3" y2="889.4" stroke="#6a5a40" stroke-width="0.5"/>
<text class="t" x="567.3" y="906.05" font-size="9.1" text-anchor="middle">1800</text>
<line x1="254.0" y1="835.9" x2="257.0" y2="835.9" stroke="#3c3c3c" stroke-width="0.6"/>
<text class="t" x="250.6" y="838.7" font-size="9.2" text-anchor="end">2.2</text>
<line x1="254.0" y1="853.3" x2="257.0" y2="853.3" stroke="#3c3c3c" stroke-width="0.6"/>
<text class="t" x="250.6" y="856.1" font-size="9.2" text-anchor="end">2.1</text>
<line x1="254.0" y1="868.0" x2="257.0" y2="868.0" stroke="#3c3c3c" stroke-width="0.6"/>
<text class="t" x="250.6" y="870.8" font-size="9.2" text-anchor="end">2</text>
<line x1="254.0" y1="882.8" x2="257.0" y2="882.8" stroke="#3c3c3c" stroke-width="0.6"/>
<text class="t" x="250.6" y="885.6" font-size="9.2" text-anchor="end">1.9</text>
<line x1="567.6" y1="846.0" x2="570.6" y2="846.0" stroke="#3c3c3c" stroke-width="0.6"/>
<text class="t" x="573.2" y="848.9" font-size="9.2">5</text>
<line x1="567.6" y1="861.7" x2="570.6" y2="861.7" stroke="#3c3c3c" stroke-width="0.6"/>
<text class="t" x="573.2" y="864.6" font-size="9.2">0</text>
<line x1="567.6" y1="878.3" x2="570.6" y2="878.3" stroke="#3c3c3c" stroke-width="0.6"/>
<text class="t" x="573.2" y="881.2" font-size="9.2">-5</text>
<line x1="567.6" y1="893.0" x2="570.6" y2="893.0" stroke="#3c3c3c" stroke-width="0.6"/>
<text class="t" x="573.2" y="895.9" font-size="9.2">-10</text>
<rect x="254.0" y="829.5" width="316.6" height="62.4" fill="none" stroke="#2a2a2a" stroke-width="1.1"/>
<text class="s" transform="translate(234.5,860.7) rotate(-90)" font-size="8.4" text-anchor="middle">ROI signal [A.U.]</text>
<text class="s" transform="translate(598.3,860.7) rotate(-90)" font-size="10.6" text-anchor="middle">&#916; signal [%]</text>
<text class="s" x="412.8" y="917.2" font-size="10.3" text-anchor="middle" style="fill:#5c5c5c">Time [sec]</text>
<rect x="479.2" y="1.7" width="106.4" height="49.4" fill="#fff" stroke="#333" stroke-width="0.9"/>
<line x1="483" y1="9.2" x2="520.4" y2="9.2" stroke="#e86c2a" stroke-width="1.8"/>
<line x1="483" y1="20.8" x2="520.4" y2="20.8" stroke="#2584c4" stroke-width="1.8"/>
<rect x="483.3" y="28.2" width="37" height="8" fill="#feeb84" stroke="#222" stroke-width="0.9"/>
<rect x="483.3" y="39.6" width="37" height="8" fill="#f3bd77" stroke="#222" stroke-width="0.9"/>
<text x="523.7" y="12.4" font-size="9.9" style="font-family:'Liberation Serif',serif;fill:#222">Model fit</text>
<text x="523.7" y="24.0" font-size="9.9" style="font-family:'Liberation Serif',serif;fill:#222">Measured data</text>
<text x="523.7" y="35.4" font-size="9.9" style="font-family:'Liberation Serif',serif;fill:#222">Hypocapnia</text>
<text x="523.7" y="46.8" font-size="9.9" style="font-family:'Liberation Serif',serif;fill:#222">Hypercapnia</text>
<defs>
<filter id="tex" x="0" y="0" width="100%" height="100%" color-interpolation-filters="sRGB"><feTurbulence type="fractalNoise" baseFrequency="0.22" numOctaves="2" seed="7" result="t"/><feColorMatrix in="t" type="matrix" values="1 0 0 0 0  1 0 0 0 0  1 0 0 0 0  0 0 0 0 1" result="g"/><feComposite in="SourceGraphic" in2="g" operator="arithmetic" k1="0.6" k2="0.7" k3="0" k4="0" result="c"/><feGaussianBlur in="c" stdDeviation="0.5"/></filter>
<filter id="tex2" x="0" y="0" width="100%" height="100%" color-interpolation-filters="sRGB"><feTurbulence type="fractalNoise" baseFrequency="0.28" numOctaves="2" seed="11" result="t"/><feColorMatrix in="t" type="matrix" values="1 0 0 0 0  1 0 0 0 0  1 0 0 0 0  0 0 0 0 1" result="g"/><feComposite in="SourceGraphic" in2="g" operator="arithmetic" k1="0.8" k2="0.6" k3="0" k4="0" result="c"/><feGaussianBlur in="c" stdDeviation="0.45"/></filter>
<filter id="bl4" x="-50%" y="-50%" width="200%" height="200%"><feGaussianBlur stdDeviation="1.8"/></filter>
</defs>
<text class="b" x="182.6" y="42.4" font-size="10.8" text-anchor="middle" textLength="107.0" lengthAdjust="spacingAndGlyphs" style="fill:#151515">CNR map, max = 26.75</text>
<rect x="131.6" y="46.5" width="6.7" height="62.1" fill="url(#cb)" stroke="#333" stroke-width="0.9"/>
<text class="t" x="128" y="111.8" font-size="9" text-anchor="end">0</text>
<text class="t" x="128" y="88.6" font-size="9" text-anchor="end">10</text>
<text class="t" x="128" y="65.4" font-size="9" text-anchor="end">20</text>
<rect x="152.4" y="46.5" width="62.2" height="61.9" fill="#060606"/>
<clipPath id="bc0"><rect x="152.4" y="46.5" width="62.2" height="61.9"/></clipPath>
<g clip-path="url(#bc0)">
<g filter="url(#tex)">
<rect x="152.4" y="46.5" width="62.2" height="62.1" fill="#0c0c0c"/>
<path d="M167.6,53.3 C171.8,51.8 178.8,51.6 184.4,51.5 C190.1,51.4 197.1,50.9 201.3,52.4 C205.5,53.9 207.8,56.8 209.7,60.4 C211.6,64.0 212.5,69.2 212.5,73.8 C212.5,78.3 212.0,84.5 209.7,88.0 C207.4,91.5 202.7,93.3 198.5,94.7 C194.3,96.0 189.1,96.1 184.4,96.0 C179.8,95.9 174.6,95.4 170.4,94.2 C166.2,93.0 161.5,92.3 159.2,88.9 C156.9,85.5 156.4,78.5 156.4,73.8 C156.4,69.0 157.3,63.8 159.2,60.4 C161.1,57.0 163.4,54.8 167.6,53.3Z" fill="#828282" stroke="#a4a4a4" stroke-width="1.4"/>
<path d="M169.9,56.0 C167.6,67.1 173.2,73.8 180.0,76.0 L188.9,76.0 C195.7,73.8 201.3,67.1 199.0,56.0" fill="none" stroke="#3a3a3a" stroke-width="1.1"/>
<path d="M173.2,55.1 C181.6,52.8 190.1,52.8 196.8,55.1" fill="none" stroke="#555" stroke-width="0.9"/>
<path d="M165.9,64.8 C163.1,73.8 166.5,82.7 171.0,87.1" fill="none" stroke="#383838" stroke-width="1.3"/>
<path d="M203.0,64.8 C205.8,73.8 202.4,82.7 197.9,87.1" fill="none" stroke="#383838" stroke-width="1.3"/>
<path d="M173.2,79.1 C172.1,83.5 173.2,87.1 175.5,89.8" fill="none" stroke="#2c2c2c" stroke-width="1.4"/>
<path d="M195.7,79.1 C196.8,83.5 195.7,87.1 193.4,89.8" fill="none" stroke="#2c2c2c" stroke-width="1.4"/>
<path d="M176.6,79.5 C181.6,77.3 187.3,77.3 192.3,79.5" fill="none" stroke="#d6d6d6" stroke-width="1.8"/>
<ellipse cx="184.4" cy="83.5" rx="6.7" ry="2.7" fill="#aaa"/>
<circle cx="163.1" cy="73.8" r="1.2" fill="#ccc"/>
<circle cx="205.8" cy="76.0" r="1.2" fill="#ddd"/>
</g>
<ellipse cx="180" cy="62.5" rx="13" ry="10" fill="#ff7b7b" opacity="0.72" filter="url(#bl4)"/>
<ellipse cx="172" cy="57.5" rx="8" ry="6" fill="#ff7b7b" opacity="0.52" filter="url(#bl4)"/>
<ellipse cx="187" cy="67.5" rx="9" ry="10" fill="#ff7b7b" opacity="0.65" filter="url(#bl4)"/>
<ellipse cx="180" cy="96.5" rx="12" ry="3" fill="#ff7b7b" opacity="0.33" filter="url(#bl4)"/>
<ellipse cx="186.0" cy="58.7" rx="6" ry="7" fill="#ff3030" opacity="0.45" filter="url(#bl4)"/>
<rect x="183.5" y="54.5" width="5" height="5" fill="#e80d0d"/>
<rect x="182.7" y="53.7" width="6.6" height="6.6" fill="none" stroke="#45cdd6" stroke-width="1.3"/>
</g>
<line x1="156.6" y1="104.8" x2="162.6" y2="104.8" stroke="#f4f4f4" stroke-width="1.1"/>
<path d="M156.3,104.8 l1.6,-1.3 v2.6 Z M162.9,104.8 l-1.6,-1.3 v2.6 Z" fill="#f4f4f4"/>
<text x="165.2" y="108.3" font-size="10.6" style="font-family:'Liberation Sans',sans-serif;fill:#fff">3 mm</text>
<text class="b" x="182.6" y="129.4" font-size="10.8" text-anchor="middle" textLength="101.4" lengthAdjust="spacingAndGlyphs" style="fill:#151515">CNR map, max = 16.6</text>
<rect x="131.6" y="133.5" width="6.7" height="62.4" fill="url(#cb)" stroke="#333" stroke-width="0.9"/>
<text class="t" x="128" y="199.1" font-size="9" text-anchor="end">0</text>
<text class="t" x="128" y="180.3" font-size="9" text-anchor="end">5</text>
<text class="t" x="128" y="161.5" font-size="9" text-anchor="end">10</text>
<text class="t" x="128" y="142.7" font-size="9" text-anchor="end">15</text>
<rect x="152.4" y="133.5" width="62.2" height="62.2" fill="#060606"/>
<clipPath id="bc1"><rect x="152.4" y="133.5" width="62.2" height="62.2"/></clipPath>
<g clip-path="url(#bc1)">
<g filter="url(#tex)">
<rect x="152.4" y="133.5" width="62.2" height="62.4" fill="#0c0c0c"/>
<path d="M165.6,137.0 C169.9,135.2 177.2,135.1 183.0,134.9 C188.8,134.7 196.1,134.2 200.4,135.9 C204.8,137.7 207.2,141.1 209.1,145.2 C211.0,149.3 212.0,155.4 212.0,160.7 C212.0,166.0 211.5,173.2 209.1,177.2 C206.7,181.3 201.8,183.4 197.5,185.0 C193.2,186.5 187.8,186.6 183.0,186.5 C178.2,186.4 172.8,185.8 168.5,184.4 C164.2,183.1 159.3,182.2 156.9,178.2 C154.5,174.3 154.0,166.2 154.0,160.7 C154.0,155.2 155.0,149.2 156.9,145.2 C158.8,141.3 161.2,138.7 165.6,137.0Z" fill="#828282" stroke="#a4a4a4" stroke-width="1.4"/>
<path d="M167.9,140.1 C165.6,153.0 171.4,160.7 178.4,163.3 L187.6,163.3 C194.6,160.7 200.4,153.0 198.1,140.1" fill="none" stroke="#3a3a3a" stroke-width="1.1"/>
<path d="M171.4,139.0 C180.1,136.4 188.8,136.4 195.8,139.0" fill="none" stroke="#555" stroke-width="0.9"/>
<path d="M163.9,150.4 C161.0,160.7 164.4,171.0 169.1,176.2" fill="none" stroke="#383838" stroke-width="1.3"/>
<path d="M202.1,150.4 C205.0,160.7 201.6,171.0 196.9,176.2" fill="none" stroke="#383838" stroke-width="1.3"/>
<path d="M171.4,166.9 C170.2,172.1 171.4,176.2 173.7,179.3" fill="none" stroke="#2c2c2c" stroke-width="1.4"/>
<path d="M194.6,166.9 C195.8,172.1 194.6,176.2 192.3,179.3" fill="none" stroke="#2c2c2c" stroke-width="1.4"/>
<path d="M174.9,167.4 C180.1,164.8 185.9,164.8 191.1,167.4" fill="none" stroke="#d6d6d6" stroke-width="1.8"/>
<ellipse cx="183.0" cy="172.1" rx="7.0" ry="3.1" fill="#aaa"/>
<circle cx="161.0" cy="160.7" r="1.2" fill="#ccc"/>
<circle cx="205.0" cy="163.3" r="1.2" fill="#ddd"/>
</g>
<ellipse cx="184" cy="144.5" rx="7" ry="11" fill="#ff7b7b" opacity="0.59" filter="url(#bl4)"/>
<ellipse cx="210" cy="161.5" rx="3" ry="10" fill="#ff7b7b" opacity="0.33" filter="url(#bl4)"/>
<ellipse cx="182.1" cy="142.3" rx="6" ry="7" fill="#ff3030" opacity="0.45" filter="url(#bl4)"/>
<rect x="179.6" y="138.1" width="5" height="5" fill="#e80d0d"/>
<rect x="178.8" y="137.3" width="6.6" height="6.6" fill="none" stroke="#45cdd6" stroke-width="1.3"/>
</g>
<line x1="156.6" y1="191.8" x2="162.6" y2="191.8" stroke="#f4f4f4" stroke-width="1.1"/>
<path d="M156.3,191.8 l1.6,-1.3 v2.6 Z M162.9,191.8 l-1.6,-1.3 v2.6 Z" fill="#f4f4f4"/>
<text x="165.2" y="195.3" font-size="10.6" style="font-family:'Liberation Sans',sans-serif;fill:#fff">3 mm</text>
<text class="b" x="182.6" y="216.4" font-size="10.8" text-anchor="middle" textLength="107.0" lengthAdjust="spacingAndGlyphs" style="fill:#151515">CNR map, max = 13.54</text>
<rect x="131.6" y="220.5" width="6.7" height="62.1" fill="url(#cb)" stroke="#333" stroke-width="0.9"/>
<text class="t" x="128" y="285.8" font-size="9" text-anchor="end">0</text>
<text class="t" x="128" y="262.9" font-size="9" text-anchor="end">5</text>
<text class="t" x="128" y="239.9" font-size="9" text-anchor="end">10</text>
<rect x="152.4" y="220.5" width="62.2" height="61.9" fill="#060606"/>
<clipPath id="bc2"><rect x="152.4" y="220.5" width="62.2" height="61.9"/></clipPath>
<g clip-path="url(#bc2)">
<g filter="url(#tex)">
<rect x="152.4" y="220.5" width="62.2" height="62.1" fill="#0c0c0c"/>
<path d="M158.1,233.8 C160.0,230.1 162.5,226.7 165.7,224.6 C168.9,222.5 173.3,221.7 177.4,221.1 C181.5,220.5 186.4,220.6 190.3,221.1 C194.2,221.6 197.7,222.1 200.8,224.0 C203.9,225.9 207.0,228.8 209.0,232.7 C210.9,236.5 212.0,242.1 212.5,247.2 C213.0,252.2 212.7,258.2 211.9,262.8 C211.1,267.4 209.7,272.2 207.8,274.9 C206.0,277.6 203.3,278.7 200.8,279.0 C198.3,279.3 195.5,277.3 192.6,276.7 C189.7,276.1 186.4,275.5 183.2,275.5 C180.1,275.5 176.8,276.1 173.9,276.7 C171.0,277.3 168.2,279.3 165.7,279.0 C163.2,278.7 160.5,277.6 158.7,274.9 C156.8,272.2 155.4,267.4 154.6,262.8 C153.8,258.2 153.4,252.0 154.0,247.2 C154.6,242.3 156.1,237.6 158.1,233.8Z" fill="#828282" stroke="#a4a4a4" stroke-width="1.4"/>
<path d="M168.0,226.9 C165.7,241.4 171.6,250.1 178.6,252.9 L187.9,252.9 C194.9,250.1 200.8,241.4 198.5,226.9" fill="none" stroke="#3a3a3a" stroke-width="1.1"/>
<path d="M171.6,225.7 C180.3,222.8 189.1,222.8 196.1,225.7" fill="none" stroke="#555" stroke-width="0.9"/>
<path d="M163.9,238.5 C161.0,250.1 164.5,261.6 169.2,267.4" fill="none" stroke="#383838" stroke-width="1.3"/>
<path d="M202.6,238.5 C205.5,250.1 202.0,261.6 197.3,267.4" fill="none" stroke="#383838" stroke-width="1.3"/>
<path d="M171.6,257.0 C170.4,262.8 171.6,267.4 173.9,270.9" fill="none" stroke="#2c2c2c" stroke-width="1.4"/>
<path d="M194.9,257.0 C196.1,262.8 194.9,267.4 192.6,270.9" fill="none" stroke="#2c2c2c" stroke-width="1.4"/>
<path d="M175.1,257.6 C180.3,254.7 186.2,254.7 191.4,257.6" fill="none" stroke="#d6d6d6" stroke-width="1.8"/>
<ellipse cx="183.2" cy="262.8" rx="7.0" ry="3.5" fill="#aaa"/>
<circle cx="161.0" cy="250.1" r="1.2" fill="#ccc"/>
<circle cx="205.5" cy="252.9" r="1.2" fill="#ddd"/>
</g>
<ellipse cx="192" cy="230.5" rx="9" ry="8" fill="#ff7b7b" opacity="0.78" filter="url(#bl4)"/>
<ellipse cx="157" cy="230.5" rx="5" ry="8" fill="#ff7b7b" opacity="0.39" filter="url(#bl4)"/>
<ellipse cx="203" cy="260.5" rx="4" ry="6" fill="#ff7b7b" opacity="0.26" filter="url(#bl4)"/>
<ellipse cx="188.3" cy="230.8" rx="6" ry="7" fill="#ff3030" opacity="0.45" filter="url(#bl4)"/>
<rect x="185.8" y="226.6" width="5" height="5" fill="#e80d0d"/>
<rect x="185.0" y="225.8" width="6.6" height="6.6" fill="none" stroke="#45cdd6" stroke-width="1.3"/>
</g>
<line x1="156.6" y1="278.8" x2="162.6" y2="278.8" stroke="#f4f4f4" stroke-width="1.1"/>
<path d="M156.3,278.8 l1.6,-1.3 v2.6 Z M162.9,278.8 l-1.6,-1.3 v2.6 Z" fill="#f4f4f4"/>
<text x="165.2" y="282.3" font-size="10.6" style="font-family:'Liberation Sans',sans-serif;fill:#fff">3 mm</text>
<text class="b" x="182.6" y="303.3" font-size="10.8" text-anchor="middle" textLength="107.0" lengthAdjust="spacingAndGlyphs" style="fill:#151515">CNR map, max = 28.93</text>
<rect x="131.6" y="307.4" width="6.7" height="62.1" fill="url(#cb)" stroke="#333" stroke-width="0.9"/>
<text class="t" x="128" y="372.7" font-size="9" text-anchor="end">0</text>
<text class="t" x="128" y="351.2" font-size="9" text-anchor="end">10</text>
<text class="t" x="128" y="329.8" font-size="9" text-anchor="end">20</text>
<rect x="152.4" y="307.4" width="62.2" height="61.9" fill="#060606"/>
<clipPath id="bc3"><rect x="152.4" y="307.4" width="62.2" height="61.9"/></clipPath>
<g clip-path="url(#bc3)">
<g filter="url(#tex)">
<rect x="152.4" y="307.4" width="62.2" height="62.1" fill="#0c0c0c"/>
<path d="M158.6,320.0 C160.6,316.7 163.0,313.8 166.3,311.9 C169.5,310.1 173.9,309.4 178.0,308.9 C182.1,308.4 187.0,308.5 191.0,308.9 C194.9,309.3 198.4,309.7 201.5,311.4 C204.7,313.1 207.8,315.6 209.8,319.0 C211.7,322.4 212.8,327.2 213.3,331.6 C213.8,336.0 213.5,341.2 212.7,345.3 C211.9,349.3 210.5,353.5 208.6,355.9 C206.7,358.2 204.1,359.1 201.5,359.4 C199.0,359.7 196.2,357.9 193.3,357.4 C190.4,356.9 187.0,356.4 183.9,356.4 C180.8,356.4 177.4,356.9 174.5,357.4 C171.6,357.9 168.8,359.7 166.3,359.4 C163.7,359.1 161.1,358.2 159.2,355.9 C157.3,353.5 155.9,349.3 155.1,345.3 C154.3,341.2 153.9,335.8 154.5,331.6 C155.1,327.4 156.7,323.3 158.6,320.0Z" fill="#828282" stroke="#a4a4a4" stroke-width="1.4"/>
<path d="M168.6,313.9 C166.3,326.6 172.1,334.1 179.2,336.7 L188.6,336.7 C195.7,334.1 201.5,326.6 199.2,313.9" fill="none" stroke="#3a3a3a" stroke-width="1.1"/>
<path d="M172.1,312.9 C181.0,310.4 189.8,310.4 196.8,312.9" fill="none" stroke="#555" stroke-width="0.9"/>
<path d="M164.5,324.0 C161.6,334.1 165.1,344.2 169.8,349.3" fill="none" stroke="#383838" stroke-width="1.3"/>
<path d="M203.3,324.0 C206.2,334.1 202.7,344.2 198.0,349.3" fill="none" stroke="#383838" stroke-width="1.3"/>
<path d="M172.1,340.2 C171.0,345.3 172.1,349.3 174.5,352.3" fill="none" stroke="#2c2c2c" stroke-width="1.4"/>
<path d="M195.7,340.2 C196.8,345.3 195.7,349.3 193.3,352.3" fill="none" stroke="#2c2c2c" stroke-width="1.4"/>
<path d="M175.7,340.7 C181.0,338.2 186.8,338.2 192.1,340.7" fill="none" stroke="#d6d6d6" stroke-width="1.8"/>
<ellipse cx="183.9" cy="345.3" rx="7.1" ry="3.0" fill="#aaa"/>
<circle cx="161.6" cy="334.1" r="1.2" fill="#ccc"/>
<circle cx="206.2" cy="336.7" r="1.2" fill="#ddd"/>
</g>
<ellipse cx="185" cy="316.4" rx="13" ry="6" fill="#ff7b7b" opacity="0.59" filter="url(#bl4)"/>
<ellipse cx="185" cy="323.4" rx="7" ry="9" fill="#ff7b7b" opacity="0.52" filter="url(#bl4)"/>
<ellipse cx="187.3" cy="318.4" rx="6" ry="7" fill="#ff3030" opacity="0.45" filter="url(#bl4)"/>
<rect x="184.8" y="314.2" width="5" height="5" fill="#e80d0d"/>
<rect x="184.0" y="313.4" width="6.6" height="6.6" fill="none" stroke="#45cdd6" stroke-width="1.3"/>
</g>
<line x1="156.6" y1="365.7" x2="162.6" y2="365.7" stroke="#f4f4f4" stroke-width="1.1"/>
<path d="M156.3,365.7 l1.6,-1.3 v2.6 Z M162.9,365.7 l-1.6,-1.3 v2.6 Z" fill="#f4f4f4"/>
<text x="165.2" y="369.2" font-size="10.6" style="font-family:'Liberation Sans',sans-serif;fill:#fff">3 mm</text>
<text class="b" x="182.6" y="390.0" font-size="10.8" text-anchor="middle" textLength="107.0" lengthAdjust="spacingAndGlyphs" style="fill:#151515">CNR map, max = 13.49</text>
<rect x="131.6" y="394.1" width="6.7" height="62.4" fill="url(#cb)" stroke="#333" stroke-width="0.9"/>
<text class="t" x="128" y="459.7" font-size="9" text-anchor="end">0</text>
<text class="t" x="128" y="436.6" font-size="9" text-anchor="end">5</text>
<text class="t" x="128" y="413.4" font-size="9" text-anchor="end">10</text>
<rect x="152.4" y="394.1" width="62.2" height="62.2" fill="#060606"/>
<clipPath id="bc4"><rect x="152.4" y="394.1" width="62.2" height="62.2"/></clipPath>
<g clip-path="url(#bc4)">
<g filter="url(#tex)">
<rect x="152.4" y="394.1" width="62.2" height="62.4" fill="#0c0c0c"/>
<path d="M157.2,408.4 C159.3,404.6 161.8,401.2 165.1,399.1 C168.4,397.0 173.0,396.2 177.2,395.6 C181.4,395.0 186.5,395.1 190.5,395.6 C194.5,396.1 198.2,396.6 201.4,398.5 C204.6,400.4 207.9,403.3 209.9,407.2 C211.9,411.1 213.0,416.7 213.5,421.7 C214.0,426.7 213.7,432.7 212.9,437.4 C212.1,442.0 210.6,446.8 208.7,449.5 C206.7,452.2 204.0,453.3 201.4,453.6 C198.8,453.9 196.0,451.9 192.9,451.3 C189.9,450.7 186.5,450.1 183.2,450.1 C180.0,450.1 176.6,450.7 173.6,451.3 C170.5,451.9 167.7,453.9 165.1,453.6 C162.5,453.3 159.8,452.2 157.8,449.5 C155.9,446.8 154.4,442.0 153.6,437.4 C152.8,432.7 152.4,426.5 153.0,421.7 C153.6,416.9 155.2,412.1 157.2,408.4Z" fill="#828282" stroke="#a4a4a4" stroke-width="1.4"/>
<path d="M167.5,401.4 C165.1,415.9 171.2,424.6 178.4,427.5 L188.1,427.5 C195.3,424.6 201.4,415.9 199.0,401.4" fill="none" stroke="#3a3a3a" stroke-width="1.1"/>
<path d="M171.2,400.2 C180.2,397.3 189.3,397.3 196.6,400.2" fill="none" stroke="#555" stroke-width="0.9"/>
<path d="M163.3,413.0 C160.3,424.6 163.9,436.2 168.7,442.0" fill="none" stroke="#383838" stroke-width="1.3"/>
<path d="M203.2,413.0 C206.2,424.6 202.6,436.2 197.8,442.0" fill="none" stroke="#383838" stroke-width="1.3"/>
<path d="M171.2,431.6 C169.9,437.4 171.2,442.0 173.6,445.5" fill="none" stroke="#2c2c2c" stroke-width="1.4"/>
<path d="M195.3,431.6 C196.6,437.4 195.3,442.0 192.9,445.5" fill="none" stroke="#2c2c2c" stroke-width="1.4"/>
<path d="M174.8,432.1 C180.2,429.2 186.3,429.2 191.7,432.1" fill="none" stroke="#d6d6d6" stroke-width="1.8"/>
<ellipse cx="183.2" cy="437.4" rx="7.3" ry="3.5" fill="#aaa"/>
<circle cx="160.3" cy="424.6" r="1.2" fill="#ccc"/>
<circle cx="206.2" cy="427.5" r="1.2" fill="#ddd"/>
</g>
<ellipse cx="184" cy="408.1" rx="15" ry="7" fill="#ff7b7b" opacity="0.65" filter="url(#bl4)"/>
<ellipse cx="183" cy="402.1" rx="6" ry="4" fill="#ff7b7b" opacity="0.52" filter="url(#bl4)"/>
<ellipse cx="177" cy="439.1" rx="9" ry="6" fill="#ff7b7b" opacity="0.45" filter="url(#bl4)"/>
<ellipse cx="184.9" cy="410.1" rx="6" ry="7" fill="#ff3030" opacity="0.45" filter="url(#bl4)"/>
<rect x="182.4" y="405.9" width="5" height="5" fill="#e80d0d"/>
<rect x="181.6" y="405.1" width="6.6" height="6.6" fill="none" stroke="#45cdd6" stroke-width="1.3"/>
</g>
<line x1="156.6" y1="452.4" x2="162.6" y2="452.4" stroke="#f4f4f4" stroke-width="1.1"/>
<path d="M156.3,452.4 l1.6,-1.3 v2.6 Z M162.9,452.4 l-1.6,-1.3 v2.6 Z" fill="#f4f4f4"/>
<text x="165.2" y="455.9" font-size="10.6" style="font-family:'Liberation Sans',sans-serif;fill:#fff">3 mm</text>
<text class="b" x="182.6" y="478.6" font-size="10.8" text-anchor="middle" textLength="106.4" lengthAdjust="spacingAndGlyphs" style="fill:#151515">CNR map, max = 11.48</text>
<rect x="131.6" y="482.7" width="6.7" height="61.6" fill="url(#cb)" stroke="#333" stroke-width="0.9"/>
<text class="t" x="128" y="547.5" font-size="9" text-anchor="end">0</text>
<text class="t" x="128" y="520.7" font-size="9" text-anchor="end">5</text>
<text class="t" x="128" y="493.8" font-size="9" text-anchor="end">10</text>
<rect x="152.4" y="482.7" width="62.2" height="61.4" fill="#060606"/>
<clipPath id="bc5"><rect x="152.4" y="482.7" width="62.2" height="61.4"/></clipPath>
<g clip-path="url(#bc5)">
<g filter="url(#tex)">
<rect x="152.4" y="482.7" width="62.2" height="61.6" fill="#0c0c0c"/>
<path d="M157.2,497.4 C159.3,493.6 161.8,490.3 165.1,488.1 C168.4,486.0 173.0,485.3 177.2,484.7 C181.4,484.1 186.5,484.2 190.5,484.7 C194.5,485.2 198.2,485.7 201.4,487.6 C204.6,489.5 207.9,492.4 209.9,496.2 C211.9,500.0 213.0,505.6 213.5,510.6 C214.0,515.6 213.7,521.5 212.9,526.1 C212.1,530.7 210.6,535.5 208.7,538.2 C206.7,540.9 204.0,541.9 201.4,542.2 C198.8,542.5 196.0,540.5 192.9,539.9 C189.9,539.3 186.5,538.8 183.2,538.8 C180.0,538.8 176.6,539.3 173.6,539.9 C170.5,540.5 167.7,542.5 165.1,542.2 C162.5,541.9 159.8,540.9 157.8,538.2 C155.9,535.5 154.4,530.7 153.6,526.1 C152.8,521.5 152.4,515.4 153.0,510.6 C153.6,505.8 155.2,501.1 157.2,497.4Z" fill="#828282" stroke="#a4a4a4" stroke-width="1.4"/>
<path d="M167.5,490.4 C165.1,504.8 171.2,513.5 178.4,516.3 L188.1,516.3 C195.3,513.5 201.4,504.8 199.0,490.4" fill="none" stroke="#3a3a3a" stroke-width="1.1"/>
<path d="M171.2,489.3 C180.2,486.4 189.3,486.4 196.6,489.3" fill="none" stroke="#555" stroke-width="0.9"/>
<path d="M163.3,501.9 C160.3,513.5 163.9,525.0 168.7,530.7" fill="none" stroke="#383838" stroke-width="1.3"/>
<path d="M203.2,501.9 C206.2,513.5 202.6,525.0 197.8,530.7" fill="none" stroke="#383838" stroke-width="1.3"/>
<path d="M171.2,520.4 C169.9,526.1 171.2,530.7 173.6,534.2" fill="none" stroke="#2c2c2c" stroke-width="1.4"/>
<path d="M195.3,520.4 C196.6,526.1 195.3,530.7 192.9,534.2" fill="none" stroke="#2c2c2c" stroke-width="1.4"/>
<path d="M174.8,520.9 C180.2,518.1 186.3,518.1 191.7,520.9" fill="none" stroke="#d6d6d6" stroke-width="1.8"/>
<ellipse cx="183.2" cy="526.1" rx="7.3" ry="3.5" fill="#aaa"/>
<circle cx="160.3" cy="513.5" r="1.2" fill="#ccc"/>
<circle cx="206.2" cy="516.3" r="1.2" fill="#ddd"/>
</g>
<ellipse cx="184" cy="494.7" rx="14" ry="8" fill="#ff7b7b" opacity="0.65" filter="url(#bl4)"/>
<ellipse cx="178" cy="533.7" rx="9" ry="6" fill="#ff7b7b" opacity="0.52" filter="url(#bl4)"/>
<ellipse cx="183.1" cy="495.9" rx="6" ry="7" fill="#ff3030" opacity="0.45" filter="url(#bl4)"/>
<rect x="180.6" y="491.7" width="5" height="5" fill="#e80d0d"/>
<rect x="179.8" y="490.9" width="6.6" height="6.6" fill="none" stroke="#45cdd6" stroke-width="1.3"/>
</g>
<line x1="156.6" y1="541.0" x2="162.6" y2="541.0" stroke="#f4f4f4" stroke-width="1.1"/>
<path d="M156.3,541.0 l1.6,-1.3 v2.6 Z M162.9,541.0 l-1.6,-1.3 v2.6 Z" fill="#f4f4f4"/>
<text x="165.2" y="544.5" font-size="10.6" style="font-family:'Liberation Sans',sans-serif;fill:#fff">3 mm</text>
<text class="b" x="182.6" y="565.4" font-size="10.8" text-anchor="middle" textLength="107.0" lengthAdjust="spacingAndGlyphs" style="fill:#151515">CNR map, max = 18.47</text>
<rect x="131.6" y="569.5" width="6.7" height="61.8" fill="url(#cb)" stroke="#333" stroke-width="0.9"/>
<text class="t" x="128" y="634.5" font-size="9" text-anchor="end">0</text>
<text class="t" x="128" y="617.8" font-size="9" text-anchor="end">5</text>
<text class="t" x="128" y="601.0" font-size="9" text-anchor="end">10</text>
<text class="t" x="128" y="584.3" font-size="9" text-anchor="end">15</text>
<rect x="152.4" y="569.5" width="62.2" height="61.6" fill="#060606"/>
<clipPath id="bc6"><rect x="152.4" y="569.5" width="62.2" height="61.6"/></clipPath>
<g clip-path="url(#bc6)">
<g filter="url(#tex)">
<rect x="152.4" y="569.5" width="62.2" height="61.8" fill="#0c0c0c"/>
<path d="M157.1,583.2 C159.1,579.6 161.6,576.4 164.8,574.3 C168.0,572.3 172.5,571.6 176.6,571.0 C180.7,570.4 185.6,570.5 189.6,571.0 C193.5,571.5 197.1,571.9 200.2,573.8 C203.3,575.6 206.5,578.4 208.5,582.1 C210.4,585.8 211.5,591.2 212.0,596.0 C212.5,600.8 212.2,606.5 211.4,611.0 C210.6,615.4 209.1,620.0 207.3,622.6 C205.4,625.2 202.8,626.2 200.2,626.5 C197.6,626.8 194.9,624.8 191.9,624.3 C189.0,623.7 185.6,623.2 182.5,623.2 C179.4,623.2 176.0,623.7 173.1,624.3 C170.1,624.8 167.4,626.8 164.8,626.5 C162.2,626.2 159.6,625.2 157.7,622.6 C155.9,620.0 154.4,615.4 153.6,611.0 C152.8,606.5 152.4,600.6 153.0,596.0 C153.6,591.4 155.2,586.8 157.1,583.2Z" fill="#828282" stroke="#a4a4a4" stroke-width="1.4"/>
<path d="M167.2,576.5 C164.8,590.4 170.7,598.8 177.8,601.5 L187.2,601.5 C194.3,598.8 200.2,590.4 197.8,576.5" fill="none" stroke="#3a3a3a" stroke-width="1.1"/>
<path d="M170.7,575.4 C179.6,572.7 188.4,572.7 195.5,575.4" fill="none" stroke="#555" stroke-width="0.9"/>
<path d="M163.0,587.6 C160.1,598.8 163.6,609.9 168.3,615.4" fill="none" stroke="#383838" stroke-width="1.3"/>
<path d="M202.0,587.6 C204.9,598.8 201.4,609.9 196.7,615.4" fill="none" stroke="#383838" stroke-width="1.3"/>
<path d="M170.7,605.4 C169.5,611.0 170.7,615.4 173.1,618.7" fill="none" stroke="#2c2c2c" stroke-width="1.4"/>
<path d="M194.3,605.4 C195.5,611.0 194.3,615.4 191.9,618.7" fill="none" stroke="#2c2c2c" stroke-width="1.4"/>
<path d="M174.2,606.0 C179.6,603.2 185.4,603.2 190.8,606.0" fill="none" stroke="#d6d6d6" stroke-width="1.8"/>
<ellipse cx="182.5" cy="611.0" rx="7.1" ry="3.3" fill="#aaa"/>
<circle cx="160.1" cy="598.8" r="1.2" fill="#ccc"/>
<circle cx="204.9" cy="601.5" r="1.2" fill="#ddd"/>
</g>
<ellipse cx="186" cy="584.5" rx="10" ry="13" fill="#ff7b7b" opacity="0.65" filter="url(#bl4)"/>
<ellipse cx="195" cy="627.5" rx="5" ry="3" fill="#ff7b7b" opacity="0.39" filter="url(#bl4)"/>
<ellipse cx="187.3" cy="583.8" rx="6" ry="7" fill="#ff3030" opacity="0.45" filter="url(#bl4)"/>
<rect x="184.8" y="579.6" width="5" height="5" fill="#e80d0d"/>
<rect x="184.0" y="578.8" width="6.6" height="6.6" fill="none" stroke="#45cdd6" stroke-width="1.3"/>
</g>
<line x1="156.6" y1="627.8" x2="162.6" y2="627.8" stroke="#f4f4f4" stroke-width="1.1"/>
<path d="M156.3,627.8 l1.6,-1.3 v2.6 Z M162.9,627.8 l-1.6,-1.3 v2.6 Z" fill="#f4f4f4"/>
<text x="165.2" y="631.3" font-size="10.6" style="font-family:'Liberation Sans',sans-serif;fill:#fff">3 mm</text>
<text class="b" x="182.6" y="652.4" font-size="10.8" text-anchor="middle" textLength="107.0" lengthAdjust="spacingAndGlyphs" style="fill:#151515">CNR map, max = 16.08</text>
<rect x="131.6" y="656.5" width="6.7" height="61.8" fill="url(#cb)" stroke="#333" stroke-width="0.9"/>
<text class="t" x="128" y="721.5" font-size="9" text-anchor="end">0</text>
<text class="t" x="128" y="702.3" font-size="9" text-anchor="end">5</text>
<text class="t" x="128" y="683.1" font-size="9" text-anchor="end">10</text>
<text class="t" x="128" y="663.9" font-size="9" text-anchor="end">15</text>
<rect x="152.4" y="656.5" width="62.2" height="61.6" fill="#060606"/>
<clipPath id="bc7"><rect x="152.4" y="656.5" width="62.2" height="61.6"/></clipPath>
<g clip-path="url(#bc7)">
<g filter="url(#tex)">
<rect x="152.4" y="656.5" width="62.2" height="61.8" fill="#0c0c0c"/>
<path d="M157.2,670.0 C159.1,666.4 161.6,663.3 164.9,661.3 C168.1,659.3 172.6,658.5 176.7,658.0 C180.9,657.5 185.8,657.5 189.8,658.0 C193.7,658.5 197.3,658.9 200.4,660.7 C203.6,662.5 206.8,665.3 208.7,668.9 C210.7,672.5 211.8,677.8 212.3,682.5 C212.8,687.2 212.5,692.9 211.7,697.2 C210.9,701.6 209.4,706.1 207.6,708.7 C205.7,711.2 203.0,712.2 200.4,712.5 C197.9,712.8 195.1,710.9 192.1,710.3 C189.2,709.8 185.8,709.2 182.7,709.2 C179.5,709.2 176.1,709.8 173.2,710.3 C170.2,710.9 167.4,712.8 164.9,712.5 C162.3,712.2 159.6,711.2 157.7,708.7 C155.9,706.1 154.4,701.6 153.6,697.2 C152.8,692.9 152.4,687.1 153.0,682.5 C153.6,678.0 155.2,673.5 157.2,670.0Z" fill="#828282" stroke="#a4a4a4" stroke-width="1.4"/>
<path d="M167.2,663.5 C164.9,677.1 170.8,685.2 177.9,688.0 L187.4,688.0 C194.5,685.2 200.4,677.1 198.1,663.5" fill="none" stroke="#3a3a3a" stroke-width="1.1"/>
<path d="M170.8,662.4 C179.7,659.6 188.6,659.6 195.7,662.4" fill="none" stroke="#555" stroke-width="0.9"/>
<path d="M163.1,674.4 C160.1,685.2 163.7,696.1 168.4,701.6" fill="none" stroke="#383838" stroke-width="1.3"/>
<path d="M202.2,674.4 C205.2,685.2 201.6,696.1 196.9,701.6" fill="none" stroke="#383838" stroke-width="1.3"/>
<path d="M170.8,691.8 C169.6,697.2 170.8,701.6 173.2,704.9" fill="none" stroke="#2c2c2c" stroke-width="1.4"/>
<path d="M194.5,691.8 C195.7,697.2 194.5,701.6 192.1,704.9" fill="none" stroke="#2c2c2c" stroke-width="1.4"/>
<path d="M174.3,692.3 C179.7,689.6 185.6,689.6 191.0,692.3" fill="none" stroke="#d6d6d6" stroke-width="1.8"/>
<ellipse cx="182.7" cy="697.2" rx="7.1" ry="3.3" fill="#aaa"/>
<circle cx="160.1" cy="685.2" r="1.2" fill="#ccc"/>
<circle cx="205.2" cy="688.0" r="1.2" fill="#ddd"/>
</g>
<ellipse cx="186" cy="664.5" rx="13" ry="6" fill="#ff7b7b" opacity="0.59" filter="url(#bl4)"/>
<ellipse cx="186" cy="671.5" rx="6" ry="8" fill="#ff7b7b" opacity="0.52" filter="url(#bl4)"/>
<ellipse cx="184.9" cy="668.7" rx="6" ry="7" fill="#ff3030" opacity="0.45" filter="url(#bl4)"/>
<rect x="182.4" y="664.5" width="5" height="5" fill="#e80d0d"/>
<rect x="181.6" y="663.7" width="6.6" height="6.6" fill="none" stroke="#45cdd6" stroke-width="1.3"/>
</g>
<line x1="156.6" y1="714.8" x2="162.6" y2="714.8" stroke="#f4f4f4" stroke-width="1.1"/>
<path d="M156.3,714.8 l1.6,-1.3 v2.6 Z M162.9,714.8 l-1.6,-1.3 v2.6 Z" fill="#f4f4f4"/>
<text x="165.2" y="718.3" font-size="10.6" style="font-family:'Liberation Sans',sans-serif;fill:#fff">3 mm</text>
<text class="b" x="182.6" y="739.4" font-size="10.8" text-anchor="middle" textLength="101.4" lengthAdjust="spacingAndGlyphs" style="fill:#151515">CNR map, max = 13.7</text>
<rect x="131.6" y="743.5" width="6.7" height="61.8" fill="url(#cb)" stroke="#333" stroke-width="0.9"/>
<text class="t" x="128" y="808.5" font-size="9" text-anchor="end">0</text>
<text class="t" x="128" y="785.9" font-size="9" text-anchor="end">5</text>
<text class="t" x="128" y="763.4" font-size="9" text-anchor="end">10</text>
<rect x="152.4" y="743.5" width="62.2" height="61.6" fill="#060606"/>
<clipPath id="bc8"><rect x="152.4" y="743.5" width="62.2" height="61.6"/></clipPath>
<g clip-path="url(#bc8)">
<g filter="url(#tex)">
<rect x="152.4" y="743.5" width="62.2" height="61.8" fill="#0c0c0c"/>
<path d="M171.3,749.2 C174.6,747.2 178.6,746.5 182.2,746.5 C185.9,746.5 189.9,747.2 193.2,749.2 C196.4,751.2 199.4,754.5 201.9,758.2 C204.3,761.9 206.6,767.2 207.9,771.2 C209.1,775.3 210.1,779.4 209.5,782.5 C208.9,785.6 206.8,788.6 204.1,790.1 C201.3,791.6 196.8,791.6 193.2,791.5 C189.5,791.4 185.9,789.2 182.2,789.2 C178.6,789.2 175.0,791.4 171.3,791.5 C167.7,791.6 163.2,791.6 160.4,790.1 C157.7,788.6 155.6,785.6 155.0,782.5 C154.4,779.4 155.4,775.3 156.6,771.2 C157.9,767.2 160.2,761.9 162.6,758.2 C165.1,754.5 168.1,751.2 171.3,749.2Z" fill="#828282" stroke="#a4a4a4" stroke-width="1.4"/>
<path d="M168.1,751.0 C165.9,762.2 171.3,769.0 177.9,771.2 L186.6,771.2 C193.2,769.0 198.6,762.2 196.4,751.0" fill="none" stroke="#3a3a3a" stroke-width="1.1"/>
<path d="M171.3,750.1 C179.5,747.9 187.7,747.9 194.2,750.1" fill="none" stroke="#555" stroke-width="0.9"/>
<path d="M164.3,760.0 C161.5,769.0 164.8,778.0 169.2,782.5" fill="none" stroke="#383838" stroke-width="1.3"/>
<path d="M200.2,760.0 C203.0,769.0 199.7,778.0 195.3,782.5" fill="none" stroke="#383838" stroke-width="1.3"/>
<path d="M171.3,774.4 C170.3,778.9 171.3,782.5 173.5,785.2" fill="none" stroke="#2c2c2c" stroke-width="1.4"/>
<path d="M193.2,774.4 C194.2,778.9 193.2,782.5 191.0,785.2" fill="none" stroke="#2c2c2c" stroke-width="1.4"/>
<path d="M174.6,774.9 C179.5,772.6 185.0,772.6 189.9,774.9" fill="none" stroke="#d6d6d6" stroke-width="1.8"/>
<ellipse cx="182.2" cy="778.9" rx="6.5" ry="2.7" fill="#aaa"/>
<circle cx="161.5" cy="769.0" r="1.2" fill="#ccc"/>
<circle cx="203.0" cy="771.2" r="1.2" fill="#ddd"/>
</g>
<ellipse cx="185" cy="758.5" rx="14" ry="13" fill="#ff7b7b" opacity="0.81" filter="url(#bl4)"/>
<ellipse cx="180" cy="789.5" rx="5" ry="3" fill="#ff7b7b" opacity="0.39" filter="url(#bl4)"/>
<ellipse cx="154" cy="786.5" rx="3" ry="4" fill="#ff7b7b" opacity="0.33" filter="url(#bl4)"/>
<ellipse cx="180.6" cy="759.1" rx="6" ry="7" fill="#ff3030" opacity="0.45" filter="url(#bl4)"/>
<rect x="178.1" y="754.9" width="5" height="5" fill="#e80d0d"/>
<rect x="177.3" y="754.1" width="6.6" height="6.6" fill="none" stroke="#45cdd6" stroke-width="1.3"/>
</g>
<line x1="156.6" y1="801.8" x2="162.6" y2="801.8" stroke="#f4f4f4" stroke-width="1.1"/>
<path d="M156.3,801.8 l1.6,-1.3 v2.6 Z M162.9,801.8 l-1.6,-1.3 v2.6 Z" fill="#f4f4f4"/>
<text x="165.2" y="805.3" font-size="10.6" style="font-family:'Liberation Sans',sans-serif;fill:#fff">3 mm</text>
<text class="b" x="182.6" y="825.4" font-size="10.8" text-anchor="middle" textLength="106.4" lengthAdjust="spacingAndGlyphs" style="fill:#151515">CNR map, max = 11.52</text>
<rect x="131.6" y="829.5" width="6.7" height="62.4" fill="url(#cb)" stroke="#333" stroke-width="0.9"/>
<text class="t" x="128" y="895.1" font-size="9" text-anchor="end">0</text>
<text class="t" x="128" y="868.0" font-size="9" text-anchor="end">5</text>
<text class="t" x="128" y="840.9" font-size="9" text-anchor="end">10</text>
<rect x="152.4" y="829.5" width="62.2" height="62.2" fill="#060606"/>
<clipPath id="bc9"><rect x="152.4" y="829.5" width="62.2" height="62.2"/></clipPath>
<g clip-path="url(#bc9)">
<g filter="url(#tex)">
<rect x="152.4" y="829.5" width="62.2" height="62.4" fill="#0c0c0c"/>
<path d="M172.6,835.4 C175.8,833.3 179.7,832.5 183.2,832.5 C186.8,832.5 190.7,833.3 193.9,835.4 C197.2,837.5 200.1,841.1 202.5,845.0 C204.9,848.9 207.1,854.6 208.4,858.9 C209.6,863.2 210.6,867.5 210.0,870.9 C209.4,874.3 207.3,877.5 204.7,879.1 C202.0,880.7 197.5,880.7 193.9,880.5 C190.4,880.3 186.8,878.1 183.2,878.1 C179.7,878.1 176.1,880.3 172.6,880.5 C169.0,880.7 164.5,880.7 161.8,879.1 C159.2,877.5 157.1,874.3 156.5,870.9 C155.9,867.5 156.9,863.2 158.1,858.9 C159.4,854.6 161.6,848.9 164.0,845.0 C166.4,841.1 169.3,837.5 172.6,835.4Z" fill="#828282" stroke="#a4a4a4" stroke-width="1.4"/>
<path d="M169.3,837.3 C167.2,849.3 172.6,856.5 179.0,858.9 L187.5,858.9 C193.9,856.5 199.3,849.3 197.2,837.3" fill="none" stroke="#3a3a3a" stroke-width="1.1"/>
<path d="M172.6,836.3 C180.6,833.9 188.6,833.9 195.0,836.3" fill="none" stroke="#555" stroke-width="0.9"/>
<path d="M165.6,846.9 C162.9,856.5 166.1,866.1 170.4,870.9" fill="none" stroke="#383838" stroke-width="1.3"/>
<path d="M200.9,846.9 C203.6,856.5 200.4,866.1 196.1,870.9" fill="none" stroke="#383838" stroke-width="1.3"/>
<path d="M172.6,862.3 C171.5,867.1 172.6,870.9 174.7,873.8" fill="none" stroke="#2c2c2c" stroke-width="1.4"/>
<path d="M193.9,862.3 C195.0,867.1 193.9,870.9 191.8,873.8" fill="none" stroke="#2c2c2c" stroke-width="1.4"/>
<path d="M175.8,862.7 C180.6,860.3 185.9,860.3 190.7,862.7" fill="none" stroke="#d6d6d6" stroke-width="1.8"/>
<ellipse cx="183.2" cy="867.1" rx="6.4" ry="2.9" fill="#aaa"/>
<circle cx="162.9" cy="856.5" r="1.2" fill="#ccc"/>
<circle cx="203.6" cy="858.9" r="1.2" fill="#ddd"/>
</g>
<ellipse cx="184" cy="845.5" rx="15" ry="13" fill="#ff7b7b" opacity="0.72" filter="url(#bl4)"/>
<ellipse cx="187.3" cy="840.1" rx="6" ry="7" fill="#ff3030" opacity="0.45" filter="url(#bl4)"/>
<rect x="184.8" y="835.9" width="5" height="5" fill="#e80d0d"/>
<rect x="184.0" y="835.1" width="6.6" height="6.6" fill="none" stroke="#45cdd6" stroke-width="1.3"/>
</g>
<line x1="156.6" y1="887.8" x2="162.6" y2="887.8" stroke="#f4f4f4" stroke-width="1.1"/>
<path d="M156.3,887.8 l1.6,-1.3 v2.6 Z M162.9,887.8 l-1.6,-1.3 v2.6 Z" fill="#f4f4f4"/>
<text x="165.2" y="891.3" font-size="10.6" style="font-family:'Liberation Sans',sans-serif;fill:#fff">3 mm</text>
<text class="b" x="62.4" y="61.9" font-size="12.8" text-anchor="middle" textLength="30.3" lengthAdjust="spacingAndGlyphs" style="fill:#0a0a0a">Rat 1</text>
<clipPath id="mc0"><rect x="31.2" y="65.6" width="65.0" height="104.7"/></clipPath>
<g clip-path="url(#mc0)"><g filter="url(#tex2)">
<rect x="31.2" y="65.6" width="65.0" height="104.7" fill="#0c0c0c"/>
<clipPath id="sil0"><path d="M44.2,175.5 C36.6,171.2 46.4,156.9 46.8,149.4 C47.2,141.9 46.7,135.7 46.8,130.5 C46.9,125.3 47.2,121.4 47.5,118.0 C47.7,114.5 47.6,111.8 48.1,109.6 C48.6,107.4 49.6,105.6 50.7,104.9 C51.8,104.2 53.4,104.3 54.6,105.4 C55.8,106.5 56.9,109.9 57.8,111.7 C58.8,113.4 59.6,115.5 60.5,115.9 C61.3,116.2 62.7,116.6 63.0,113.8 C63.4,111.0 62.6,102.8 62.4,99.1 C62.2,95.4 61.5,93.5 61.8,91.8 C62.0,90.0 62.3,89.5 63.7,88.6 C65.1,87.8 68.0,86.9 70.2,86.5 C72.4,86.2 75.2,87.2 76.7,86.5 C78.2,85.8 78.3,83.1 79.3,82.4 C80.3,81.6 81.7,81.1 82.5,81.8 C83.4,82.5 83.7,82.3 84.5,86.5 C85.3,90.8 86.2,100.5 87.1,107.5 C88.0,114.5 88.9,121.4 89.7,128.4 C90.5,135.4 91.2,141.5 91.7,149.4 C92.1,157.2 100.2,171.2 92.3,175.5 C84.4,179.9 51.8,179.9 44.2,175.5Z"/></clipPath>
<g filter="url(#bl1)">
<path d="M44.2,175.5 C36.6,171.2 46.4,156.9 46.8,149.4 C47.2,141.9 46.7,135.7 46.8,130.5 C46.9,125.3 47.2,121.4 47.5,118.0 C47.7,114.5 47.6,111.8 48.1,109.6 C48.6,107.4 49.6,105.6 50.7,104.9 C51.8,104.2 53.4,104.3 54.6,105.4 C55.8,106.5 56.9,109.9 57.8,111.7 C58.8,113.4 59.6,115.5 60.5,115.9 C61.3,116.2 62.7,116.6 63.0,113.8 C63.4,111.0 62.6,102.8 62.4,99.1 C62.2,95.4 61.5,93.5 61.8,91.8 C62.0,90.0 62.3,89.5 63.7,88.6 C65.1,87.8 68.0,86.9 70.2,86.5 C72.4,86.2 75.2,87.2 76.7,86.5 C78.2,85.8 78.3,83.1 79.3,82.4 C80.3,81.6 81.7,81.1 82.5,81.8 C83.4,82.5 83.7,82.3 84.5,86.5 C85.3,90.8 86.2,100.5 87.1,107.5 C88.0,114.5 88.9,121.4 89.7,128.4 C90.5,135.4 91.2,141.5 91.7,149.4 C92.1,157.2 100.2,171.2 92.3,175.5 C84.4,179.9 51.8,179.9 44.2,175.5Z" fill="#787878"/>
</g>
<g clip-path="url(#sil0)"><g filter="url(#bl3)">
<path d="M45.5,175.5 C42.2,167.7 46.4,137.7 47.5,128.4 C48.5,119.2 49.8,121.4 52.0,120.0 C54.2,118.6 58.3,118.6 60.5,120.0 C62.6,121.4 63.9,119.2 65.0,128.4 C66.1,137.7 70.2,167.7 67.0,175.5 C63.7,183.4 48.8,183.4 45.5,175.5Z" fill="#b2b2b2"/>
<ellipse cx="76.7" cy="103.3" rx="7.8" ry="10.5" fill="#3e3e3e"/>
<ellipse cx="81.9" cy="126.3" rx="6.5" ry="7.3" fill="#5c5c5c"/>
<path d="M68.9,175.5 C65.3,169.4 68.4,145.7 70.2,138.9 C72.0,132.1 76.7,135.1 80.0,134.7 C83.2,134.4 87.8,130.0 89.7,136.8 C91.7,143.6 95.1,169.1 91.7,175.5 C88.2,182.0 72.5,181.6 68.9,175.5Z" fill="#a8a8a8"/>
<ellipse cx="52.6" cy="112.7" rx="3.9" ry="6.3" fill="#696969"/>
<path d="M32.5,175.5 C31.5,172.9 38.7,164.2 41.0,159.8 C43.2,155.5 45.2,146.7 46.1,149.4 C47.1,152.0 49.1,171.2 46.8,175.5 C44.5,179.9 33.5,178.2 32.5,175.5Z" fill="#464646"/>
</g>
<g filter="url(#bl1)">
<path d="M74.1,109.6 C73.4,113.6 71.4,124.4 70.2,133.7 C69.0,142.9 67.6,158.1 67.0,165.1 C66.3,172.0 66.4,173.8 66.3,175.5" fill="none" stroke="#161616" stroke-width="3.0" stroke-linecap="round"/>
<path d="M82.5,81.8 C83.1,84.4 84.8,91.0 85.8,97.0 C86.8,103.0 87.6,111.0 88.4,118.0 C89.2,124.9 90.1,129.3 90.7,138.9 C91.2,148.5 91.5,169.4 91.7,175.5" fill="none" stroke="#cdcdcd" stroke-width="1.5" stroke-linecap="round"/>
<path d="M61.8,93.9 C62.1,93.0 62.3,89.9 63.7,88.6 C65.1,87.4 67.8,87.1 70.2,86.5 C72.6,86.0 76.7,85.7 78.0,85.5" fill="none" stroke="#cdcdcd" stroke-width="1.6" stroke-linecap="round"/>
<path d="M58.5,141.0 C59.1,142.7 61.3,148.0 62.4,151.5 C63.5,154.9 64.6,160.2 65.0,161.9" fill="none" stroke="#e8e8e8" stroke-width="2.0" stroke-linecap="round"/>
</g></g></g></g>
<line x1="31.2" y1="151.2" x2="96.2" y2="151.2" stroke="#f0f0f0" stroke-width="1.6" stroke-dasharray="2.4,2.25"/>
<text class="t" x="28.5" y="90.2" font-size="9.2" text-anchor="end">30</text>
<text class="t" x="28.5" y="112.2" font-size="9.2" text-anchor="end">20</text>
<text class="t" x="28.5" y="133.9" font-size="9.2" text-anchor="end">10</text>
<text class="t" x="28.5" y="155.9" font-size="9.2" text-anchor="end">0</text>
<text class="t" x="41.6" y="182.6" font-size="9.2" text-anchor="middle">-10</text>
<text class="t" x="62.6" y="182.6" font-size="9.2" text-anchor="middle">0</text>
<text class="t" x="85.3" y="182.6" font-size="9.2" text-anchor="middle">10</text>
<text class="b" x="62.8" y="198.5" font-size="10.8" text-anchor="middle" style="fill:#404040">y [mm]</text>
<text class="b" transform="translate(13.4,118.0) rotate(-90)" font-size="10.8" text-anchor="middle" style="fill:#404040">z [mm]</text>
<path d="M96.2,151.2 H102.6 V82.8 H110" fill="none" stroke="#1a1a1a" stroke-width="1"/>
<path d="M96.2,151.2 H102.6 V166.3 H110" fill="none" stroke="#1a1a1a" stroke-width="1"/>
<path d="M108.6,79.7 L115.6,82.8 L108.6,85.89999999999999 Z" fill="#111"/>
<path d="M108.6,163.20000000000002 L115.6,166.3 L108.6,169.4 Z" fill="#111"/>
<text class="b" x="62.4" y="232.0" font-size="12.8" text-anchor="middle" textLength="30.3" lengthAdjust="spacingAndGlyphs" style="fill:#0a0a0a">Rat 2</text>
<clipPath id="mc1"><rect x="31.2" y="236.7" width="65.0" height="104.8"/></clipPath>
<g clip-path="url(#mc1)"><g filter="url(#tex2)">
<rect x="31.2" y="236.7" width="65.0" height="104.8" fill="#0c0c0c"/>
<clipPath id="sil1"><path d="M44.2,346.7 C36.1,340.6 45.2,319.3 45.5,310.1 C45.8,300.8 45.7,295.0 46.1,291.2 C46.6,287.4 47.3,287.4 48.1,287.0 C48.9,286.7 49.6,289.3 50.7,289.1 C51.8,288.9 53.4,287.7 54.6,286.0 C55.8,284.2 56.9,280.5 57.8,278.6 C58.8,276.7 59.9,275.5 60.5,274.4 C61.0,273.4 62.0,272.9 61.1,272.3 C60.2,271.8 56.3,272.5 55.2,271.3 C54.2,270.1 54.1,266.9 54.6,265.0 C55.1,263.1 57.0,261.0 58.5,259.8 C60.0,258.5 62.4,258.7 63.7,257.7 C65.0,256.6 65.2,254.3 66.3,253.5 C67.4,252.7 68.9,251.9 70.2,252.9 C71.5,254.0 72.5,256.3 74.1,259.8 C75.7,263.2 78.1,268.5 80.0,273.4 C81.8,278.3 83.5,283.0 85.1,289.1 C86.8,295.2 88.4,303.9 89.7,310.1 C91.0,316.2 92.2,319.7 93.0,325.8 C93.7,331.9 102.4,343.2 94.2,346.7 C86.1,350.2 52.3,352.9 44.2,346.7Z"/></clipPath>
<g filter="url(#bl1)">
<path d="M44.2,346.7 C36.1,340.6 45.2,319.3 45.5,310.1 C45.8,300.8 45.7,295.0 46.1,291.2 C46.6,287.4 47.3,287.4 48.1,287.0 C48.9,286.7 49.6,289.3 50.7,289.1 C51.8,288.9 53.4,287.7 54.6,286.0 C55.8,284.2 56.9,280.5 57.8,278.6 C58.8,276.7 59.9,275.5 60.5,274.4 C61.0,273.4 62.0,272.9 61.1,272.3 C60.2,271.8 56.3,272.5 55.2,271.3 C54.2,270.1 54.1,266.9 54.6,265.0 C55.1,263.1 57.0,261.0 58.5,259.8 C60.0,258.5 62.4,258.7 63.7,257.7 C65.0,256.6 65.2,254.3 66.3,253.5 C67.4,252.7 68.9,251.9 70.2,252.9 C71.5,254.0 72.5,256.3 74.1,259.8 C75.7,263.2 78.1,268.5 80.0,273.4 C81.8,278.3 83.5,283.0 85.1,289.1 C86.8,295.2 88.4,303.9 89.7,310.1 C91.0,316.2 92.2,319.7 93.0,325.8 C93.7,331.9 102.4,343.2 94.2,346.7 C86.1,350.2 52.3,352.9 44.2,346.7Z" fill="#6e6e6e"/>
</g>
<g clip-path="url(#sil1)"><g filter="url(#bl3)">
<path d="M45.5,346.7 C41.8,338.0 45.3,303.6 46.1,294.3 C47.0,285.1 48.6,293.5 50.7,291.2 C52.8,288.9 56.3,281.9 58.5,280.7 C60.7,279.5 62.2,280.7 63.7,283.9 C65.2,287.0 66.8,289.1 67.6,299.6 C68.4,310.1 71.9,338.9 68.2,346.7 C64.6,354.6 49.2,355.5 45.5,346.7Z" fill="#989898"/>
<path d="M54.6,268.1 C53.7,267.3 54.3,265.5 55.2,263.9 C56.2,262.4 58.5,260.3 60.5,258.7 C62.4,257.1 65.1,255.0 67.0,254.5 C68.8,254.0 71.0,254.0 71.5,255.6 C72.0,257.1 72.0,261.7 70.2,263.9 C68.4,266.2 63.1,268.5 60.5,269.2 C57.9,269.9 55.5,269.0 54.6,268.1Z" fill="#8c8c8c"/>
<ellipse cx="67.0" cy="278.6" rx="6.5" ry="7.3" fill="#3e3e3e"/>
<ellipse cx="78.6" cy="294.3" rx="6.5" ry="10.5" fill="#373737"/>
<path d="M71.5,346.7 C68.0,341.0 70.8,319.0 72.8,312.2 C74.8,305.3 80.2,305.9 83.2,305.9 C86.2,305.9 89.3,305.3 91.0,312.2 C92.7,319.0 96.8,341.0 93.6,346.7 C90.3,352.5 75.0,352.5 71.5,346.7Z" fill="#8c8c8c"/>
</g>
<g filter="url(#bl1)">
<path d="M69.5,294.3 C69.7,297.8 70.1,308.3 70.2,315.3 C70.3,322.3 70.2,331.0 70.2,336.3 C70.2,341.5 70.2,345.0 70.2,346.7" fill="none" stroke="#0f0f0f" stroke-width="3.5" stroke-linecap="round"/>
<path d="M70.2,252.9 C71.8,256.0 77.2,264.9 80.0,271.3 C82.7,277.7 84.5,283.9 86.5,291.2 C88.4,298.5 90.4,306.0 91.7,315.3 C92.9,324.6 93.5,341.5 93.9,346.7" fill="none" stroke="#b9b9b9" stroke-width="1.6" stroke-linecap="round"/>
</g></g></g></g>
<line x1="31.2" y1="327.4" x2="96.2" y2="327.4" stroke="#f0f0f0" stroke-width="1.6" stroke-dasharray="2.4,2.25"/>
<text class="t" x="28.5" y="242.1" font-size="9.2" text-anchor="end">40</text>
<text class="t" x="28.5" y="264.8" font-size="9.2" text-anchor="end">30</text>
<text class="t" x="28.5" y="286.2" font-size="9.2" text-anchor="end">20</text>
<text class="t" x="28.5" y="309.0" font-size="9.2" text-anchor="end">10</text>
<text class="t" x="28.5" y="331.1" font-size="9.2" text-anchor="end">0</text>
<text class="t" x="41.6" y="353.8" font-size="9.2" text-anchor="middle">-10</text>
<text class="t" x="62.6" y="353.8" font-size="9.2" text-anchor="middle">0</text>
<text class="t" x="85.3" y="353.8" font-size="9.2" text-anchor="middle">10</text>
<text class="b" x="62.8" y="369.7" font-size="10.8" text-anchor="middle" style="fill:#404040">y [mm]</text>
<text class="b" transform="translate(13.4,289.1) rotate(-90)" font-size="10.8" text-anchor="middle" style="fill:#404040">z [mm]</text>
<path d="M96.2,327.4 H102.6 V250.8 H110" fill="none" stroke="#1a1a1a" stroke-width="1"/>
<path d="M96.2,327.4 H102.6 V340 H110" fill="none" stroke="#1a1a1a" stroke-width="1"/>
<path d="M108.6,247.70000000000002 L115.6,250.8 L108.6,253.9 Z" fill="#111"/>
<path d="M108.6,336.9 L115.6,340 L108.6,343.1 Z" fill="#111"/>
<text class="b" x="62.4" y="402.6" font-size="12.8" text-anchor="middle" textLength="30.3" lengthAdjust="spacingAndGlyphs" style="fill:#0a0a0a">Rat 3</text>
<clipPath id="mc2"><rect x="31.2" y="406.7" width="65.0" height="105.2"/></clipPath>
<g clip-path="url(#mc2)"><g filter="url(#tex2)">
<rect x="31.2" y="406.7" width="65.0" height="105.2" fill="#0c0c0c"/>
<clipPath id="sil2"><path d="M33.8,517.2 C25.0,511.9 36.9,496.1 37.7,485.6 C38.5,475.1 37.8,459.8 38.4,454.0 C38.9,448.3 39.8,451.2 41.0,450.9 C42.1,450.5 44.2,451.2 45.5,451.9 C46.8,452.6 47.6,455.6 48.8,455.1 C49.9,454.6 51.8,451.6 52.6,448.8 C53.5,446.0 54.0,441.1 54.0,438.3 C54.0,435.5 52.5,434.6 52.6,431.9 C52.8,429.3 53.6,425.3 54.6,422.5 C55.6,419.7 57.0,416.9 58.5,415.1 C60.0,413.4 62.0,412.1 63.7,412.0 C65.4,411.8 67.3,412.3 68.9,414.1 C70.5,415.8 71.9,418.4 73.5,422.5 C75.0,426.5 76.4,433.0 78.0,438.3 C79.6,443.5 81.7,448.8 83.2,454.0 C84.7,459.3 86.0,463.7 87.1,469.8 C88.2,476.0 89.2,483.0 89.7,490.9 C90.2,498.8 99.7,512.8 90.3,517.2 C81.0,521.5 42.6,522.4 33.8,517.2Z"/></clipPath>
<g filter="url(#bl1)">
<path d="M33.8,517.2 C25.0,511.9 36.9,496.1 37.7,485.6 C38.5,475.1 37.8,459.8 38.4,454.0 C38.9,448.3 39.8,451.2 41.0,450.9 C42.1,450.5 44.2,451.2 45.5,451.9 C46.8,452.6 47.6,455.6 48.8,455.1 C49.9,454.6 51.8,451.6 52.6,448.8 C53.5,446.0 54.0,441.1 54.0,438.3 C54.0,435.5 52.5,434.6 52.6,431.9 C52.8,429.3 53.6,425.3 54.6,422.5 C55.6,419.7 57.0,416.9 58.5,415.1 C60.0,413.4 62.0,412.1 63.7,412.0 C65.4,411.8 67.3,412.3 68.9,414.1 C70.5,415.8 71.9,418.4 73.5,422.5 C75.0,426.5 76.4,433.0 78.0,438.3 C79.6,443.5 81.7,448.8 83.2,454.0 C84.7,459.3 86.0,463.7 87.1,469.8 C88.2,476.0 89.2,483.0 89.7,490.9 C90.2,498.8 99.7,512.8 90.3,517.2 C81.0,521.5 42.6,522.4 33.8,517.2Z" fill="#3e3e3e"/>
</g>
<g clip-path="url(#sil2)"><g filter="url(#bl3)">
<path d="M35.1,517.2 C31.2,507.2 36.6,467.7 38.4,457.2 C40.1,446.7 43.4,453.7 45.5,454.0 C47.6,454.4 48.2,458.4 50.7,459.3 C53.2,460.2 58.6,449.7 60.5,459.3 C62.3,468.9 66.0,507.5 61.8,517.2 C57.5,526.8 39.0,527.2 35.1,517.2Z" fill="#505050"/>
<path d="M65.0,517.2 C61.2,511.0 65.0,487.4 67.0,480.3 C68.9,473.3 73.3,475.1 76.7,475.1 C80.1,475.1 84.9,473.3 87.1,480.3 C89.3,487.4 93.4,511.0 89.7,517.2 C86.0,523.3 68.8,523.3 65.0,517.2Z" fill="#4c4c4c"/>
<ellipse cx="67.0" cy="438.3" rx="6.5" ry="12.6" fill="#323232"/>
</g>
<g filter="url(#bl1)">
<path d="M62.4,450.9 C62.6,455.8 63.7,471.0 63.7,480.3 C63.7,489.6 62.6,500.5 62.4,506.6 C62.2,512.8 62.4,515.4 62.4,517.2" fill="none" stroke="#0f0f0f" stroke-width="3.0" stroke-linecap="round"/>
<path d="M63.7,412.0 C65.3,413.7 70.4,416.0 73.5,422.5 C76.5,429.0 79.5,442.1 81.9,450.9 C84.3,459.7 86.5,464.0 87.8,475.1 C89.0,486.1 89.4,510.1 89.7,517.2" fill="none" stroke="#969696" stroke-width="1.4" stroke-linecap="round"/>
<path d="M58.5,417.2 C58.8,420.7 59.6,431.2 60.5,438.3 C61.3,445.3 63.2,455.8 63.7,459.3" fill="none" stroke="#828282" stroke-width="1.2" stroke-linecap="round"/>
</g></g></g></g>
<line x1="31.2" y1="487.7" x2="96.2" y2="487.7" stroke="#f0f0f0" stroke-width="1.6" stroke-dasharray="2.4,2.25"/>
<text class="t" x="28.5" y="419.6" font-size="9.2" text-anchor="end">30</text>
<text class="t" x="28.5" y="441.9" font-size="9.2" text-anchor="end">20</text>
<text class="t" x="28.5" y="463.5" font-size="9.2" text-anchor="end">10</text>
<text class="t" x="28.5" y="485.5" font-size="9.2" text-anchor="end">0</text>
<text class="t" x="28.5" y="507.5" font-size="9.2" text-anchor="end">-10</text>
<text class="t" x="41.6" y="524.2" font-size="9.2" text-anchor="middle">-10</text>
<text class="t" x="62.6" y="524.2" font-size="9.2" text-anchor="middle">0</text>
<text class="t" x="85.3" y="524.2" font-size="9.2" text-anchor="middle">10</text>
<text class="b" x="62.8" y="540.1" font-size="10.8" text-anchor="middle" style="fill:#404040">y [mm]</text>
<text class="b" transform="translate(13.4,459.3) rotate(-90)" font-size="10.8" text-anchor="middle" style="fill:#404040">z [mm]</text>
<path d="M96.2,487.7 H102.6 V427.9 H110" fill="none" stroke="#1a1a1a" stroke-width="1"/>
<path d="M96.2,487.7 H102.6 V513 H110" fill="none" stroke="#1a1a1a" stroke-width="1"/>
<path d="M108.6,424.79999999999995 L115.6,427.9 L108.6,431.0 Z" fill="#111"/>
<path d="M108.6,509.9 L115.6,513 L108.6,516.1 Z" fill="#111"/>
<text class="b" x="62.4" y="573.6" font-size="12.8" text-anchor="middle" textLength="30.3" lengthAdjust="spacingAndGlyphs" style="fill:#0a0a0a">Rat 4</text>
<clipPath id="mc3"><rect x="31.2" y="577" width="65.0" height="105.8"/></clipPath>
<g clip-path="url(#mc3)"><g filter="url(#tex2)">
<rect x="31.2" y="577" width="65.0" height="105.8" fill="#0c0c0c"/>
<clipPath id="sil3"><path d="M37.7,688.1 C29.0,681.9 36.5,660.8 36.4,651.1 C36.3,641.4 36.5,634.1 37.0,629.9 C37.6,625.7 38.5,626.5 39.6,625.7 C40.8,624.8 42.7,624.3 44.2,624.6 C45.7,625.0 47.7,628.1 48.8,627.8 C49.8,627.4 49.6,623.9 50.7,622.5 C51.8,621.1 54.3,621.1 55.2,619.3 C56.2,617.6 57.1,613.7 56.5,611.9 C56.0,610.2 52.9,610.3 52.0,608.7 C51.1,607.2 50.8,604.3 51.3,602.4 C51.9,600.5 53.7,598.3 55.2,597.1 C56.8,595.9 59.0,596.2 60.5,595.0 C61.9,593.8 62.4,590.8 63.7,589.7 C65.0,588.6 66.7,587.9 68.2,588.6 C69.8,589.3 71.5,591.5 72.8,593.9 C74.1,596.4 74.8,598.9 76.0,603.5 C77.3,608.0 79.1,615.6 80.6,621.4 C82.1,627.3 84.0,632.5 85.1,638.4 C86.3,644.2 87.2,648.1 87.8,656.3 C88.3,664.6 96.7,682.8 88.4,688.1 C80.1,693.4 46.4,694.3 37.7,688.1Z"/></clipPath>
<g filter="url(#bl1)">
<path d="M37.7,688.1 C29.0,681.9 36.5,660.8 36.4,651.1 C36.3,641.4 36.5,634.1 37.0,629.9 C37.6,625.7 38.5,626.5 39.6,625.7 C40.8,624.8 42.7,624.3 44.2,624.6 C45.7,625.0 47.7,628.1 48.8,627.8 C49.8,627.4 49.6,623.9 50.7,622.5 C51.8,621.1 54.3,621.1 55.2,619.3 C56.2,617.6 57.1,613.7 56.5,611.9 C56.0,610.2 52.9,610.3 52.0,608.7 C51.1,607.2 50.8,604.3 51.3,602.4 C51.9,600.5 53.7,598.3 55.2,597.1 C56.8,595.9 59.0,596.2 60.5,595.0 C61.9,593.8 62.4,590.8 63.7,589.7 C65.0,588.6 66.7,587.9 68.2,588.6 C69.8,589.3 71.5,591.5 72.8,593.9 C74.1,596.4 74.8,598.9 76.0,603.5 C77.3,608.0 79.1,615.6 80.6,621.4 C82.1,627.3 84.0,632.5 85.1,638.4 C86.3,644.2 87.2,648.1 87.8,656.3 C88.3,664.6 96.7,682.8 88.4,688.1 C80.1,693.4 46.4,694.3 37.7,688.1Z" fill="#5f5f5f"/>
</g>
<g clip-path="url(#sil3)"><g filter="url(#bl3)">
<path d="M52.0,607.7 C51.1,606.6 51.4,604.0 52.0,602.4 C52.6,600.8 54.4,599.2 55.9,598.2 C57.4,597.1 59.8,596.0 61.1,596.0 C62.4,596.0 63.5,596.4 63.7,598.2 C63.9,599.9 63.5,604.9 62.4,606.6 C61.3,608.4 58.9,608.6 57.2,608.7 C55.5,608.9 52.9,608.7 52.0,607.7Z" fill="#969696"/>
<path d="M37.7,688.1 C33.5,678.7 36.0,642.2 37.0,632.0 C38.1,621.8 41.9,627.8 44.2,626.7 C46.5,625.7 48.0,626.2 50.7,625.7 C53.4,625.1 58.5,613.1 60.5,623.6 C62.4,634.0 66.2,677.3 62.4,688.1 C58.6,698.8 41.9,697.4 37.7,688.1Z" fill="#737373"/>
<ellipse cx="45.5" cy="637.3" rx="3.2" ry="5.3" fill="#282828"/>
<ellipse cx="71.5" cy="638.4" rx="7.8" ry="14.8" fill="#464646"/>
<path d="M63.7,688.1 C59.8,683.7 62.8,666.4 65.0,661.6 C67.2,656.9 72.9,659.5 76.7,659.5 C80.5,659.5 85.8,656.9 87.8,661.6 C89.7,666.4 92.4,683.7 88.4,688.1 C84.4,692.5 67.6,692.5 63.7,688.1Z" fill="#7d7d7d"/>
</g>
<g filter="url(#bl1)">
<path d="M63.0,608.7 C63.0,614.0 63.0,627.3 63.0,640.5 C63.0,653.7 63.0,680.2 63.0,688.1" fill="none" stroke="#282828" stroke-width="1.6" stroke-linecap="round"/>
<path d="M68.2,588.6 C69.4,591.1 73.1,597.5 75.4,603.5 C77.7,609.4 80.1,617.6 81.9,624.6 C83.7,631.7 85.5,635.2 86.5,645.8 C87.4,656.3 87.5,681.0 87.8,688.1" fill="none" stroke="#bebebe" stroke-width="1.5" stroke-linecap="round"/>
<path d="M63.7,614.0 C63.9,615.3 64.8,620.2 65.0,621.4" fill="none" stroke="#dcdcdc" stroke-width="2.0" stroke-linecap="round"/>
</g></g></g></g>
<line x1="31.2" y1="664.6" x2="96.2" y2="664.6" stroke="#f0f0f0" stroke-width="1.6" stroke-dasharray="2.4,2.25"/>
<line x1="31.2" y1="667.7" x2="96.2" y2="667.7" stroke="#f0f0f0" stroke-width="1.6" stroke-dasharray="2.4,2.25"/>
<text class="t" x="28.5" y="593.2" font-size="9.2" text-anchor="end">30</text>
<text class="t" x="28.5" y="615.8" font-size="9.2" text-anchor="end">20</text>
<text class="t" x="28.5" y="637.4" font-size="9.2" text-anchor="end">10</text>
<text class="t" x="28.5" y="659.0" font-size="9.2" text-anchor="end">0</text>
<text class="t" x="28.5" y="682.2" font-size="9.2" text-anchor="end">-10</text>
<text class="t" x="41.6" y="695.1" font-size="9.2" text-anchor="middle">-10</text>
<text class="t" x="62.6" y="695.1" font-size="9.2" text-anchor="middle">0</text>
<text class="t" x="85.3" y="695.1" font-size="9.2" text-anchor="middle">10</text>
<text class="b" x="62.8" y="711.0" font-size="10.8" text-anchor="middle" style="fill:#404040">y [mm]</text>
<text class="b" transform="translate(13.4,629.9) rotate(-90)" font-size="10.8" text-anchor="middle" style="fill:#404040">z [mm]</text>
<path d="M96.2,664.6 H102.6 V605.8 H110" fill="none" stroke="#1a1a1a" stroke-width="1"/>
<path d="M96.2,667.7 H102.6 V679.5 H110" fill="none" stroke="#1a1a1a" stroke-width="1"/>
<path d="M108.6,602.6999999999999 L115.6,605.8 L108.6,608.9 Z" fill="#111"/>
<path d="M108.6,676.4 L115.6,679.5 L108.6,682.6 Z" fill="#111"/>
<text class="b" x="62.4" y="743.6" font-size="12.8" text-anchor="middle" textLength="30.3" lengthAdjust="spacingAndGlyphs" style="fill:#0a0a0a">Rat 5</text>
<clipPath id="mc4"><rect x="31.2" y="747.7" width="65.0" height="105.4"/></clipPath>
<g clip-path="url(#mc4)"><g filter="url(#tex2)">
<rect x="31.2" y="747.7" width="65.0" height="105.4" fill="#0c0c0c"/>
<clipPath id="sil4"><path d="M44.2,858.4 C36.2,852.2 44.3,831.1 44.2,821.5 C44.1,811.8 43.3,805.0 43.5,800.4 C43.8,795.8 44.5,795.3 45.5,794.1 C46.5,792.8 48.2,792.7 49.4,793.0 C50.6,793.4 51.4,796.7 52.6,796.2 C53.9,795.7 56.0,792.1 57.2,789.9 C58.4,787.6 59.8,784.6 59.8,782.5 C59.8,780.4 57.5,779.1 57.2,777.2 C56.9,775.3 57.1,772.8 57.8,770.9 C58.6,769.0 60.3,767.0 61.8,765.6 C63.2,764.2 64.9,763.3 66.3,762.5 C67.7,761.6 68.9,760.5 70.2,760.3 C71.5,760.2 72.8,760.0 74.1,761.4 C75.4,762.8 76.8,764.9 78.0,768.8 C79.2,772.6 80.1,779.3 81.2,784.6 C82.4,789.9 83.7,794.3 85.1,800.4 C86.6,806.5 88.6,815.3 89.7,821.5 C90.8,827.6 91.2,831.1 91.7,837.3 C92.1,843.4 100.2,854.9 92.3,858.4 C84.4,861.9 52.2,864.5 44.2,858.4Z"/></clipPath>
<g filter="url(#bl1)">
<path d="M44.2,858.4 C36.2,852.2 44.3,831.1 44.2,821.5 C44.1,811.8 43.3,805.0 43.5,800.4 C43.8,795.8 44.5,795.3 45.5,794.1 C46.5,792.8 48.2,792.7 49.4,793.0 C50.6,793.4 51.4,796.7 52.6,796.2 C53.9,795.7 56.0,792.1 57.2,789.9 C58.4,787.6 59.8,784.6 59.8,782.5 C59.8,780.4 57.5,779.1 57.2,777.2 C56.9,775.3 57.1,772.8 57.8,770.9 C58.6,769.0 60.3,767.0 61.8,765.6 C63.2,764.2 64.9,763.3 66.3,762.5 C67.7,761.6 68.9,760.5 70.2,760.3 C71.5,760.2 72.8,760.0 74.1,761.4 C75.4,762.8 76.8,764.9 78.0,768.8 C79.2,772.6 80.1,779.3 81.2,784.6 C82.4,789.9 83.7,794.3 85.1,800.4 C86.6,806.5 88.6,815.3 89.7,821.5 C90.8,827.6 91.2,831.1 91.7,837.3 C92.1,843.4 100.2,854.9 92.3,858.4 C84.4,861.9 52.2,864.5 44.2,858.4Z" fill="#585858"/>
</g>
<g clip-path="url(#sil4)"><g filter="url(#bl3)">
<path d="M57.8,775.1 C56.4,774.2 57.5,771.4 58.5,769.8 C59.5,768.3 61.8,766.8 63.7,765.6 C65.7,764.4 68.7,762.3 70.2,762.5 C71.7,762.6 73.3,764.6 72.8,766.7 C72.3,768.8 69.4,773.7 67.0,775.1 C64.5,776.5 59.3,776.0 57.8,775.1Z" fill="#828282"/>
<path d="M44.2,858.4 C40.7,848.7 43.3,810.9 44.2,800.4 C45.1,789.9 47.2,796.5 49.4,795.1 C51.6,793.7 54.8,792.0 57.2,792.0 C59.6,792.0 62.4,784.1 63.7,795.1 C65.0,806.2 68.2,847.8 65.0,858.4 C61.8,868.9 47.7,868.0 44.2,858.4Z" fill="#6c6c6c"/>
<ellipse cx="73.5" cy="800.4" rx="7.8" ry="14.8" fill="#3c3c3c"/>
<path d="M68.9,858.4 C65.5,851.9 69.1,826.9 71.5,819.4 C73.9,811.8 80.2,812.7 83.2,813.0 C86.2,813.4 88.3,813.9 89.7,821.5 C91.1,829.0 95.1,852.2 91.7,858.4 C88.2,864.5 72.3,864.9 68.9,858.4Z" fill="#808080"/>
<ellipse cx="48.8" cy="826.8" rx="3.2" ry="5.3" fill="#282828"/>
</g>
<g filter="url(#bl1)">
<path d="M67.0,784.6 C66.7,789.9 66.0,803.9 65.7,816.2 C65.3,828.5 65.1,851.3 65.0,858.4" fill="none" stroke="#1e1e1e" stroke-width="2.0" stroke-linecap="round"/>
<path d="M70.2,760.3 C71.5,761.8 75.8,763.5 78.0,768.8 C80.2,774.1 81.2,783.2 83.2,792.0 C85.2,800.8 88.3,810.4 89.7,821.5 C91.1,832.5 91.3,852.2 91.7,858.4" fill="none" stroke="#b4b4b4" stroke-width="1.5" stroke-linecap="round"/>
</g></g></g></g>
<line x1="31.2" y1="825" x2="96.2" y2="825" stroke="#f0f0f0" stroke-width="1.6" stroke-dasharray="2.4,2.25"/>
<text class="t" x="28.5" y="767.8" font-size="9.2" text-anchor="end">30</text>
<text class="t" x="28.5" y="789.8" font-size="9.2" text-anchor="end">20</text>
<text class="t" x="28.5" y="811.4" font-size="9.2" text-anchor="end">10</text>
<text class="t" x="28.5" y="833.0" font-size="9.2" text-anchor="end">0</text>
<text class="t" x="28.5" y="855.9" font-size="9.2" text-anchor="end">-10</text>
<text class="t" x="41.6" y="865.4" font-size="9.2" text-anchor="middle">-10</text>
<text class="t" x="62.6" y="865.4" font-size="9.2" text-anchor="middle">0</text>
<text class="t" x="85.3" y="865.4" font-size="9.2" text-anchor="middle">10</text>
<text class="b" x="62.8" y="881.3" font-size="10.8" text-anchor="middle" style="fill:#404040">y [mm]</text>
<text class="b" transform="translate(13.4,800.4) rotate(-90)" font-size="10.8" text-anchor="middle" style="fill:#404040">z [mm]</text>
<path d="M96.2,825 H102.6 V775.8 H110" fill="none" stroke="#1a1a1a" stroke-width="1"/>
<path d="M96.2,825 H102.6 V849.2 H110" fill="none" stroke="#1a1a1a" stroke-width="1"/>
<path d="M108.6,772.6999999999999 L115.6,775.8 L108.6,778.9 Z" fill="#111"/>
<path d="M108.6,846.1 L115.6,849.2 L108.6,852.3000000000001 Z" fill="#111"/>
</svg></body></html>
